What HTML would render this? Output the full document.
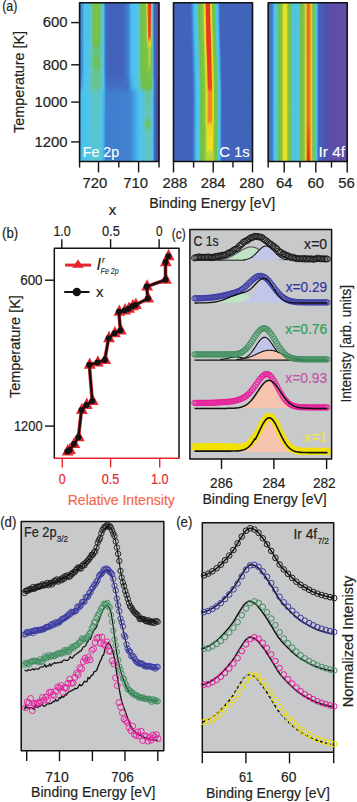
<!DOCTYPE html>
<html><head><meta charset="utf-8"><style>
html,body{margin:0;padding:0;background:#fff;width:357px;height:802px;overflow:hidden}
svg{display:block;font-family:'Liberation Sans',sans-serif}
</style></head><body>
<svg width="357" height="802" viewBox="0 0 357 802" style="font-family:'Liberation Sans',sans-serif">
<defs><linearGradient id="g1" x1="0" y1="0" x2="1" y2="0"><stop offset="0.000" stop-color="#4084d4"/><stop offset="0.013" stop-color="#3f89d7"/><stop offset="0.025" stop-color="#4092dd"/><stop offset="0.038" stop-color="#429ce1"/><stop offset="0.050" stop-color="#47b1e8"/><stop offset="0.063" stop-color="#4cc3ef"/><stop offset="0.076" stop-color="#4ec3ec"/><stop offset="0.088" stop-color="#4fc3e8"/><stop offset="0.101" stop-color="#51c4e5"/><stop offset="0.113" stop-color="#52c4e2"/><stop offset="0.126" stop-color="#56c4d9"/><stop offset="0.139" stop-color="#5cc5cc"/><stop offset="0.151" stop-color="#63c6b9"/><stop offset="0.164" stop-color="#6ac277"/><stop offset="0.176" stop-color="#77c247"/><stop offset="0.239" stop-color="#77c247"/><stop offset="0.252" stop-color="#73c147"/><stop offset="0.264" stop-color="#69c385"/><stop offset="0.277" stop-color="#61c6c2"/><stop offset="0.290" stop-color="#57c5d7"/><stop offset="0.302" stop-color="#4cc3ef"/><stop offset="0.315" stop-color="#4198df"/><stop offset="0.327" stop-color="#4172c5"/><stop offset="0.340" stop-color="#4269be"/><stop offset="0.353" stop-color="#4267bc"/><stop offset="0.365" stop-color="#4264ba"/><stop offset="0.378" stop-color="#4363b9"/><stop offset="0.390" stop-color="#4362b9"/><stop offset="0.529" stop-color="#4362b9"/><stop offset="0.542" stop-color="#4264ba"/><stop offset="0.554" stop-color="#4268bd"/><stop offset="0.567" stop-color="#416dc1"/><stop offset="0.579" stop-color="#4172c5"/><stop offset="0.592" stop-color="#4179ca"/><stop offset="0.605" stop-color="#407fcf"/><stop offset="0.617" stop-color="#4086d5"/><stop offset="0.630" stop-color="#429de1"/><stop offset="0.642" stop-color="#49b5ea"/><stop offset="0.655" stop-color="#4abded"/><stop offset="0.668" stop-color="#4bc0ee"/><stop offset="0.680" stop-color="#4cc3ef"/><stop offset="0.693" stop-color="#4dc3ec"/><stop offset="0.705" stop-color="#4fc3e9"/><stop offset="0.718" stop-color="#51c4e4"/><stop offset="0.730" stop-color="#56c4d9"/><stop offset="0.743" stop-color="#5bc5ce"/><stop offset="0.756" stop-color="#64c5ad"/><stop offset="0.768" stop-color="#6dc165"/><stop offset="0.781" stop-color="#72c148"/><stop offset="0.793" stop-color="#75c147"/><stop offset="0.806" stop-color="#78c246"/><stop offset="0.819" stop-color="#7bc346"/><stop offset="0.831" stop-color="#7ec445"/><stop offset="0.844" stop-color="#cdda2e"/><stop offset="0.856" stop-color="#f09728"/><stop offset="0.869" stop-color="#e93921"/><stop offset="0.894" stop-color="#e93921"/><stop offset="0.907" stop-color="#f0ac26"/><stop offset="0.919" stop-color="#5ec5c9"/><stop offset="0.932" stop-color="#4083d3"/><stop offset="0.945" stop-color="#4264ba"/><stop offset="0.957" stop-color="#485ab3"/><stop offset="0.970" stop-color="#5a4faa"/><stop offset="0.982" stop-color="#5b4fa9"/><stop offset="0.995" stop-color="#5c4ea9"/></linearGradient><linearGradient id="g2" x1="0" y1="0" x2="1" y2="0"><stop offset="0.000" stop-color="#4084d4"/><stop offset="0.013" stop-color="#3f89d7"/><stop offset="0.025" stop-color="#4092dd"/><stop offset="0.038" stop-color="#429ce1"/><stop offset="0.050" stop-color="#47b1e8"/><stop offset="0.063" stop-color="#4cc3ef"/><stop offset="0.076" stop-color="#4ec3ec"/><stop offset="0.088" stop-color="#4fc3e8"/><stop offset="0.101" stop-color="#51c4e5"/><stop offset="0.113" stop-color="#52c4e2"/><stop offset="0.126" stop-color="#56c4d9"/><stop offset="0.139" stop-color="#5cc5cc"/><stop offset="0.151" stop-color="#63c6b9"/><stop offset="0.164" stop-color="#6ac277"/><stop offset="0.176" stop-color="#77c247"/><stop offset="0.239" stop-color="#77c247"/><stop offset="0.252" stop-color="#73c147"/><stop offset="0.264" stop-color="#69c385"/><stop offset="0.277" stop-color="#61c6c2"/><stop offset="0.290" stop-color="#57c5d7"/><stop offset="0.302" stop-color="#4cc3ef"/><stop offset="0.315" stop-color="#4198df"/><stop offset="0.327" stop-color="#4172c5"/><stop offset="0.340" stop-color="#4269be"/><stop offset="0.353" stop-color="#4267bc"/><stop offset="0.365" stop-color="#4264ba"/><stop offset="0.378" stop-color="#4363b9"/><stop offset="0.390" stop-color="#4362b9"/><stop offset="0.529" stop-color="#4362b9"/><stop offset="0.542" stop-color="#4264ba"/><stop offset="0.554" stop-color="#4268bd"/><stop offset="0.567" stop-color="#416dc1"/><stop offset="0.579" stop-color="#4172c5"/><stop offset="0.592" stop-color="#4179ca"/><stop offset="0.605" stop-color="#407fcf"/><stop offset="0.617" stop-color="#4086d5"/><stop offset="0.630" stop-color="#429de1"/><stop offset="0.642" stop-color="#49b5ea"/><stop offset="0.655" stop-color="#4abded"/><stop offset="0.668" stop-color="#4bc0ee"/><stop offset="0.680" stop-color="#4cc3ef"/><stop offset="0.693" stop-color="#4dc3ec"/><stop offset="0.705" stop-color="#4fc3e9"/><stop offset="0.718" stop-color="#51c4e4"/><stop offset="0.730" stop-color="#56c4d9"/><stop offset="0.743" stop-color="#5bc5ce"/><stop offset="0.756" stop-color="#64c5ad"/><stop offset="0.768" stop-color="#6dc165"/><stop offset="0.781" stop-color="#72c048"/><stop offset="0.793" stop-color="#74c147"/><stop offset="0.806" stop-color="#77c247"/><stop offset="0.819" stop-color="#79c346"/><stop offset="0.831" stop-color="#7cc446"/><stop offset="0.844" stop-color="#9bcd3f"/><stop offset="0.856" stop-color="#e7e123"/><stop offset="0.869" stop-color="#ea4b23"/><stop offset="0.882" stop-color="#e93921"/><stop offset="0.894" stop-color="#ee6e27"/><stop offset="0.907" stop-color="#bcd636"/><stop offset="0.919" stop-color="#5ec5c9"/><stop offset="0.932" stop-color="#4083d3"/><stop offset="0.945" stop-color="#4264ba"/><stop offset="0.957" stop-color="#485ab3"/><stop offset="0.970" stop-color="#5a4faa"/><stop offset="0.982" stop-color="#5b4fa9"/><stop offset="0.995" stop-color="#5c4ea9"/></linearGradient><linearGradient id="g3" x1="0" y1="0" x2="1" y2="0"><stop offset="0.000" stop-color="#4084d4"/><stop offset="0.013" stop-color="#3f89d7"/><stop offset="0.025" stop-color="#4092dd"/><stop offset="0.038" stop-color="#429ce1"/><stop offset="0.050" stop-color="#47b1e8"/><stop offset="0.063" stop-color="#4cc3ef"/><stop offset="0.076" stop-color="#4ec3ec"/><stop offset="0.088" stop-color="#4fc3e8"/><stop offset="0.101" stop-color="#51c4e5"/><stop offset="0.113" stop-color="#52c4e2"/><stop offset="0.126" stop-color="#56c4d9"/><stop offset="0.139" stop-color="#5cc5cc"/><stop offset="0.151" stop-color="#63c6ba"/><stop offset="0.164" stop-color="#6ac37e"/><stop offset="0.176" stop-color="#70c048"/><stop offset="0.239" stop-color="#70c048"/><stop offset="0.252" stop-color="#6fc04e"/><stop offset="0.264" stop-color="#68c38a"/><stop offset="0.277" stop-color="#61c6c2"/><stop offset="0.290" stop-color="#57c5d7"/><stop offset="0.302" stop-color="#4cc3ef"/><stop offset="0.315" stop-color="#4198df"/><stop offset="0.327" stop-color="#4172c5"/><stop offset="0.340" stop-color="#4269be"/><stop offset="0.353" stop-color="#4267bc"/><stop offset="0.365" stop-color="#4264ba"/><stop offset="0.378" stop-color="#4363b9"/><stop offset="0.390" stop-color="#4362b9"/><stop offset="0.529" stop-color="#4362b9"/><stop offset="0.542" stop-color="#4264ba"/><stop offset="0.554" stop-color="#4268bd"/><stop offset="0.567" stop-color="#416dc1"/><stop offset="0.579" stop-color="#4172c5"/><stop offset="0.592" stop-color="#4179ca"/><stop offset="0.605" stop-color="#407fcf"/><stop offset="0.617" stop-color="#4086d5"/><stop offset="0.630" stop-color="#429de1"/><stop offset="0.642" stop-color="#49b5ea"/><stop offset="0.655" stop-color="#4abded"/><stop offset="0.668" stop-color="#4bc0ee"/><stop offset="0.680" stop-color="#4cc3ef"/><stop offset="0.693" stop-color="#4dc3ec"/><stop offset="0.705" stop-color="#4fc3e9"/><stop offset="0.718" stop-color="#51c4e4"/><stop offset="0.730" stop-color="#56c4d9"/><stop offset="0.743" stop-color="#5bc5ce"/><stop offset="0.756" stop-color="#64c5ad"/><stop offset="0.768" stop-color="#6dc165"/><stop offset="0.781" stop-color="#72c048"/><stop offset="0.793" stop-color="#74c147"/><stop offset="0.806" stop-color="#77c247"/><stop offset="0.819" stop-color="#79c346"/><stop offset="0.831" stop-color="#7cc446"/><stop offset="0.844" stop-color="#8cc842"/><stop offset="0.856" stop-color="#b0d33b"/><stop offset="0.869" stop-color="#efd121"/><stop offset="0.882" stop-color="#efd121"/><stop offset="0.894" stop-color="#ede320"/><stop offset="0.907" stop-color="#91ca41"/><stop offset="0.919" stop-color="#5ec5c9"/><stop offset="0.932" stop-color="#4083d3"/><stop offset="0.945" stop-color="#4264ba"/><stop offset="0.957" stop-color="#485ab3"/><stop offset="0.970" stop-color="#5a4faa"/><stop offset="0.982" stop-color="#5b4fa9"/><stop offset="0.995" stop-color="#5c4ea9"/></linearGradient><linearGradient id="g4" x1="0" y1="0" x2="1" y2="0"><stop offset="0.000" stop-color="#4084d4"/><stop offset="0.013" stop-color="#3f89d7"/><stop offset="0.025" stop-color="#4092dd"/><stop offset="0.038" stop-color="#429ce1"/><stop offset="0.050" stop-color="#47b1e8"/><stop offset="0.063" stop-color="#4cc3ef"/><stop offset="0.076" stop-color="#4ec3ec"/><stop offset="0.088" stop-color="#4fc3e8"/><stop offset="0.101" stop-color="#51c4e5"/><stop offset="0.113" stop-color="#52c4e2"/><stop offset="0.126" stop-color="#56c4d9"/><stop offset="0.139" stop-color="#5cc5cc"/><stop offset="0.151" stop-color="#62c6bd"/><stop offset="0.164" stop-color="#66c49f"/><stop offset="0.176" stop-color="#69c384"/><stop offset="0.239" stop-color="#69c384"/><stop offset="0.252" stop-color="#69c387"/><stop offset="0.264" stop-color="#65c5a5"/><stop offset="0.277" stop-color="#61c6c2"/><stop offset="0.290" stop-color="#57c5d7"/><stop offset="0.302" stop-color="#4cc3ef"/><stop offset="0.315" stop-color="#4198df"/><stop offset="0.327" stop-color="#4172c5"/><stop offset="0.340" stop-color="#4269be"/><stop offset="0.353" stop-color="#4267bc"/><stop offset="0.365" stop-color="#4264ba"/><stop offset="0.378" stop-color="#4363b9"/><stop offset="0.390" stop-color="#4362b9"/><stop offset="0.529" stop-color="#4362b9"/><stop offset="0.542" stop-color="#4264ba"/><stop offset="0.554" stop-color="#4268bd"/><stop offset="0.567" stop-color="#416dc1"/><stop offset="0.579" stop-color="#4172c5"/><stop offset="0.592" stop-color="#4179ca"/><stop offset="0.605" stop-color="#407fcf"/><stop offset="0.617" stop-color="#4086d5"/><stop offset="0.630" stop-color="#429de1"/><stop offset="0.642" stop-color="#49b5ea"/><stop offset="0.655" stop-color="#4abded"/><stop offset="0.668" stop-color="#4bc0ee"/><stop offset="0.680" stop-color="#4cc3ef"/><stop offset="0.693" stop-color="#4dc3ec"/><stop offset="0.705" stop-color="#4fc3e9"/><stop offset="0.718" stop-color="#51c4e4"/><stop offset="0.730" stop-color="#56c4d9"/><stop offset="0.743" stop-color="#5bc5ce"/><stop offset="0.756" stop-color="#64c5ad"/><stop offset="0.768" stop-color="#6dc165"/><stop offset="0.781" stop-color="#72c048"/><stop offset="0.793" stop-color="#74c147"/><stop offset="0.806" stop-color="#77c247"/><stop offset="0.819" stop-color="#79c346"/><stop offset="0.831" stop-color="#7cc446"/><stop offset="0.844" stop-color="#7ec445"/><stop offset="0.856" stop-color="#7ec445"/><stop offset="0.869" stop-color="#a6d03d"/><stop offset="0.882" stop-color="#b4d43a"/><stop offset="0.894" stop-color="#99cc40"/><stop offset="0.907" stop-color="#6bc26f"/><stop offset="0.919" stop-color="#5ec5c9"/><stop offset="0.932" stop-color="#4083d3"/><stop offset="0.945" stop-color="#4264ba"/><stop offset="0.957" stop-color="#485ab3"/><stop offset="0.970" stop-color="#5a4faa"/><stop offset="0.982" stop-color="#5b4fa9"/><stop offset="0.995" stop-color="#5c4ea9"/></linearGradient><linearGradient id="g5" x1="0" y1="0" x2="1" y2="0"><stop offset="0.000" stop-color="#4084d4"/><stop offset="0.013" stop-color="#3f89d7"/><stop offset="0.025" stop-color="#4092dd"/><stop offset="0.038" stop-color="#429ce1"/><stop offset="0.050" stop-color="#47b1e8"/><stop offset="0.063" stop-color="#4cc3ef"/><stop offset="0.076" stop-color="#4ec3ec"/><stop offset="0.088" stop-color="#4fc3e8"/><stop offset="0.101" stop-color="#51c4e5"/><stop offset="0.113" stop-color="#52c4e2"/><stop offset="0.126" stop-color="#56c4d9"/><stop offset="0.139" stop-color="#5cc5cc"/><stop offset="0.151" stop-color="#63c6bb"/><stop offset="0.164" stop-color="#69c385"/><stop offset="0.176" stop-color="#6fc154"/><stop offset="0.239" stop-color="#6fc154"/><stop offset="0.252" stop-color="#6ec159"/><stop offset="0.264" stop-color="#68c48f"/><stop offset="0.277" stop-color="#61c6c2"/><stop offset="0.290" stop-color="#57c5d7"/><stop offset="0.302" stop-color="#4cc3ef"/><stop offset="0.315" stop-color="#4198df"/><stop offset="0.327" stop-color="#4172c5"/><stop offset="0.340" stop-color="#4269be"/><stop offset="0.353" stop-color="#4267bc"/><stop offset="0.365" stop-color="#4264ba"/><stop offset="0.378" stop-color="#4363b9"/><stop offset="0.390" stop-color="#4362b9"/><stop offset="0.529" stop-color="#4362b9"/><stop offset="0.542" stop-color="#4264ba"/><stop offset="0.554" stop-color="#4268bd"/><stop offset="0.567" stop-color="#416dc1"/><stop offset="0.579" stop-color="#4172c5"/><stop offset="0.592" stop-color="#4179ca"/><stop offset="0.605" stop-color="#407fcf"/><stop offset="0.617" stop-color="#4086d5"/><stop offset="0.630" stop-color="#429de1"/><stop offset="0.642" stop-color="#49b5ea"/><stop offset="0.655" stop-color="#4abded"/><stop offset="0.668" stop-color="#4bc0ee"/><stop offset="0.680" stop-color="#4cc3ef"/><stop offset="0.693" stop-color="#4dc3ec"/><stop offset="0.705" stop-color="#4fc3e9"/><stop offset="0.718" stop-color="#51c4e4"/><stop offset="0.730" stop-color="#56c4d9"/><stop offset="0.743" stop-color="#5bc5ce"/><stop offset="0.756" stop-color="#64c5ad"/><stop offset="0.768" stop-color="#6dc165"/><stop offset="0.781" stop-color="#72c048"/><stop offset="0.793" stop-color="#74c147"/><stop offset="0.806" stop-color="#77c247"/><stop offset="0.819" stop-color="#79c346"/><stop offset="0.831" stop-color="#7cc446"/><stop offset="0.844" stop-color="#7ec445"/><stop offset="0.856" stop-color="#7ec445"/><stop offset="0.869" stop-color="#a6d03d"/><stop offset="0.882" stop-color="#b4d43a"/><stop offset="0.894" stop-color="#99cc40"/><stop offset="0.907" stop-color="#6bc26f"/><stop offset="0.919" stop-color="#5ec5c9"/><stop offset="0.932" stop-color="#4083d3"/><stop offset="0.945" stop-color="#4264ba"/><stop offset="0.957" stop-color="#485ab3"/><stop offset="0.970" stop-color="#5a4faa"/><stop offset="0.982" stop-color="#5b4fa9"/><stop offset="0.995" stop-color="#5c4ea9"/></linearGradient><linearGradient id="g6" x1="0" y1="0" x2="1" y2="0"><stop offset="0.000" stop-color="#4084d4"/><stop offset="0.013" stop-color="#3f89d7"/><stop offset="0.025" stop-color="#4092dd"/><stop offset="0.038" stop-color="#429ce1"/><stop offset="0.050" stop-color="#47b1e8"/><stop offset="0.063" stop-color="#4cc3ef"/><stop offset="0.076" stop-color="#4ec3ec"/><stop offset="0.088" stop-color="#4fc3e8"/><stop offset="0.101" stop-color="#51c4e5"/><stop offset="0.113" stop-color="#52c4e2"/><stop offset="0.126" stop-color="#56c4d9"/><stop offset="0.139" stop-color="#5cc5cc"/><stop offset="0.151" stop-color="#62c6be"/><stop offset="0.164" stop-color="#65c5a6"/><stop offset="0.176" stop-color="#68c490"/><stop offset="0.239" stop-color="#68c490"/><stop offset="0.252" stop-color="#67c492"/><stop offset="0.264" stop-color="#65c5aa"/><stop offset="0.277" stop-color="#61c6c2"/><stop offset="0.290" stop-color="#57c5d7"/><stop offset="0.302" stop-color="#4cc3ef"/><stop offset="0.315" stop-color="#4198df"/><stop offset="0.327" stop-color="#4172c5"/><stop offset="0.340" stop-color="#4269be"/><stop offset="0.353" stop-color="#4267bc"/><stop offset="0.365" stop-color="#4264ba"/><stop offset="0.378" stop-color="#4363b9"/><stop offset="0.390" stop-color="#4362b9"/><stop offset="0.529" stop-color="#4362b9"/><stop offset="0.542" stop-color="#4264ba"/><stop offset="0.554" stop-color="#4268bd"/><stop offset="0.567" stop-color="#416dc1"/><stop offset="0.579" stop-color="#4172c5"/><stop offset="0.592" stop-color="#4179ca"/><stop offset="0.605" stop-color="#407fcf"/><stop offset="0.617" stop-color="#4086d5"/><stop offset="0.630" stop-color="#429de1"/><stop offset="0.642" stop-color="#49b5ea"/><stop offset="0.655" stop-color="#4abded"/><stop offset="0.668" stop-color="#4bc0ee"/><stop offset="0.680" stop-color="#4cc3ef"/><stop offset="0.693" stop-color="#4dc3ec"/><stop offset="0.705" stop-color="#4fc3e9"/><stop offset="0.718" stop-color="#51c4e4"/><stop offset="0.730" stop-color="#56c4d9"/><stop offset="0.743" stop-color="#5bc5ce"/><stop offset="0.756" stop-color="#64c5ad"/><stop offset="0.768" stop-color="#6dc165"/><stop offset="0.781" stop-color="#71c048"/><stop offset="0.793" stop-color="#72c148"/><stop offset="0.806" stop-color="#73c147"/><stop offset="0.819" stop-color="#75c147"/><stop offset="0.831" stop-color="#76c247"/><stop offset="0.844" stop-color="#77c247"/><stop offset="0.856" stop-color="#77c247"/><stop offset="0.869" stop-color="#7cc346"/><stop offset="0.882" stop-color="#7ec445"/><stop offset="0.894" stop-color="#7ac346"/><stop offset="0.907" stop-color="#6bc276"/><stop offset="0.919" stop-color="#5ec5c9"/><stop offset="0.932" stop-color="#4083d3"/><stop offset="0.945" stop-color="#4264ba"/><stop offset="0.957" stop-color="#485ab3"/><stop offset="0.970" stop-color="#5a4faa"/><stop offset="0.982" stop-color="#5b4fa9"/><stop offset="0.995" stop-color="#5c4ea9"/></linearGradient><linearGradient id="g7" x1="0" y1="0" x2="1" y2="0"><stop offset="0.000" stop-color="#3f8fdc"/><stop offset="0.013" stop-color="#4197df"/><stop offset="0.025" stop-color="#44a4e4"/><stop offset="0.038" stop-color="#47b1e8"/><stop offset="0.050" stop-color="#4bbeed"/><stop offset="0.063" stop-color="#4dc3ec"/><stop offset="0.076" stop-color="#50c3e7"/><stop offset="0.088" stop-color="#52c4e3"/><stop offset="0.101" stop-color="#54c4de"/><stop offset="0.113" stop-color="#56c4d9"/><stop offset="0.126" stop-color="#5bc5cf"/><stop offset="0.139" stop-color="#62c6c1"/><stop offset="0.151" stop-color="#66c49e"/><stop offset="0.164" stop-color="#68c490"/><stop offset="0.252" stop-color="#68c490"/><stop offset="0.264" stop-color="#65c5aa"/><stop offset="0.277" stop-color="#5ec5c8"/><stop offset="0.290" stop-color="#56c4d9"/><stop offset="0.302" stop-color="#51c4e5"/><stop offset="0.315" stop-color="#46ace7"/><stop offset="0.327" stop-color="#4081d1"/><stop offset="0.340" stop-color="#4172c5"/><stop offset="0.365" stop-color="#4172c5"/><stop offset="0.378" stop-color="#4171c5"/><stop offset="0.390" stop-color="#4171c4"/><stop offset="0.416" stop-color="#4171c4"/><stop offset="0.428" stop-color="#4170c4"/><stop offset="0.441" stop-color="#4170c4"/><stop offset="0.453" stop-color="#4170c3"/><stop offset="0.466" stop-color="#4170c3"/><stop offset="0.479" stop-color="#416fc3"/><stop offset="0.529" stop-color="#416fc3"/><stop offset="0.542" stop-color="#4170c3"/><stop offset="0.554" stop-color="#4170c4"/><stop offset="0.567" stop-color="#4171c4"/><stop offset="0.579" stop-color="#4171c4"/><stop offset="0.592" stop-color="#4172c5"/><stop offset="0.605" stop-color="#4172c5"/><stop offset="0.617" stop-color="#407ccd"/><stop offset="0.630" stop-color="#3f8cd9"/><stop offset="0.642" stop-color="#439de1"/><stop offset="0.655" stop-color="#45a8e5"/><stop offset="0.668" stop-color="#48b3e9"/><stop offset="0.680" stop-color="#4bbfed"/><stop offset="0.693" stop-color="#4ec3eb"/><stop offset="0.705" stop-color="#51c4e5"/><stop offset="0.718" stop-color="#54c4df"/><stop offset="0.730" stop-color="#57c4d8"/><stop offset="0.743" stop-color="#59c5d2"/><stop offset="0.756" stop-color="#5cc5cc"/><stop offset="0.768" stop-color="#64c5ad"/><stop offset="0.781" stop-color="#6dc165"/><stop offset="0.793" stop-color="#70c048"/><stop offset="0.907" stop-color="#70c048"/><stop offset="0.919" stop-color="#62c6c1"/><stop offset="0.932" stop-color="#46a9e6"/><stop offset="0.945" stop-color="#416fc3"/><stop offset="0.957" stop-color="#485ab3"/><stop offset="0.970" stop-color="#4f4fac"/><stop offset="0.982" stop-color="#534fab"/><stop offset="0.995" stop-color="#564faa"/></linearGradient><linearGradient id="g8" x1="0" y1="0" x2="1" y2="0"><stop offset="0.000" stop-color="#4abaec"/><stop offset="0.013" stop-color="#4abcec"/><stop offset="0.025" stop-color="#4bbeed"/><stop offset="0.038" stop-color="#4bc0ee"/><stop offset="0.050" stop-color="#4cc2ef"/><stop offset="0.063" stop-color="#4cc3ee"/><stop offset="0.076" stop-color="#4dc3ec"/><stop offset="0.088" stop-color="#4ec3eb"/><stop offset="0.101" stop-color="#4fc3e9"/><stop offset="0.113" stop-color="#50c4e7"/><stop offset="0.126" stop-color="#51c4e4"/><stop offset="0.139" stop-color="#56c4d9"/><stop offset="0.151" stop-color="#5bc5ce"/><stop offset="0.164" stop-color="#5ec5c9"/><stop offset="0.252" stop-color="#5ec5c9"/><stop offset="0.264" stop-color="#5ac5d2"/><stop offset="0.277" stop-color="#53c4e0"/><stop offset="0.290" stop-color="#4cc3ef"/><stop offset="0.302" stop-color="#49b5ea"/><stop offset="0.315" stop-color="#45a6e4"/><stop offset="0.327" stop-color="#4088d6"/><stop offset="0.340" stop-color="#407dce"/><stop offset="0.353" stop-color="#407dce"/><stop offset="0.365" stop-color="#407ece"/><stop offset="0.390" stop-color="#407ece"/><stop offset="0.403" stop-color="#407ecf"/><stop offset="0.441" stop-color="#407ecf"/><stop offset="0.453" stop-color="#407fcf"/><stop offset="0.491" stop-color="#407fcf"/><stop offset="0.504" stop-color="#407fd0"/><stop offset="0.516" stop-color="#407fd0"/><stop offset="0.529" stop-color="#4080d0"/><stop offset="0.592" stop-color="#4080d0"/><stop offset="0.605" stop-color="#4081d1"/><stop offset="0.617" stop-color="#4083d2"/><stop offset="0.630" stop-color="#4086d5"/><stop offset="0.642" stop-color="#3f8ad8"/><stop offset="0.655" stop-color="#3f8edb"/><stop offset="0.668" stop-color="#4094de"/><stop offset="0.680" stop-color="#429be0"/><stop offset="0.693" stop-color="#44a3e3"/><stop offset="0.705" stop-color="#46aae6"/><stop offset="0.718" stop-color="#48b1e8"/><stop offset="0.730" stop-color="#49b7eb"/><stop offset="0.743" stop-color="#4bbded"/><stop offset="0.756" stop-color="#4cc3ee"/><stop offset="0.768" stop-color="#4fc3e9"/><stop offset="0.781" stop-color="#51c4e4"/><stop offset="0.793" stop-color="#54c4de"/><stop offset="0.806" stop-color="#59c5d4"/><stop offset="0.819" stop-color="#5fc6c6"/><stop offset="0.831" stop-color="#65c5aa"/><stop offset="0.844" stop-color="#66c49c"/><stop offset="0.882" stop-color="#66c49c"/><stop offset="0.894" stop-color="#63c5b5"/><stop offset="0.907" stop-color="#55c4dc"/><stop offset="0.919" stop-color="#4dc3ee"/><stop offset="0.932" stop-color="#439de1"/><stop offset="0.945" stop-color="#4267bc"/><stop offset="0.957" stop-color="#485ab3"/><stop offset="0.970" stop-color="#4f4fac"/><stop offset="0.982" stop-color="#534fab"/><stop offset="0.995" stop-color="#564faa"/></linearGradient><linearGradient id="g9" x1="0" y1="0" x2="1" y2="0"><stop offset="0.000" stop-color="#4abaec"/><stop offset="0.013" stop-color="#4abcec"/><stop offset="0.025" stop-color="#4bbeed"/><stop offset="0.038" stop-color="#4bc0ee"/><stop offset="0.050" stop-color="#4cc2ef"/><stop offset="0.063" stop-color="#4cc3ee"/><stop offset="0.076" stop-color="#4dc3ec"/><stop offset="0.088" stop-color="#4ec3eb"/><stop offset="0.101" stop-color="#4fc3e9"/><stop offset="0.113" stop-color="#50c4e7"/><stop offset="0.126" stop-color="#51c4e5"/><stop offset="0.139" stop-color="#55c4db"/><stop offset="0.151" stop-color="#5ac5d2"/><stop offset="0.164" stop-color="#5bc5ce"/><stop offset="0.252" stop-color="#5bc5ce"/><stop offset="0.264" stop-color="#57c5d7"/><stop offset="0.277" stop-color="#51c4e5"/><stop offset="0.290" stop-color="#4bbeed"/><stop offset="0.302" stop-color="#47aee7"/><stop offset="0.315" stop-color="#439ee1"/><stop offset="0.327" stop-color="#4086d5"/><stop offset="0.340" stop-color="#407dce"/><stop offset="0.353" stop-color="#407dce"/><stop offset="0.365" stop-color="#407ece"/><stop offset="0.390" stop-color="#407ece"/><stop offset="0.403" stop-color="#407ecf"/><stop offset="0.441" stop-color="#407ecf"/><stop offset="0.453" stop-color="#407fcf"/><stop offset="0.491" stop-color="#407fcf"/><stop offset="0.504" stop-color="#407fd0"/><stop offset="0.516" stop-color="#407fd0"/><stop offset="0.529" stop-color="#4080d0"/><stop offset="0.592" stop-color="#4080d0"/><stop offset="0.605" stop-color="#4081d1"/><stop offset="0.617" stop-color="#4083d2"/><stop offset="0.630" stop-color="#4086d5"/><stop offset="0.642" stop-color="#3f8ad8"/><stop offset="0.655" stop-color="#3f8edb"/><stop offset="0.668" stop-color="#4094de"/><stop offset="0.680" stop-color="#429be0"/><stop offset="0.693" stop-color="#44a3e3"/><stop offset="0.705" stop-color="#46aae6"/><stop offset="0.718" stop-color="#48b1e8"/><stop offset="0.730" stop-color="#49b7eb"/><stop offset="0.743" stop-color="#4bbded"/><stop offset="0.756" stop-color="#4cc3ee"/><stop offset="0.768" stop-color="#4fc3e9"/><stop offset="0.781" stop-color="#51c4e4"/><stop offset="0.793" stop-color="#54c4de"/><stop offset="0.806" stop-color="#58c5d6"/><stop offset="0.819" stop-color="#5dc5cb"/><stop offset="0.831" stop-color="#62c6bf"/><stop offset="0.844" stop-color="#63c5b4"/><stop offset="0.882" stop-color="#63c5b4"/><stop offset="0.894" stop-color="#61c6c3"/><stop offset="0.907" stop-color="#55c4dc"/><stop offset="0.919" stop-color="#4dc3ee"/><stop offset="0.932" stop-color="#439de1"/><stop offset="0.945" stop-color="#4267bc"/><stop offset="0.957" stop-color="#485ab3"/><stop offset="0.970" stop-color="#4f4fac"/><stop offset="0.982" stop-color="#534fab"/><stop offset="0.995" stop-color="#564faa"/></linearGradient><linearGradient id="g10" x1="0" y1="0" x2="1" y2="0"><stop offset="0.000" stop-color="#4abaec"/><stop offset="0.013" stop-color="#4abcec"/><stop offset="0.025" stop-color="#4bbeed"/><stop offset="0.038" stop-color="#4bc0ee"/><stop offset="0.050" stop-color="#4cc2ef"/><stop offset="0.063" stop-color="#4cc3ee"/><stop offset="0.076" stop-color="#4dc3ec"/><stop offset="0.088" stop-color="#4ec3eb"/><stop offset="0.101" stop-color="#4fc3e9"/><stop offset="0.113" stop-color="#50c4e7"/><stop offset="0.126" stop-color="#51c4e5"/><stop offset="0.139" stop-color="#55c4db"/><stop offset="0.151" stop-color="#5ac5d2"/><stop offset="0.164" stop-color="#5bc5ce"/><stop offset="0.252" stop-color="#5bc5ce"/><stop offset="0.264" stop-color="#57c5d7"/><stop offset="0.277" stop-color="#51c4e5"/><stop offset="0.290" stop-color="#4bbeed"/><stop offset="0.302" stop-color="#47aee7"/><stop offset="0.315" stop-color="#439ee1"/><stop offset="0.327" stop-color="#4086d5"/><stop offset="0.340" stop-color="#407dce"/><stop offset="0.353" stop-color="#407dce"/><stop offset="0.365" stop-color="#407ece"/><stop offset="0.390" stop-color="#407ece"/><stop offset="0.403" stop-color="#407ecf"/><stop offset="0.441" stop-color="#407ecf"/><stop offset="0.453" stop-color="#407fcf"/><stop offset="0.491" stop-color="#407fcf"/><stop offset="0.504" stop-color="#407fd0"/><stop offset="0.516" stop-color="#407fd0"/><stop offset="0.529" stop-color="#4080d0"/><stop offset="0.592" stop-color="#4080d0"/><stop offset="0.605" stop-color="#4081d1"/><stop offset="0.617" stop-color="#4083d2"/><stop offset="0.630" stop-color="#4086d5"/><stop offset="0.642" stop-color="#3f8ad8"/><stop offset="0.655" stop-color="#3f8edb"/><stop offset="0.668" stop-color="#4094de"/><stop offset="0.680" stop-color="#429be0"/><stop offset="0.693" stop-color="#44a3e3"/><stop offset="0.705" stop-color="#46aae6"/><stop offset="0.718" stop-color="#48b1e8"/><stop offset="0.730" stop-color="#49b7eb"/><stop offset="0.743" stop-color="#4bbded"/><stop offset="0.756" stop-color="#4cc3ee"/><stop offset="0.768" stop-color="#4fc3e9"/><stop offset="0.781" stop-color="#51c4e4"/><stop offset="0.793" stop-color="#54c4de"/><stop offset="0.806" stop-color="#5bc5cf"/><stop offset="0.819" stop-color="#64c5ae"/><stop offset="0.831" stop-color="#6bc276"/><stop offset="0.844" stop-color="#6dc160"/><stop offset="0.882" stop-color="#6dc160"/><stop offset="0.894" stop-color="#69c387"/><stop offset="0.907" stop-color="#55c4dc"/><stop offset="0.919" stop-color="#4dc3ee"/><stop offset="0.932" stop-color="#439de1"/><stop offset="0.945" stop-color="#4267bc"/><stop offset="0.957" stop-color="#485ab3"/><stop offset="0.970" stop-color="#4f4fac"/><stop offset="0.982" stop-color="#534fab"/><stop offset="0.995" stop-color="#564faa"/></linearGradient><linearGradient id="g11" x1="0" y1="0" x2="1" y2="0"><stop offset="0.000" stop-color="#4abaec"/><stop offset="0.013" stop-color="#4abcec"/><stop offset="0.025" stop-color="#4bbeed"/><stop offset="0.038" stop-color="#4bc0ee"/><stop offset="0.050" stop-color="#4cc2ef"/><stop offset="0.063" stop-color="#4cc3ee"/><stop offset="0.076" stop-color="#4dc3ec"/><stop offset="0.088" stop-color="#4ec3eb"/><stop offset="0.101" stop-color="#4fc3e9"/><stop offset="0.113" stop-color="#50c4e7"/><stop offset="0.126" stop-color="#51c4e5"/><stop offset="0.139" stop-color="#54c4dd"/><stop offset="0.151" stop-color="#58c5d6"/><stop offset="0.164" stop-color="#59c5d3"/><stop offset="0.252" stop-color="#59c5d3"/><stop offset="0.264" stop-color="#56c4da"/><stop offset="0.277" stop-color="#50c4e6"/><stop offset="0.290" stop-color="#4bbeed"/><stop offset="0.302" stop-color="#47aee7"/><stop offset="0.315" stop-color="#439ee1"/><stop offset="0.327" stop-color="#4086d5"/><stop offset="0.340" stop-color="#407dce"/><stop offset="0.353" stop-color="#407dce"/><stop offset="0.365" stop-color="#407ece"/><stop offset="0.390" stop-color="#407ece"/><stop offset="0.403" stop-color="#407ecf"/><stop offset="0.441" stop-color="#407ecf"/><stop offset="0.453" stop-color="#407fcf"/><stop offset="0.491" stop-color="#407fcf"/><stop offset="0.504" stop-color="#407fd0"/><stop offset="0.516" stop-color="#407fd0"/><stop offset="0.529" stop-color="#4080d0"/><stop offset="0.592" stop-color="#4080d0"/><stop offset="0.605" stop-color="#4081d1"/><stop offset="0.617" stop-color="#4083d2"/><stop offset="0.630" stop-color="#4086d5"/><stop offset="0.642" stop-color="#3f8ad8"/><stop offset="0.655" stop-color="#3f8edb"/><stop offset="0.668" stop-color="#4094de"/><stop offset="0.680" stop-color="#429be0"/><stop offset="0.693" stop-color="#44a3e3"/><stop offset="0.705" stop-color="#46aae6"/><stop offset="0.718" stop-color="#48b1e8"/><stop offset="0.730" stop-color="#49b7eb"/><stop offset="0.743" stop-color="#4bbded"/><stop offset="0.756" stop-color="#4cc3ee"/><stop offset="0.768" stop-color="#4fc3e9"/><stop offset="0.781" stop-color="#51c4e4"/><stop offset="0.793" stop-color="#54c4de"/><stop offset="0.806" stop-color="#57c5d7"/><stop offset="0.819" stop-color="#5cc5cd"/><stop offset="0.831" stop-color="#60c6c4"/><stop offset="0.844" stop-color="#62c6c0"/><stop offset="0.882" stop-color="#62c6c0"/><stop offset="0.894" stop-color="#5fc6c7"/><stop offset="0.907" stop-color="#55c4dc"/><stop offset="0.919" stop-color="#4dc3ee"/><stop offset="0.932" stop-color="#439de1"/><stop offset="0.945" stop-color="#4267bc"/><stop offset="0.957" stop-color="#485ab3"/><stop offset="0.970" stop-color="#4f4fac"/><stop offset="0.982" stop-color="#534fab"/><stop offset="0.995" stop-color="#564faa"/></linearGradient><linearGradient id="g12" x1="0" y1="0" x2="1" y2="0"><stop offset="0.000" stop-color="#4abaec"/><stop offset="0.013" stop-color="#4abcec"/><stop offset="0.025" stop-color="#4bbeed"/><stop offset="0.038" stop-color="#4bc0ee"/><stop offset="0.050" stop-color="#4cc2ef"/><stop offset="0.063" stop-color="#4cc3ee"/><stop offset="0.076" stop-color="#4dc3ec"/><stop offset="0.088" stop-color="#4ec3eb"/><stop offset="0.101" stop-color="#4fc3e9"/><stop offset="0.113" stop-color="#50c4e7"/><stop offset="0.126" stop-color="#51c4e5"/><stop offset="0.139" stop-color="#54c4dd"/><stop offset="0.151" stop-color="#58c5d6"/><stop offset="0.164" stop-color="#59c5d3"/><stop offset="0.252" stop-color="#59c5d3"/><stop offset="0.264" stop-color="#56c4da"/><stop offset="0.277" stop-color="#50c4e6"/><stop offset="0.290" stop-color="#4bbeed"/><stop offset="0.302" stop-color="#47aee7"/><stop offset="0.315" stop-color="#439ee1"/><stop offset="0.327" stop-color="#4086d5"/><stop offset="0.340" stop-color="#407dce"/><stop offset="0.353" stop-color="#407dce"/><stop offset="0.365" stop-color="#407ece"/><stop offset="0.390" stop-color="#407ece"/><stop offset="0.403" stop-color="#407ecf"/><stop offset="0.441" stop-color="#407ecf"/><stop offset="0.453" stop-color="#407fcf"/><stop offset="0.491" stop-color="#407fcf"/><stop offset="0.504" stop-color="#407fd0"/><stop offset="0.516" stop-color="#407fd0"/><stop offset="0.529" stop-color="#4080d0"/><stop offset="0.592" stop-color="#4080d0"/><stop offset="0.605" stop-color="#4081d1"/><stop offset="0.617" stop-color="#4083d2"/><stop offset="0.630" stop-color="#4086d5"/><stop offset="0.642" stop-color="#3f8ad8"/><stop offset="0.655" stop-color="#3f8edb"/><stop offset="0.668" stop-color="#4094de"/><stop offset="0.680" stop-color="#429be0"/><stop offset="0.693" stop-color="#44a3e3"/><stop offset="0.705" stop-color="#46aae6"/><stop offset="0.718" stop-color="#48b1e8"/><stop offset="0.730" stop-color="#49b7eb"/><stop offset="0.743" stop-color="#4bbded"/><stop offset="0.756" stop-color="#4cc3ee"/><stop offset="0.768" stop-color="#4fc3e9"/><stop offset="0.781" stop-color="#51c4e4"/><stop offset="0.793" stop-color="#54c4de"/><stop offset="0.806" stop-color="#57c4d8"/><stop offset="0.819" stop-color="#59c5d2"/><stop offset="0.831" stop-color="#5cc5cc"/><stop offset="0.844" stop-color="#5ec5c9"/><stop offset="0.882" stop-color="#5ec5c9"/><stop offset="0.894" stop-color="#5cc5ce"/><stop offset="0.907" stop-color="#55c4dc"/><stop offset="0.919" stop-color="#4dc3ee"/><stop offset="0.932" stop-color="#439de1"/><stop offset="0.945" stop-color="#4267bc"/><stop offset="0.957" stop-color="#485ab3"/><stop offset="0.970" stop-color="#4f4fac"/><stop offset="0.982" stop-color="#534fab"/><stop offset="0.995" stop-color="#564faa"/></linearGradient><linearGradient id="vm13" gradientUnits="userSpaceOnUse" x1="0" y1="3.00" x2="0" y2="36.00"><stop offset="0" stop-color="#fff" stop-opacity="0"/><stop offset="1" stop-color="#fff" stop-opacity="1"/></linearGradient><mask id="m13" maskUnits="userSpaceOnUse" x="79.6" y="2.0" width="79.4" height="35.0"><rect x="79.60" y="3.00" width="79.40" height="33.20" fill="url(#vm13)"/></mask><linearGradient id="vm14" gradientUnits="userSpaceOnUse" x1="0" y1="36.00" x2="0" y2="43.00"><stop offset="0" stop-color="#fff" stop-opacity="0"/><stop offset="1" stop-color="#fff" stop-opacity="1"/></linearGradient><mask id="m14" maskUnits="userSpaceOnUse" x="79.6" y="35.0" width="79.4" height="9.0"><rect x="79.60" y="36.00" width="79.40" height="7.20" fill="url(#vm14)"/></mask><linearGradient id="vm15" gradientUnits="userSpaceOnUse" x1="0" y1="43.00" x2="0" y2="50.00"><stop offset="0" stop-color="#fff" stop-opacity="0"/><stop offset="1" stop-color="#fff" stop-opacity="1"/></linearGradient><mask id="m15" maskUnits="userSpaceOnUse" x="79.6" y="42.0" width="79.4" height="9.0"><rect x="79.60" y="43.00" width="79.40" height="7.20" fill="url(#vm15)"/></mask><linearGradient id="vm16" gradientUnits="userSpaceOnUse" x1="0" y1="50.00" x2="0" y2="64.00"><stop offset="0" stop-color="#fff" stop-opacity="0"/><stop offset="1" stop-color="#fff" stop-opacity="1"/></linearGradient><mask id="m16" maskUnits="userSpaceOnUse" x="79.6" y="49.0" width="79.4" height="16.0"><rect x="79.60" y="50.00" width="79.40" height="14.20" fill="url(#vm16)"/></mask><linearGradient id="vm17" gradientUnits="userSpaceOnUse" x1="0" y1="64.00" x2="0" y2="72.00"><stop offset="0" stop-color="#fff" stop-opacity="0"/><stop offset="1" stop-color="#fff" stop-opacity="1"/></linearGradient><mask id="m17" maskUnits="userSpaceOnUse" x="79.6" y="63.0" width="79.4" height="10.0"><rect x="79.60" y="64.00" width="79.40" height="8.20" fill="url(#vm17)"/></mask><linearGradient id="vm18" gradientUnits="userSpaceOnUse" x1="0" y1="72.00" x2="0" y2="87.00"><stop offset="0" stop-color="#fff" stop-opacity="0"/><stop offset="1" stop-color="#fff" stop-opacity="1"/></linearGradient><mask id="m18" maskUnits="userSpaceOnUse" x="79.6" y="71.0" width="79.4" height="17.0"><rect x="79.60" y="72.00" width="79.40" height="15.20" fill="url(#vm18)"/></mask><linearGradient id="vm19" gradientUnits="userSpaceOnUse" x1="0" y1="87.00" x2="0" y2="93.00"><stop offset="0" stop-color="#fff" stop-opacity="0"/><stop offset="1" stop-color="#fff" stop-opacity="1"/></linearGradient><mask id="m19" maskUnits="userSpaceOnUse" x="79.6" y="86.0" width="79.4" height="8.0"><rect x="79.60" y="87.00" width="79.40" height="6.20" fill="url(#vm19)"/></mask><linearGradient id="vm20" gradientUnits="userSpaceOnUse" x1="0" y1="93.00" x2="0" y2="116.00"><stop offset="0" stop-color="#fff" stop-opacity="0"/><stop offset="1" stop-color="#fff" stop-opacity="1"/></linearGradient><mask id="m20" maskUnits="userSpaceOnUse" x="79.6" y="92.0" width="79.4" height="25.0"><rect x="79.60" y="93.00" width="79.40" height="23.20" fill="url(#vm20)"/></mask><linearGradient id="vm21" gradientUnits="userSpaceOnUse" x1="0" y1="116.00" x2="0" y2="124.00"><stop offset="0" stop-color="#fff" stop-opacity="0"/><stop offset="1" stop-color="#fff" stop-opacity="1"/></linearGradient><mask id="m21" maskUnits="userSpaceOnUse" x="79.6" y="115.0" width="79.4" height="10.0"><rect x="79.60" y="116.00" width="79.40" height="8.20" fill="url(#vm21)"/></mask><linearGradient id="vm22" gradientUnits="userSpaceOnUse" x1="0" y1="124.00" x2="0" y2="134.00"><stop offset="0" stop-color="#fff" stop-opacity="0"/><stop offset="1" stop-color="#fff" stop-opacity="1"/></linearGradient><mask id="m22" maskUnits="userSpaceOnUse" x="79.6" y="123.0" width="79.4" height="12.0"><rect x="79.60" y="124.00" width="79.40" height="10.20" fill="url(#vm22)"/></mask><linearGradient id="vm23" gradientUnits="userSpaceOnUse" x1="0" y1="134.00" x2="0" y2="161.00"><stop offset="0" stop-color="#fff" stop-opacity="0"/><stop offset="1" stop-color="#fff" stop-opacity="1"/></linearGradient><mask id="m23" maskUnits="userSpaceOnUse" x="79.6" y="133.0" width="79.4" height="29.0"><rect x="79.60" y="134.00" width="79.40" height="27.20" fill="url(#vm23)"/></mask><linearGradient id="g24" x1="0" y1="0" x2="1" y2="0"><stop offset="0.000" stop-color="#4264ba"/><stop offset="0.203" stop-color="#4264ba"/><stop offset="0.215" stop-color="#4268bd"/><stop offset="0.228" stop-color="#407ece"/><stop offset="0.241" stop-color="#4094de"/><stop offset="0.253" stop-color="#47aee7"/><stop offset="0.266" stop-color="#4dc3ee"/><stop offset="0.278" stop-color="#4fc3e8"/><stop offset="0.291" stop-color="#52c4e3"/><stop offset="0.304" stop-color="#62c6c0"/><stop offset="0.316" stop-color="#6fc153"/><stop offset="0.329" stop-color="#74c147"/><stop offset="0.342" stop-color="#79c346"/><stop offset="0.354" stop-color="#7ec445"/><stop offset="0.367" stop-color="#83c644"/><stop offset="0.380" stop-color="#b9d538"/><stop offset="0.392" stop-color="#e8e122"/><stop offset="0.405" stop-color="#f0882a"/><stop offset="0.418" stop-color="#e93921"/><stop offset="0.456" stop-color="#e93921"/><stop offset="0.468" stop-color="#efd521"/><stop offset="0.481" stop-color="#d5dc2b"/><stop offset="0.494" stop-color="#7cc446"/><stop offset="0.506" stop-color="#77c247"/><stop offset="0.519" stop-color="#72c048"/><stop offset="0.532" stop-color="#61c6c2"/><stop offset="0.544" stop-color="#4ec3eb"/><stop offset="0.557" stop-color="#4cc3ef"/><stop offset="0.570" stop-color="#429ce1"/><stop offset="0.582" stop-color="#4171c4"/><stop offset="0.595" stop-color="#4264ba"/><stop offset="1.000" stop-color="#4264ba"/></linearGradient><linearGradient id="g25" x1="0" y1="0" x2="1" y2="0"><stop offset="0.000" stop-color="#4264ba"/><stop offset="0.215" stop-color="#4264ba"/><stop offset="0.228" stop-color="#4177c9"/><stop offset="0.241" stop-color="#3f8dda"/><stop offset="0.253" stop-color="#45a6e5"/><stop offset="0.266" stop-color="#4bc0ee"/><stop offset="0.278" stop-color="#4ec3ea"/><stop offset="0.291" stop-color="#51c4e4"/><stop offset="0.304" stop-color="#5bc5ce"/><stop offset="0.316" stop-color="#6bc272"/><stop offset="0.329" stop-color="#73c147"/><stop offset="0.342" stop-color="#78c246"/><stop offset="0.354" stop-color="#7dc445"/><stop offset="0.367" stop-color="#81c544"/><stop offset="0.380" stop-color="#a2cf3e"/><stop offset="0.392" stop-color="#dedf27"/><stop offset="0.405" stop-color="#efd121"/><stop offset="0.418" stop-color="#e93921"/><stop offset="0.456" stop-color="#e93921"/><stop offset="0.468" stop-color="#f0a027"/><stop offset="0.481" stop-color="#e0df26"/><stop offset="0.494" stop-color="#7ec445"/><stop offset="0.506" stop-color="#78c246"/><stop offset="0.519" stop-color="#73c147"/><stop offset="0.532" stop-color="#68c490"/><stop offset="0.544" stop-color="#4ec3ea"/><stop offset="0.557" stop-color="#4dc3ee"/><stop offset="0.570" stop-color="#46a9e6"/><stop offset="0.582" stop-color="#407ece"/><stop offset="0.595" stop-color="#4264ba"/><stop offset="1.000" stop-color="#4264ba"/></linearGradient><linearGradient id="g26" x1="0" y1="0" x2="1" y2="0"><stop offset="0.000" stop-color="#4264ba"/><stop offset="0.215" stop-color="#4264ba"/><stop offset="0.228" stop-color="#416dc1"/><stop offset="0.241" stop-color="#4082d2"/><stop offset="0.253" stop-color="#4299e0"/><stop offset="0.266" stop-color="#48b3e9"/><stop offset="0.278" stop-color="#4dc3ed"/><stop offset="0.291" stop-color="#50c4e7"/><stop offset="0.304" stop-color="#52c4e1"/><stop offset="0.316" stop-color="#65c5a8"/><stop offset="0.329" stop-color="#70c048"/><stop offset="0.342" stop-color="#75c247"/><stop offset="0.354" stop-color="#7ac346"/><stop offset="0.367" stop-color="#7fc445"/><stop offset="0.380" stop-color="#84c644"/><stop offset="0.392" stop-color="#c9d930"/><stop offset="0.405" stop-color="#eee31f"/><stop offset="0.418" stop-color="#eb5324"/><stop offset="0.430" stop-color="#e93921"/><stop offset="0.468" stop-color="#e93921"/><stop offset="0.481" stop-color="#efde20"/><stop offset="0.494" stop-color="#c3d833"/><stop offset="0.506" stop-color="#7bc346"/><stop offset="0.519" stop-color="#76c247"/><stop offset="0.532" stop-color="#71c048"/><stop offset="0.544" stop-color="#5bc5cf"/><stop offset="0.557" stop-color="#4dc3ec"/><stop offset="0.570" stop-color="#4bbfed"/><stop offset="0.582" stop-color="#4093de"/><stop offset="0.595" stop-color="#4268bd"/><stop offset="0.608" stop-color="#4264ba"/><stop offset="1.000" stop-color="#4264ba"/></linearGradient><linearGradient id="g27" x1="0" y1="0" x2="1" y2="0"><stop offset="0.000" stop-color="#4264ba"/><stop offset="0.228" stop-color="#4264ba"/><stop offset="0.241" stop-color="#4175c8"/><stop offset="0.253" stop-color="#3f8bd9"/><stop offset="0.266" stop-color="#44a4e4"/><stop offset="0.278" stop-color="#4bbeed"/><stop offset="0.291" stop-color="#4ec3ea"/><stop offset="0.304" stop-color="#51c4e5"/><stop offset="0.316" stop-color="#59c5d3"/><stop offset="0.329" stop-color="#6ac37c"/><stop offset="0.342" stop-color="#72c148"/><stop offset="0.354" stop-color="#77c246"/><stop offset="0.367" stop-color="#7cc446"/><stop offset="0.380" stop-color="#81c544"/><stop offset="0.392" stop-color="#9bcd3f"/><stop offset="0.405" stop-color="#dbde28"/><stop offset="0.418" stop-color="#efd521"/><stop offset="0.430" stop-color="#e93921"/><stop offset="0.468" stop-color="#e93921"/><stop offset="0.481" stop-color="#f0882a"/><stop offset="0.494" stop-color="#e4e024"/><stop offset="0.506" stop-color="#8bc842"/><stop offset="0.519" stop-color="#79c346"/><stop offset="0.532" stop-color="#74c147"/><stop offset="0.544" stop-color="#6ac37e"/><stop offset="0.557" stop-color="#51c4e5"/><stop offset="0.570" stop-color="#4dc3ed"/><stop offset="0.582" stop-color="#47ade7"/><stop offset="0.595" stop-color="#4082d2"/><stop offset="0.608" stop-color="#4264ba"/><stop offset="1.000" stop-color="#4264ba"/></linearGradient><linearGradient id="g28" x1="0" y1="0" x2="1" y2="0"><stop offset="0.000" stop-color="#4264ba"/><stop offset="0.228" stop-color="#4264ba"/><stop offset="0.241" stop-color="#4266bc"/><stop offset="0.253" stop-color="#407ccd"/><stop offset="0.266" stop-color="#4092dd"/><stop offset="0.278" stop-color="#46ace6"/><stop offset="0.291" stop-color="#4cc3ee"/><stop offset="0.304" stop-color="#4fc3e9"/><stop offset="0.316" stop-color="#52c4e3"/><stop offset="0.329" stop-color="#60c6c5"/><stop offset="0.342" stop-color="#6ec15d"/><stop offset="0.354" stop-color="#74c147"/><stop offset="0.367" stop-color="#79c346"/><stop offset="0.380" stop-color="#7ec445"/><stop offset="0.392" stop-color="#82c544"/><stop offset="0.405" stop-color="#b1d33b"/><stop offset="0.418" stop-color="#e4e024"/><stop offset="0.430" stop-color="#f0a327"/><stop offset="0.443" stop-color="#ea4322"/><stop offset="0.481" stop-color="#ea4322"/><stop offset="0.494" stop-color="#efd121"/><stop offset="0.506" stop-color="#d9dd29"/><stop offset="0.519" stop-color="#7dc445"/><stop offset="0.532" stop-color="#77c246"/><stop offset="0.544" stop-color="#72c148"/><stop offset="0.557" stop-color="#63c5b4"/><stop offset="0.570" stop-color="#4ec3eb"/><stop offset="0.582" stop-color="#4cc3ee"/><stop offset="0.595" stop-color="#43a0e2"/><stop offset="0.608" stop-color="#4175c8"/><stop offset="0.620" stop-color="#4264ba"/><stop offset="1.000" stop-color="#4264ba"/></linearGradient><linearGradient id="g29" x1="0" y1="0" x2="1" y2="0"><stop offset="0.000" stop-color="#4264ba"/><stop offset="0.241" stop-color="#4264ba"/><stop offset="0.253" stop-color="#407acb"/><stop offset="0.266" stop-color="#3f8fdc"/><stop offset="0.278" stop-color="#46a9e6"/><stop offset="0.291" stop-color="#4cc3ef"/><stop offset="0.304" stop-color="#4fc3e9"/><stop offset="0.316" stop-color="#51c4e4"/><stop offset="0.329" stop-color="#5ec5c9"/><stop offset="0.342" stop-color="#6cc268"/><stop offset="0.354" stop-color="#73c147"/><stop offset="0.367" stop-color="#78c246"/><stop offset="0.380" stop-color="#7dc445"/><stop offset="0.392" stop-color="#82c544"/><stop offset="0.405" stop-color="#aad13c"/><stop offset="0.418" stop-color="#e1e025"/><stop offset="0.430" stop-color="#efc523"/><stop offset="0.443" stop-color="#f0882a"/><stop offset="0.481" stop-color="#f0882a"/><stop offset="0.494" stop-color="#efc523"/><stop offset="0.506" stop-color="#ddde27"/><stop offset="0.519" stop-color="#7dc445"/><stop offset="0.532" stop-color="#78c246"/><stop offset="0.544" stop-color="#73c147"/><stop offset="0.557" stop-color="#66c4a2"/><stop offset="0.570" stop-color="#4ec3eb"/><stop offset="0.582" stop-color="#4cc3ee"/><stop offset="0.595" stop-color="#44a5e4"/><stop offset="0.608" stop-color="#407acb"/><stop offset="0.620" stop-color="#4264ba"/><stop offset="1.000" stop-color="#4264ba"/></linearGradient><linearGradient id="g30" x1="0" y1="0" x2="1" y2="0"><stop offset="0.000" stop-color="#4264ba"/><stop offset="0.228" stop-color="#4264ba"/><stop offset="0.241" stop-color="#4266bc"/><stop offset="0.253" stop-color="#407ccd"/><stop offset="0.266" stop-color="#4092dd"/><stop offset="0.278" stop-color="#46ace6"/><stop offset="0.291" stop-color="#4cc3ee"/><stop offset="0.304" stop-color="#4fc3e9"/><stop offset="0.316" stop-color="#52c4e3"/><stop offset="0.329" stop-color="#60c6c5"/><stop offset="0.342" stop-color="#6ec15d"/><stop offset="0.354" stop-color="#74c147"/><stop offset="0.367" stop-color="#79c346"/><stop offset="0.380" stop-color="#7ec445"/><stop offset="0.392" stop-color="#82c544"/><stop offset="0.405" stop-color="#b1d33b"/><stop offset="0.418" stop-color="#e4e024"/><stop offset="0.430" stop-color="#efb924"/><stop offset="0.443" stop-color="#f0882a"/><stop offset="0.481" stop-color="#f0882a"/><stop offset="0.494" stop-color="#efd121"/><stop offset="0.506" stop-color="#d9dd29"/><stop offset="0.519" stop-color="#7dc445"/><stop offset="0.532" stop-color="#77c246"/><stop offset="0.544" stop-color="#72c148"/><stop offset="0.557" stop-color="#63c5b4"/><stop offset="0.570" stop-color="#4ec3eb"/><stop offset="0.582" stop-color="#4cc3ee"/><stop offset="0.595" stop-color="#43a0e2"/><stop offset="0.608" stop-color="#4175c8"/><stop offset="0.620" stop-color="#4264ba"/><stop offset="1.000" stop-color="#4264ba"/></linearGradient><linearGradient id="g31" x1="0" y1="0" x2="1" y2="0"><stop offset="0.000" stop-color="#4264ba"/><stop offset="0.228" stop-color="#4264ba"/><stop offset="0.241" stop-color="#4268bd"/><stop offset="0.253" stop-color="#407ece"/><stop offset="0.266" stop-color="#4094de"/><stop offset="0.278" stop-color="#47aee7"/><stop offset="0.291" stop-color="#4dc3ee"/><stop offset="0.304" stop-color="#4fc3e8"/><stop offset="0.316" stop-color="#52c4e3"/><stop offset="0.329" stop-color="#62c6c0"/><stop offset="0.342" stop-color="#6fc153"/><stop offset="0.354" stop-color="#73c147"/><stop offset="0.367" stop-color="#76c247"/><stop offset="0.380" stop-color="#79c346"/><stop offset="0.392" stop-color="#7dc445"/><stop offset="0.405" stop-color="#99cc40"/><stop offset="0.418" stop-color="#d0db2d"/><stop offset="0.430" stop-color="#efd121"/><stop offset="0.481" stop-color="#efd121"/><stop offset="0.494" stop-color="#efdc20"/><stop offset="0.506" stop-color="#a6d03d"/><stop offset="0.519" stop-color="#7dc445"/><stop offset="0.532" stop-color="#77c246"/><stop offset="0.544" stop-color="#72c048"/><stop offset="0.557" stop-color="#61c6c2"/><stop offset="0.570" stop-color="#4ec3eb"/><stop offset="0.582" stop-color="#4cc3ef"/><stop offset="0.595" stop-color="#429ce1"/><stop offset="0.608" stop-color="#4171c4"/><stop offset="0.620" stop-color="#4264ba"/><stop offset="1.000" stop-color="#4264ba"/></linearGradient><linearGradient id="g32" x1="0" y1="0" x2="1" y2="0"><stop offset="0.000" stop-color="#4264ba"/><stop offset="0.228" stop-color="#4264ba"/><stop offset="0.241" stop-color="#4268bd"/><stop offset="0.253" stop-color="#407ece"/><stop offset="0.266" stop-color="#4094de"/><stop offset="0.278" stop-color="#47aee7"/><stop offset="0.291" stop-color="#4dc3ee"/><stop offset="0.304" stop-color="#4fc3e8"/><stop offset="0.316" stop-color="#52c4e3"/><stop offset="0.329" stop-color="#62c6c0"/><stop offset="0.342" stop-color="#6fc153"/><stop offset="0.354" stop-color="#73c147"/><stop offset="0.367" stop-color="#76c247"/><stop offset="0.380" stop-color="#79c346"/><stop offset="0.392" stop-color="#7dc445"/><stop offset="0.405" stop-color="#99cc40"/><stop offset="0.418" stop-color="#cada30"/><stop offset="0.430" stop-color="#efe31f"/><stop offset="0.481" stop-color="#efe31f"/><stop offset="0.494" stop-color="#e8e122"/><stop offset="0.506" stop-color="#a6d03d"/><stop offset="0.519" stop-color="#7dc445"/><stop offset="0.532" stop-color="#77c246"/><stop offset="0.544" stop-color="#72c048"/><stop offset="0.557" stop-color="#61c6c2"/><stop offset="0.570" stop-color="#4ec3eb"/><stop offset="0.582" stop-color="#4cc3ef"/><stop offset="0.595" stop-color="#429ce1"/><stop offset="0.608" stop-color="#4171c4"/><stop offset="0.620" stop-color="#4264ba"/><stop offset="1.000" stop-color="#4264ba"/></linearGradient><linearGradient id="g33" x1="0" y1="0" x2="1" y2="0"><stop offset="0.000" stop-color="#4264ba"/><stop offset="0.228" stop-color="#4264ba"/><stop offset="0.241" stop-color="#4268bd"/><stop offset="0.253" stop-color="#407ece"/><stop offset="0.266" stop-color="#4094de"/><stop offset="0.278" stop-color="#47aee7"/><stop offset="0.291" stop-color="#4dc3ee"/><stop offset="0.304" stop-color="#4fc3e8"/><stop offset="0.316" stop-color="#52c4e3"/><stop offset="0.329" stop-color="#62c6c0"/><stop offset="0.342" stop-color="#6fc153"/><stop offset="0.354" stop-color="#73c147"/><stop offset="0.367" stop-color="#76c247"/><stop offset="0.380" stop-color="#79c346"/><stop offset="0.392" stop-color="#7dc445"/><stop offset="0.405" stop-color="#99cc40"/><stop offset="0.418" stop-color="#b4d43a"/><stop offset="0.494" stop-color="#b4d43a"/><stop offset="0.506" stop-color="#a6d03d"/><stop offset="0.519" stop-color="#7dc445"/><stop offset="0.532" stop-color="#77c246"/><stop offset="0.544" stop-color="#72c048"/><stop offset="0.557" stop-color="#61c6c2"/><stop offset="0.570" stop-color="#4ec3eb"/><stop offset="0.582" stop-color="#4cc3ef"/><stop offset="0.595" stop-color="#429ce1"/><stop offset="0.608" stop-color="#4171c4"/><stop offset="0.620" stop-color="#4264ba"/><stop offset="1.000" stop-color="#4264ba"/></linearGradient><linearGradient id="vm34" gradientUnits="userSpaceOnUse" x1="0" y1="3.00" x2="0" y2="20.00"><stop offset="0" stop-color="#fff" stop-opacity="0"/><stop offset="1" stop-color="#fff" stop-opacity="1"/></linearGradient><mask id="m34" maskUnits="userSpaceOnUse" x="173.5" y="2.0" width="79.0" height="19.0"><rect x="173.50" y="3.00" width="79.00" height="17.20" fill="url(#vm34)"/></mask><linearGradient id="vm35" gradientUnits="userSpaceOnUse" x1="0" y1="20.00" x2="0" y2="40.00"><stop offset="0" stop-color="#fff" stop-opacity="0"/><stop offset="1" stop-color="#fff" stop-opacity="1"/></linearGradient><mask id="m35" maskUnits="userSpaceOnUse" x="173.5" y="19.0" width="79.0" height="22.0"><rect x="173.50" y="20.00" width="79.00" height="20.20" fill="url(#vm35)"/></mask><linearGradient id="vm36" gradientUnits="userSpaceOnUse" x1="0" y1="40.00" x2="0" y2="60.00"><stop offset="0" stop-color="#fff" stop-opacity="0"/><stop offset="1" stop-color="#fff" stop-opacity="1"/></linearGradient><mask id="m36" maskUnits="userSpaceOnUse" x="173.5" y="39.0" width="79.0" height="22.0"><rect x="173.50" y="40.00" width="79.00" height="20.20" fill="url(#vm36)"/></mask><linearGradient id="vm37" gradientUnits="userSpaceOnUse" x1="0" y1="60.00" x2="0" y2="88.00"><stop offset="0" stop-color="#fff" stop-opacity="0"/><stop offset="1" stop-color="#fff" stop-opacity="1"/></linearGradient><mask id="m37" maskUnits="userSpaceOnUse" x="173.5" y="59.0" width="79.0" height="30.0"><rect x="173.50" y="60.00" width="79.00" height="28.20" fill="url(#vm37)"/></mask><linearGradient id="vm38" gradientUnits="userSpaceOnUse" x1="0" y1="88.00" x2="0" y2="92.00"><stop offset="0" stop-color="#fff" stop-opacity="0"/><stop offset="1" stop-color="#fff" stop-opacity="1"/></linearGradient><mask id="m38" maskUnits="userSpaceOnUse" x="173.5" y="87.0" width="79.0" height="6.0"><rect x="173.50" y="88.00" width="79.00" height="4.20" fill="url(#vm38)"/></mask><linearGradient id="vm39" gradientUnits="userSpaceOnUse" x1="0" y1="92.00" x2="0" y2="121.00"><stop offset="0" stop-color="#fff" stop-opacity="0"/><stop offset="1" stop-color="#fff" stop-opacity="1"/></linearGradient><mask id="m39" maskUnits="userSpaceOnUse" x="173.5" y="91.0" width="79.0" height="31.0"><rect x="173.50" y="92.00" width="79.00" height="29.20" fill="url(#vm39)"/></mask><linearGradient id="vm40" gradientUnits="userSpaceOnUse" x1="0" y1="121.00" x2="0" y2="125.00"><stop offset="0" stop-color="#fff" stop-opacity="0"/><stop offset="1" stop-color="#fff" stop-opacity="1"/></linearGradient><mask id="m40" maskUnits="userSpaceOnUse" x="173.5" y="120.0" width="79.0" height="6.0"><rect x="173.50" y="121.00" width="79.00" height="4.20" fill="url(#vm40)"/></mask><linearGradient id="vm41" gradientUnits="userSpaceOnUse" x1="0" y1="125.00" x2="0" y2="148.00"><stop offset="0" stop-color="#fff" stop-opacity="0"/><stop offset="1" stop-color="#fff" stop-opacity="1"/></linearGradient><mask id="m41" maskUnits="userSpaceOnUse" x="173.5" y="124.0" width="79.0" height="25.0"><rect x="173.50" y="125.00" width="79.00" height="23.20" fill="url(#vm41)"/></mask><linearGradient id="vm42" gradientUnits="userSpaceOnUse" x1="0" y1="148.00" x2="0" y2="155.00"><stop offset="0" stop-color="#fff" stop-opacity="0"/><stop offset="1" stop-color="#fff" stop-opacity="1"/></linearGradient><mask id="m42" maskUnits="userSpaceOnUse" x="173.5" y="147.0" width="79.0" height="9.0"><rect x="173.50" y="148.00" width="79.00" height="7.20" fill="url(#vm42)"/></mask><linearGradient id="g43" x1="0" y1="0" x2="1" y2="0"><stop offset="0.000" stop-color="#426bc0"/><stop offset="0.013" stop-color="#4170c3"/><stop offset="0.025" stop-color="#4175c7"/><stop offset="0.038" stop-color="#407acb"/><stop offset="0.051" stop-color="#407fcf"/><stop offset="0.063" stop-color="#429ae0"/><stop offset="0.076" stop-color="#4cc3ef"/><stop offset="0.089" stop-color="#4fc3ea"/><stop offset="0.101" stop-color="#51c4e4"/><stop offset="0.114" stop-color="#5dc5ca"/><stop offset="0.127" stop-color="#70c048"/><stop offset="0.139" stop-color="#74c147"/><stop offset="0.152" stop-color="#77c247"/><stop offset="0.165" stop-color="#7bc346"/><stop offset="0.177" stop-color="#8dc942"/><stop offset="0.190" stop-color="#e0df26"/><stop offset="0.203" stop-color="#e5e024"/><stop offset="0.215" stop-color="#e9e222"/><stop offset="0.228" stop-color="#eee320"/><stop offset="0.241" stop-color="#aed23b"/><stop offset="0.253" stop-color="#86c743"/><stop offset="0.266" stop-color="#7ec445"/><stop offset="0.278" stop-color="#76c247"/><stop offset="0.291" stop-color="#6cc26a"/><stop offset="0.304" stop-color="#53c4e1"/><stop offset="0.316" stop-color="#52c4e2"/><stop offset="0.329" stop-color="#52c4e3"/><stop offset="0.342" stop-color="#51c4e4"/><stop offset="0.354" stop-color="#51c4e5"/><stop offset="0.367" stop-color="#52c4e3"/><stop offset="0.380" stop-color="#58c5d5"/><stop offset="0.392" stop-color="#61c6c2"/><stop offset="0.405" stop-color="#6dc165"/><stop offset="0.418" stop-color="#75c147"/><stop offset="0.430" stop-color="#7bc346"/><stop offset="0.443" stop-color="#82c544"/><stop offset="0.456" stop-color="#89c743"/><stop offset="0.468" stop-color="#cada30"/><stop offset="0.481" stop-color="#efd121"/><stop offset="0.494" stop-color="#ed6a27"/><stop offset="0.519" stop-color="#ed6a27"/><stop offset="0.532" stop-color="#f09628"/><stop offset="0.544" stop-color="#e8e122"/><stop offset="0.557" stop-color="#94cb41"/><stop offset="0.570" stop-color="#79c346"/><stop offset="0.582" stop-color="#72c147"/><stop offset="0.595" stop-color="#5cc5cd"/><stop offset="0.608" stop-color="#4fc3e8"/><stop offset="0.620" stop-color="#48b2e9"/><stop offset="0.633" stop-color="#4170c3"/><stop offset="0.646" stop-color="#4263ba"/><stop offset="0.658" stop-color="#4460b8"/><stop offset="0.671" stop-color="#455fb6"/><stop offset="0.684" stop-color="#465db5"/><stop offset="0.696" stop-color="#485bb4"/><stop offset="0.709" stop-color="#4958b2"/><stop offset="0.722" stop-color="#4b55b0"/><stop offset="0.734" stop-color="#4d52ae"/><stop offset="0.747" stop-color="#4f4fac"/><stop offset="0.759" stop-color="#544fab"/><stop offset="0.772" stop-color="#594faa"/><stop offset="0.785" stop-color="#5d4ea9"/><stop offset="0.810" stop-color="#5d4ea9"/><stop offset="0.823" stop-color="#5e4ea9"/><stop offset="0.835" stop-color="#5e4ea9"/><stop offset="0.848" stop-color="#5f4ea9"/><stop offset="0.861" stop-color="#5f4ea8"/><stop offset="0.873" stop-color="#5f4ea8"/><stop offset="0.886" stop-color="#604ea8"/><stop offset="0.899" stop-color="#604ea8"/><stop offset="0.911" stop-color="#614ea8"/><stop offset="0.937" stop-color="#614ea8"/><stop offset="0.949" stop-color="#624ea8"/><stop offset="0.962" stop-color="#624ea8"/><stop offset="0.975" stop-color="#634ea8"/><stop offset="1.000" stop-color="#634ea8"/></linearGradient><linearGradient id="g44" x1="0" y1="0" x2="1" y2="0"><stop offset="0.000" stop-color="#426bc0"/><stop offset="0.013" stop-color="#4170c3"/><stop offset="0.025" stop-color="#4175c7"/><stop offset="0.038" stop-color="#407acb"/><stop offset="0.051" stop-color="#407fcf"/><stop offset="0.063" stop-color="#429ae0"/><stop offset="0.076" stop-color="#4cc3ef"/><stop offset="0.089" stop-color="#4fc3ea"/><stop offset="0.101" stop-color="#51c4e4"/><stop offset="0.114" stop-color="#5dc5ca"/><stop offset="0.127" stop-color="#70c048"/><stop offset="0.139" stop-color="#74c147"/><stop offset="0.152" stop-color="#77c247"/><stop offset="0.165" stop-color="#7bc346"/><stop offset="0.177" stop-color="#8dc942"/><stop offset="0.190" stop-color="#e0df26"/><stop offset="0.203" stop-color="#e5e024"/><stop offset="0.215" stop-color="#e9e222"/><stop offset="0.228" stop-color="#eee320"/><stop offset="0.241" stop-color="#aed23b"/><stop offset="0.253" stop-color="#86c743"/><stop offset="0.266" stop-color="#7ec445"/><stop offset="0.278" stop-color="#76c247"/><stop offset="0.291" stop-color="#6cc26a"/><stop offset="0.304" stop-color="#53c4e1"/><stop offset="0.316" stop-color="#52c4e2"/><stop offset="0.329" stop-color="#52c4e3"/><stop offset="0.342" stop-color="#51c4e4"/><stop offset="0.354" stop-color="#51c4e5"/><stop offset="0.367" stop-color="#52c4e3"/><stop offset="0.380" stop-color="#58c5d5"/><stop offset="0.392" stop-color="#61c6c2"/><stop offset="0.405" stop-color="#6dc165"/><stop offset="0.418" stop-color="#75c147"/><stop offset="0.430" stop-color="#7bc346"/><stop offset="0.443" stop-color="#82c544"/><stop offset="0.456" stop-color="#89c743"/><stop offset="0.468" stop-color="#cada30"/><stop offset="0.481" stop-color="#efd121"/><stop offset="0.494" stop-color="#ed6a27"/><stop offset="0.519" stop-color="#ed6a27"/><stop offset="0.532" stop-color="#f09628"/><stop offset="0.544" stop-color="#e8e122"/><stop offset="0.557" stop-color="#94cb41"/><stop offset="0.570" stop-color="#79c346"/><stop offset="0.582" stop-color="#72c147"/><stop offset="0.595" stop-color="#5cc5cd"/><stop offset="0.608" stop-color="#4fc3e8"/><stop offset="0.620" stop-color="#48b2e9"/><stop offset="0.633" stop-color="#4170c3"/><stop offset="0.646" stop-color="#4263ba"/><stop offset="0.658" stop-color="#4460b8"/><stop offset="0.671" stop-color="#455fb6"/><stop offset="0.684" stop-color="#465db5"/><stop offset="0.696" stop-color="#485bb4"/><stop offset="0.709" stop-color="#4958b2"/><stop offset="0.722" stop-color="#4b55b0"/><stop offset="0.734" stop-color="#4d52ae"/><stop offset="0.747" stop-color="#4f4fac"/><stop offset="0.759" stop-color="#544fab"/><stop offset="0.772" stop-color="#594faa"/><stop offset="0.785" stop-color="#5d4ea9"/><stop offset="0.810" stop-color="#5d4ea9"/><stop offset="0.823" stop-color="#5e4ea9"/><stop offset="0.835" stop-color="#5e4ea9"/><stop offset="0.848" stop-color="#5f4ea9"/><stop offset="0.861" stop-color="#5f4ea8"/><stop offset="0.873" stop-color="#5f4ea8"/><stop offset="0.886" stop-color="#604ea8"/><stop offset="0.899" stop-color="#604ea8"/><stop offset="0.911" stop-color="#614ea8"/><stop offset="0.937" stop-color="#614ea8"/><stop offset="0.949" stop-color="#624ea8"/><stop offset="0.962" stop-color="#624ea8"/><stop offset="0.975" stop-color="#634ea8"/><stop offset="1.000" stop-color="#634ea8"/></linearGradient><linearGradient id="g45" x1="0" y1="0" x2="1" y2="0"><stop offset="0.000" stop-color="#426bc0"/><stop offset="0.013" stop-color="#4170c3"/><stop offset="0.025" stop-color="#4175c7"/><stop offset="0.038" stop-color="#407acb"/><stop offset="0.051" stop-color="#407fcf"/><stop offset="0.063" stop-color="#429ae0"/><stop offset="0.076" stop-color="#4cc3ef"/><stop offset="0.089" stop-color="#4fc3ea"/><stop offset="0.101" stop-color="#51c4e4"/><stop offset="0.114" stop-color="#5dc5ca"/><stop offset="0.127" stop-color="#70c048"/><stop offset="0.139" stop-color="#74c147"/><stop offset="0.152" stop-color="#77c247"/><stop offset="0.165" stop-color="#7bc346"/><stop offset="0.177" stop-color="#8dc942"/><stop offset="0.190" stop-color="#e0df26"/><stop offset="0.203" stop-color="#e5e024"/><stop offset="0.215" stop-color="#e9e222"/><stop offset="0.228" stop-color="#eee320"/><stop offset="0.241" stop-color="#aed23b"/><stop offset="0.253" stop-color="#86c743"/><stop offset="0.266" stop-color="#7ec445"/><stop offset="0.278" stop-color="#76c247"/><stop offset="0.291" stop-color="#6cc26a"/><stop offset="0.304" stop-color="#53c4e1"/><stop offset="0.316" stop-color="#52c4e2"/><stop offset="0.329" stop-color="#52c4e3"/><stop offset="0.342" stop-color="#51c4e4"/><stop offset="0.354" stop-color="#51c4e5"/><stop offset="0.367" stop-color="#52c4e3"/><stop offset="0.380" stop-color="#58c5d5"/><stop offset="0.392" stop-color="#61c6c2"/><stop offset="0.405" stop-color="#6dc165"/><stop offset="0.418" stop-color="#75c147"/><stop offset="0.430" stop-color="#7bc346"/><stop offset="0.443" stop-color="#82c544"/><stop offset="0.456" stop-color="#89c743"/><stop offset="0.468" stop-color="#cada30"/><stop offset="0.481" stop-color="#efd121"/><stop offset="0.494" stop-color="#e82f20"/><stop offset="0.519" stop-color="#e82f20"/><stop offset="0.532" stop-color="#ef7928"/><stop offset="0.544" stop-color="#e8e122"/><stop offset="0.557" stop-color="#94cb41"/><stop offset="0.570" stop-color="#79c346"/><stop offset="0.582" stop-color="#72c147"/><stop offset="0.595" stop-color="#5cc5cd"/><stop offset="0.608" stop-color="#4fc3e8"/><stop offset="0.620" stop-color="#48b2e9"/><stop offset="0.633" stop-color="#4170c3"/><stop offset="0.646" stop-color="#4263ba"/><stop offset="0.658" stop-color="#4460b8"/><stop offset="0.671" stop-color="#455fb6"/><stop offset="0.684" stop-color="#465db5"/><stop offset="0.696" stop-color="#485bb4"/><stop offset="0.709" stop-color="#4958b2"/><stop offset="0.722" stop-color="#4b55b0"/><stop offset="0.734" stop-color="#4d52ae"/><stop offset="0.747" stop-color="#4f4fac"/><stop offset="0.759" stop-color="#544fab"/><stop offset="0.772" stop-color="#594faa"/><stop offset="0.785" stop-color="#5d4ea9"/><stop offset="0.810" stop-color="#5d4ea9"/><stop offset="0.823" stop-color="#5e4ea9"/><stop offset="0.835" stop-color="#5e4ea9"/><stop offset="0.848" stop-color="#5f4ea9"/><stop offset="0.861" stop-color="#5f4ea8"/><stop offset="0.873" stop-color="#5f4ea8"/><stop offset="0.886" stop-color="#604ea8"/><stop offset="0.899" stop-color="#604ea8"/><stop offset="0.911" stop-color="#614ea8"/><stop offset="0.937" stop-color="#614ea8"/><stop offset="0.949" stop-color="#624ea8"/><stop offset="0.962" stop-color="#624ea8"/><stop offset="0.975" stop-color="#634ea8"/><stop offset="1.000" stop-color="#634ea8"/></linearGradient><linearGradient id="vm46" gradientUnits="userSpaceOnUse" x1="0" y1="3.00" x2="0" y2="120.00"><stop offset="0" stop-color="#fff" stop-opacity="0"/><stop offset="1" stop-color="#fff" stop-opacity="1"/></linearGradient><mask id="m46" maskUnits="userSpaceOnUse" x="268.2" y="2.0" width="79.0" height="119.0"><rect x="268.20" y="3.00" width="79.00" height="117.20" fill="url(#vm46)"/></mask><linearGradient id="vm47" gradientUnits="userSpaceOnUse" x1="0" y1="120.00" x2="0" y2="161.00"><stop offset="0" stop-color="#fff" stop-opacity="0"/><stop offset="1" stop-color="#fff" stop-opacity="1"/></linearGradient><mask id="m47" maskUnits="userSpaceOnUse" x="268.2" y="119.0" width="79.0" height="43.0"><rect x="268.20" y="120.00" width="79.00" height="41.20" fill="url(#vm47)"/></mask></defs>
<text x="2.2" y="11.2" font-size="14.85" fill="#231f20" text-anchor="start" textLength="15.2" lengthAdjust="spacingAndGlyphs" stroke="#231f20" stroke-width="0.2">(a)</text>
<rect x="79.60" y="2.80" width="79.40" height="0.40" fill="url(#g1)"/>
<rect x="79.60" y="3.00" width="79.40" height="33.20" fill="url(#g1)"/>
<rect x="79.60" y="3.00" width="79.40" height="33.20" fill="url(#g2)" mask="url(#m13)"/>
<rect x="79.60" y="36.00" width="79.40" height="7.20" fill="url(#g2)"/>
<rect x="79.60" y="36.00" width="79.40" height="7.20" fill="url(#g3)" mask="url(#m14)"/>
<rect x="79.60" y="43.00" width="79.40" height="7.20" fill="url(#g3)"/>
<rect x="79.60" y="43.00" width="79.40" height="7.20" fill="url(#g4)" mask="url(#m15)"/>
<rect x="79.60" y="50.00" width="79.40" height="14.20" fill="url(#g4)"/>
<rect x="79.60" y="50.00" width="79.40" height="14.20" fill="url(#g5)" mask="url(#m16)"/>
<rect x="79.60" y="64.00" width="79.40" height="8.20" fill="url(#g5)"/>
<rect x="79.60" y="64.00" width="79.40" height="8.20" fill="url(#g6)" mask="url(#m17)"/>
<rect x="79.60" y="72.00" width="79.40" height="15.20" fill="url(#g6)"/>
<rect x="79.60" y="72.00" width="79.40" height="15.20" fill="url(#g7)" mask="url(#m18)"/>
<rect x="79.60" y="87.00" width="79.40" height="6.20" fill="url(#g7)"/>
<rect x="79.60" y="87.00" width="79.40" height="6.20" fill="url(#g8)" mask="url(#m19)"/>
<rect x="79.60" y="93.00" width="79.40" height="23.20" fill="url(#g8)"/>
<rect x="79.60" y="93.00" width="79.40" height="23.20" fill="url(#g9)" mask="url(#m20)"/>
<rect x="79.60" y="116.00" width="79.40" height="8.20" fill="url(#g9)"/>
<rect x="79.60" y="116.00" width="79.40" height="8.20" fill="url(#g10)" mask="url(#m21)"/>
<rect x="79.60" y="124.00" width="79.40" height="10.20" fill="url(#g10)"/>
<rect x="79.60" y="124.00" width="79.40" height="10.20" fill="url(#g11)" mask="url(#m22)"/>
<rect x="79.60" y="134.00" width="79.40" height="27.20" fill="url(#g11)"/>
<rect x="79.60" y="134.00" width="79.40" height="27.20" fill="url(#g12)" mask="url(#m23)"/>
<rect x="79.60" y="161.00" width="79.40" height="0.50" fill="url(#g12)"/>
<rect x="173.50" y="2.80" width="79.00" height="0.40" fill="url(#g24)"/>
<rect x="173.50" y="3.00" width="79.00" height="17.20" fill="url(#g24)"/>
<rect x="173.50" y="3.00" width="79.00" height="17.20" fill="url(#g25)" mask="url(#m34)"/>
<rect x="173.50" y="20.00" width="79.00" height="20.20" fill="url(#g25)"/>
<rect x="173.50" y="20.00" width="79.00" height="20.20" fill="url(#g26)" mask="url(#m35)"/>
<rect x="173.50" y="40.00" width="79.00" height="20.20" fill="url(#g26)"/>
<rect x="173.50" y="40.00" width="79.00" height="20.20" fill="url(#g27)" mask="url(#m36)"/>
<rect x="173.50" y="60.00" width="79.00" height="28.20" fill="url(#g27)"/>
<rect x="173.50" y="60.00" width="79.00" height="28.20" fill="url(#g28)" mask="url(#m37)"/>
<rect x="173.50" y="88.00" width="79.00" height="4.20" fill="url(#g28)"/>
<rect x="173.50" y="88.00" width="79.00" height="4.20" fill="url(#g29)" mask="url(#m38)"/>
<rect x="173.50" y="92.00" width="79.00" height="29.20" fill="url(#g29)"/>
<rect x="173.50" y="92.00" width="79.00" height="29.20" fill="url(#g30)" mask="url(#m39)"/>
<rect x="173.50" y="121.00" width="79.00" height="4.20" fill="url(#g30)"/>
<rect x="173.50" y="121.00" width="79.00" height="4.20" fill="url(#g31)" mask="url(#m40)"/>
<rect x="173.50" y="125.00" width="79.00" height="23.20" fill="url(#g31)"/>
<rect x="173.50" y="125.00" width="79.00" height="23.20" fill="url(#g32)" mask="url(#m41)"/>
<rect x="173.50" y="148.00" width="79.00" height="7.20" fill="url(#g32)"/>
<rect x="173.50" y="148.00" width="79.00" height="7.20" fill="url(#g33)" mask="url(#m42)"/>
<rect x="173.50" y="155.00" width="79.00" height="6.50" fill="url(#g33)"/>
<rect x="268.20" y="2.80" width="79.00" height="0.40" fill="url(#g43)"/>
<rect x="268.20" y="3.00" width="79.00" height="117.20" fill="url(#g43)"/>
<rect x="268.20" y="3.00" width="79.00" height="117.20" fill="url(#g44)" mask="url(#m46)"/>
<rect x="268.20" y="120.00" width="79.00" height="41.20" fill="url(#g44)"/>
<rect x="268.20" y="120.00" width="79.00" height="41.20" fill="url(#g45)" mask="url(#m47)"/>
<rect x="268.20" y="161.00" width="79.00" height="0.50" fill="url(#g45)"/>
<rect x="79.60" y="2.80" width="79.40" height="158.70" fill="none" stroke="#111" stroke-width="1.6" stroke-linejoin="round"/>
<rect x="173.50" y="2.80" width="79.00" height="158.70" fill="none" stroke="#111" stroke-width="1.6" stroke-linejoin="round"/>
<rect x="268.20" y="2.80" width="79.00" height="158.70" fill="none" stroke="#111" stroke-width="1.6" stroke-linejoin="round"/>
<line x1="71.20" y1="22.60" x2="79.60" y2="22.60" stroke="#111" stroke-width="1.4"/>
<text x="67.6" y="27.4" font-size="14.85" fill="#231f20" text-anchor="end" stroke="#231f20" stroke-width="0.2">600</text>
<line x1="71.20" y1="64.80" x2="79.60" y2="64.80" stroke="#111" stroke-width="1.4"/>
<text x="67.6" y="69.6" font-size="14.85" fill="#231f20" text-anchor="end" stroke="#231f20" stroke-width="0.2">800</text>
<line x1="71.20" y1="102.10" x2="79.60" y2="102.10" stroke="#111" stroke-width="1.4"/>
<text x="67.6" y="106.9" font-size="14.85" fill="#231f20" text-anchor="end" stroke="#231f20" stroke-width="0.2">1000</text>
<line x1="71.20" y1="141.90" x2="79.60" y2="141.90" stroke="#111" stroke-width="1.4"/>
<text x="67.6" y="146.7" font-size="14.85" fill="#231f20" text-anchor="end" stroke="#231f20" stroke-width="0.2">1200</text>
<text x="24.2" y="81.9" font-size="14.85" fill="#231f20" text-anchor="middle" textLength="102.0" lengthAdjust="spacingAndGlyphs" transform="rotate(-90 24.2 81.9)" stroke="#231f20" stroke-width="0.2">Temperature [K]</text>
<line x1="98.50" y1="161.50" x2="98.50" y2="172.40" stroke="#111" stroke-width="1.4"/>
<line x1="138.60" y1="161.50" x2="138.60" y2="172.40" stroke="#111" stroke-width="1.4"/>
<line x1="79.60" y1="161.50" x2="79.60" y2="167.60" stroke="#111" stroke-width="1.4"/>
<line x1="118.80" y1="161.50" x2="118.80" y2="167.60" stroke="#111" stroke-width="1.4"/>
<line x1="159.00" y1="161.50" x2="159.00" y2="167.60" stroke="#111" stroke-width="1.4"/>
<text x="94.9" y="188.0" font-size="14.85" fill="#231f20" text-anchor="middle" stroke="#231f20" stroke-width="0.2">720</text>
<text x="135.6" y="188.0" font-size="14.85" fill="#231f20" text-anchor="middle" stroke="#231f20" stroke-width="0.2">710</text>
<line x1="173.50" y1="161.50" x2="173.50" y2="172.40" stroke="#111" stroke-width="1.4"/>
<line x1="213.20" y1="161.50" x2="213.20" y2="172.40" stroke="#111" stroke-width="1.4"/>
<line x1="252.50" y1="161.50" x2="252.50" y2="172.40" stroke="#111" stroke-width="1.4"/>
<line x1="193.60" y1="161.50" x2="193.60" y2="167.60" stroke="#111" stroke-width="1.4"/>
<line x1="233.00" y1="161.50" x2="233.00" y2="167.60" stroke="#111" stroke-width="1.4"/>
<text x="175.0" y="188.0" font-size="14.85" fill="#231f20" text-anchor="middle" stroke="#231f20" stroke-width="0.2">288</text>
<text x="213.2" y="188.0" font-size="14.85" fill="#231f20" text-anchor="middle" stroke="#231f20" stroke-width="0.2">284</text>
<text x="251.6" y="188.0" font-size="14.85" fill="#231f20" text-anchor="middle" stroke="#231f20" stroke-width="0.2">280</text>
<line x1="284.20" y1="161.50" x2="284.20" y2="172.40" stroke="#111" stroke-width="1.4"/>
<line x1="315.80" y1="161.50" x2="315.80" y2="172.40" stroke="#111" stroke-width="1.4"/>
<line x1="347.20" y1="161.50" x2="347.20" y2="172.40" stroke="#111" stroke-width="1.4"/>
<line x1="268.20" y1="161.50" x2="268.20" y2="167.60" stroke="#111" stroke-width="1.4"/>
<line x1="300.00" y1="161.50" x2="300.00" y2="167.60" stroke="#111" stroke-width="1.4"/>
<line x1="331.50" y1="161.50" x2="331.50" y2="167.60" stroke="#111" stroke-width="1.4"/>
<text x="284.2" y="188.0" font-size="14.85" fill="#231f20" text-anchor="middle" stroke="#231f20" stroke-width="0.2">64</text>
<text x="315.8" y="188.0" font-size="14.85" fill="#231f20" text-anchor="middle" stroke="#231f20" stroke-width="0.2">60</text>
<text x="346.5" y="188.0" font-size="14.85" fill="#231f20" text-anchor="middle" stroke="#231f20" stroke-width="0.2">56</text>
<text x="212.2" y="208.2" font-size="14.85" fill="#231f20" text-anchor="middle" textLength="126.0" lengthAdjust="spacingAndGlyphs" stroke="#231f20" stroke-width="0.2">Binding Energy [eV]</text>
<text x="82.7" y="157.2" font-size="14.85" fill="#ffffff" text-anchor="start" textLength="36.5" lengthAdjust="spacingAndGlyphs" stroke="#ffffff" stroke-width="0.15">Fe 2p</text>
<text x="249.8" y="157.2" font-size="14.85" fill="#ffffff" text-anchor="end" textLength="30.6" lengthAdjust="spacingAndGlyphs" stroke="#ffffff" stroke-width="0.15">C 1s</text>
<text x="345.0" y="156.5" font-size="14.85" fill="#ffffff" text-anchor="end" textLength="26.4" lengthAdjust="spacingAndGlyphs" stroke="#ffffff" stroke-width="0.15">Ir 4f</text>
<text x="2.0" y="237.8" font-size="14.85" fill="#231f20" text-anchor="start" textLength="16.2" lengthAdjust="spacingAndGlyphs" stroke="#231f20" stroke-width="0.2">(b)</text>
<rect x="54.3" y="248.3" width="124.7" height="210.0" fill="#fff"/>
<path d="M54.3,458.3 L54.3,248.3 L179.0,248.3 L179.0,458.3" fill="none" stroke="#111" stroke-width="1.5" stroke-linejoin="round"/>
<line x1="53.60" y1="458.30" x2="179.70" y2="458.30" stroke="#e5262e" stroke-width="1.6"/>
<line x1="61.80" y1="239.20" x2="61.80" y2="248.30" stroke="#111" stroke-width="1.4"/>
<text x="62.1" y="235.6" font-size="14.85" fill="#231f20" text-anchor="middle" textLength="17.3" lengthAdjust="spacingAndGlyphs" stroke="#231f20" stroke-width="0.2">1.0</text>
<line x1="110.60" y1="239.20" x2="110.60" y2="248.30" stroke="#111" stroke-width="1.4"/>
<text x="110.9" y="235.6" font-size="14.85" fill="#231f20" text-anchor="middle" textLength="17.9" lengthAdjust="spacingAndGlyphs" stroke="#231f20" stroke-width="0.2">0.5</text>
<line x1="159.10" y1="239.20" x2="159.10" y2="248.30" stroke="#111" stroke-width="1.4"/>
<text x="159.4" y="235.6" font-size="14.85" fill="#231f20" text-anchor="middle" textLength="6.6" lengthAdjust="spacingAndGlyphs" stroke="#231f20" stroke-width="0.2">0</text>
<text x="112.4" y="214.5" font-size="14.85" fill="#231f20" text-anchor="middle" stroke="#231f20" stroke-width="0.2">x</text>
<line x1="62.30" y1="458.30" x2="62.30" y2="467.40" stroke="#e5262e" stroke-width="1.4"/>
<text x="62.3" y="484.0" font-size="14.85" fill="#e5262e" text-anchor="middle" textLength="6.9" lengthAdjust="spacingAndGlyphs" stroke="#e5262e" stroke-width="0.2">0</text>
<line x1="110.60" y1="458.30" x2="110.60" y2="467.40" stroke="#e5262e" stroke-width="1.4"/>
<text x="110.6" y="484.0" font-size="14.85" fill="#e5262e" text-anchor="middle" textLength="17.7" lengthAdjust="spacingAndGlyphs" stroke="#e5262e" stroke-width="0.2">0.5</text>
<line x1="159.70" y1="458.30" x2="159.70" y2="467.40" stroke="#e5262e" stroke-width="1.4"/>
<text x="159.7" y="484.0" font-size="14.85" fill="#e5262e" text-anchor="middle" textLength="17.6" lengthAdjust="spacingAndGlyphs" stroke="#e5262e" stroke-width="0.2">1.0</text>
<text x="121.3" y="505.2" font-size="14.85" fill="#f26a4f" text-anchor="middle" textLength="107.2" lengthAdjust="spacingAndGlyphs" stroke="#f26a4f" stroke-width="0.2">Relative Intensity</text>
<line x1="45.00" y1="280.20" x2="54.30" y2="280.20" stroke="#111" stroke-width="1.4"/>
<text x="42.6" y="285.0" font-size="14.85" fill="#231f20" text-anchor="end" textLength="22.4" lengthAdjust="spacingAndGlyphs" stroke="#231f20" stroke-width="0.2">600</text>
<line x1="45.00" y1="426.10" x2="54.30" y2="426.10" stroke="#111" stroke-width="1.4"/>
<text x="42.6" y="430.9" font-size="14.85" fill="#231f20" text-anchor="end" textLength="28.7" lengthAdjust="spacingAndGlyphs" stroke="#231f20" stroke-width="0.2">1200</text>
<text x="20.0" y="346.6" font-size="14.85" fill="#231f20" text-anchor="middle" textLength="103.0" lengthAdjust="spacingAndGlyphs" transform="rotate(-90 20.0 346.6)" stroke="#231f20" stroke-width="0.2">Temperature [K]</text>
<g fill="#e5262e"><path d="M168.6,248.8 L174.5,260.2 L162.7,260.2 Z"/><path d="M165.9,254.9 L171.8,266.3 L160.0,266.3 Z"/><path d="M165.9,272.4 L171.8,283.8 L160.0,283.8 Z"/><path d="M147.1,279.2 L153.0,290.6 L141.2,290.6 Z"/><path d="M148.2,291.2 L154.1,302.6 L142.3,302.6 Z"/><path d="M135.9,297.5 L141.8,308.9 L130.0,308.9 Z"/><path d="M132.9,298.8 L138.8,310.2 L127.0,310.2 Z"/><path d="M129.0,301.4 L134.9,312.8 L123.1,312.8 Z"/><path d="M125.1,303.0 L131.0,314.4 L119.2,314.4 Z"/><path d="M119.3,304.4 L125.2,315.8 L113.4,315.8 Z"/><path d="M120.8,323.0 L126.7,334.4 L114.9,334.4 Z"/><path d="M114.9,325.9 L120.8,337.3 L109.0,337.3 Z"/><path d="M109.0,330.8 L114.9,342.2 L103.1,342.2 Z"/><path d="M105.2,352.5 L111.1,363.9 L99.3,363.9 Z"/><path d="M97.9,355.2 L103.8,366.6 L92.0,366.6 Z"/><path d="M89.7,357.4 L95.6,368.8 L83.8,368.8 Z"/><path d="M92.7,393.7 L98.6,405.1 L86.8,405.1 Z"/><path d="M86.8,397.6 L92.7,409.0 L80.9,409.0 Z"/><path d="M81.9,402.7 L87.8,414.1 L76.0,414.1 Z"/><path d="M78.8,429.9 L84.7,441.3 L72.9,441.3 Z"/><path d="M74.3,436.7 L80.2,448.1 L68.4,448.1 Z"/><path d="M70.0,442.6 L75.9,454.0 L64.1,454.0 Z"/><path d="M67.7,444.0 L73.6,455.4 L61.8,455.4 Z"/></g>
<path d="M168.20,256.20 L165.50,262.30 L165.50,279.80 L146.70,286.60 L147.80,298.60 L135.50,304.90 L132.50,306.20 L128.60,308.80 L124.70,310.40 L118.90,311.80 L120.40,330.40 L114.50,333.30 L108.60,338.20 L104.80,359.90 L97.50,362.60 L89.30,364.80 L92.30,401.10 L86.40,405.00 L81.50,410.10 L78.40,437.30 L73.90,444.10 L69.60,450.00 L67.30,451.40" fill="none" stroke="#e5262e" stroke-width="3.6" stroke-linejoin="round"/>
<path d="M168.20,256.20 L165.50,262.30 L165.50,279.80 L146.70,286.60 L147.80,298.60 L135.50,304.90 L132.50,306.20 L128.60,308.80 L124.70,310.40 L118.90,311.80 L120.40,330.40 L114.50,333.30 L108.60,338.20 L104.80,359.90 L97.50,362.60 L89.30,364.80 L92.30,401.10 L86.40,405.00 L81.50,410.10 L78.40,437.30 L73.90,444.10 L69.60,450.00 L67.30,451.40" fill="none" stroke="#111" stroke-width="2.3" stroke-linejoin="round"/>
<g fill="#111"><circle cx="168.2" cy="256.2" r="3.0"/><circle cx="165.5" cy="262.3" r="3.0"/><circle cx="165.5" cy="279.8" r="3.0"/><circle cx="146.7" cy="286.6" r="3.0"/><circle cx="147.8" cy="298.6" r="3.0"/><circle cx="135.5" cy="304.9" r="3.0"/><circle cx="132.5" cy="306.2" r="3.0"/><circle cx="128.6" cy="308.8" r="3.0"/><circle cx="124.7" cy="310.4" r="3.0"/><circle cx="118.9" cy="311.8" r="3.0"/><circle cx="120.4" cy="330.4" r="3.0"/><circle cx="114.5" cy="333.3" r="3.0"/><circle cx="108.6" cy="338.2" r="3.0"/><circle cx="104.8" cy="359.9" r="3.0"/><circle cx="97.5" cy="362.6" r="3.0"/><circle cx="89.3" cy="364.8" r="3.0"/><circle cx="92.3" cy="401.1" r="3.0"/><circle cx="86.4" cy="405.0" r="3.0"/><circle cx="81.5" cy="410.1" r="3.0"/><circle cx="78.4" cy="437.3" r="3.0"/><circle cx="73.9" cy="444.1" r="3.0"/><circle cx="69.6" cy="450.0" r="3.0"/><circle cx="67.3" cy="451.4" r="3.0"/></g>
<line x1="65.10" y1="265.10" x2="91.10" y2="265.10" stroke="#e5262e" stroke-width="3"/>
<path d="M78,259.6 L83.8,267.8 L72.2,267.8 Z" fill="#e5262e"/>
<text x="96.6" y="269.8" font-size="16.5" fill="#231f20" text-anchor="start" font-style="italic" stroke="#231f20" stroke-width="0.1">I</text>
<text x="102.0" y="262.6" font-size="8.5" fill="#231f20" text-anchor="start" font-style="italic" stroke="#231f20" stroke-width="0.1">r</text>
<text x="100.6" y="274.4" font-size="9.5" fill="#231f20" text-anchor="start" textLength="18.0" lengthAdjust="spacingAndGlyphs" font-style="italic" stroke="#231f20" stroke-width="0.1">Fe 2p</text>
<line x1="64.20" y1="292.00" x2="89.50" y2="292.00" stroke="#111" stroke-width="2.0"/>
<circle cx="76.8" cy="292.0" r="4.2" fill="#111"/>
<text x="96.0" y="296.6" font-size="14.85" fill="#231f20" text-anchor="start" stroke="#231f20" stroke-width="0.15">x</text>
<text x="171.8" y="238.6" font-size="14.85" fill="#231f20" text-anchor="start" textLength="13.9" lengthAdjust="spacingAndGlyphs" stroke="#231f20" stroke-width="0.2">(c)</text>
<rect x="189.9" y="229.4" width="141.7" height="229.5" fill="#c8c9cb"/>
<path d="M216.90,259.88 L217.60,259.83 L218.30,259.77 L219.00,259.70 L219.70,259.63 L220.40,259.54 L221.10,259.44 L221.80,259.34 L222.50,259.22 L223.20,259.09 L223.90,258.94 L224.60,258.78 L225.30,258.61 L226.00,258.41 L226.70,258.20 L227.40,257.98 L228.10,257.74 L228.80,257.47 L229.50,257.19 L230.20,256.89 L230.90,256.58 L231.60,256.24 L232.30,255.89 L233.00,255.52 L233.70,255.13 L234.40,254.73 L235.10,254.32 L235.80,253.90 L236.50,253.46 L237.20,253.02 L237.90,252.58 L238.60,252.13 L239.30,251.68 L240.00,251.24 L240.70,250.80 L241.40,250.37 L242.10,249.96 L242.80,249.56 L243.50,249.17 L244.20,248.82 L244.90,248.48 L245.60,248.18 L246.30,247.90 L247.00,247.66 L247.70,247.45 L248.40,247.28 L249.10,247.15 L249.80,247.06 L250.50,247.01 L251.20,247.00 L251.90,247.03 L252.60,247.11 L253.30,247.22 L254.00,247.37 L254.70,247.57 L255.40,247.79 L256.10,248.05 L256.80,248.35 L257.50,248.67 L258.20,249.02 L258.90,249.39 L259.60,249.78 L260.30,250.19 L261.00,250.61 L261.70,251.05 L262.40,251.49 L263.10,251.94 L263.80,252.39 L264.50,252.83 L265.20,253.28 L265.90,253.71 L266.60,254.14 L267.30,254.56 L268.00,254.96 L268.70,255.36 L269.40,255.73 L270.10,256.09 L270.80,256.44 L271.50,256.76 L272.20,257.07 L272.90,257.36 L273.60,257.63 L274.30,257.88 L275.00,258.11 L275.70,258.33 L276.40,258.53 L277.10,258.71 L277.80,258.87 L278.50,259.03 L279.20,259.16 L279.90,259.29 L280.60,259.40 L281.30,259.50 L282.00,259.59 L282.70,259.67 L283.40,259.74 L284.10,259.80 L284.80,259.86 Z" fill="#bfe3c4"/>
<path d="M216.90,259.88 L217.60,259.83 L218.30,259.77 L219.00,259.70 L219.70,259.63 L220.40,259.54 L221.10,259.44 L221.80,259.34 L222.50,259.22 L223.20,259.09 L223.90,258.94 L224.60,258.78 L225.30,258.61 L226.00,258.41 L226.70,258.20 L227.40,257.98 L228.10,257.74 L228.80,257.47 L229.50,257.19 L230.20,256.89 L230.90,256.58 L231.60,256.24 L232.30,255.89 L233.00,255.52 L233.70,255.13 L234.40,254.73 L235.10,254.32 L235.80,253.90 L236.50,253.46 L237.20,253.02 L237.90,252.58 L238.60,252.13 L239.30,251.68 L240.00,251.24 L240.70,250.80 L241.40,250.37 L242.10,249.96 L242.80,249.56 L243.50,249.17 L244.20,248.82 L244.90,248.48 L245.60,248.18 L246.30,247.90 L247.00,247.66 L247.70,247.45 L248.40,247.28 L249.10,247.15 L249.80,247.06 L250.50,247.01 L251.20,247.00 L251.90,247.03 L252.60,247.11 L253.30,247.22 L254.00,247.37 L254.70,247.57 L255.40,247.79 L256.10,248.05 L256.80,248.35 L257.50,248.67 L258.20,249.02 L258.90,249.39 L259.60,249.78 L260.30,250.19 L261.00,250.61 L261.70,251.05 L262.40,251.49 L263.10,251.94 L263.80,252.39 L264.50,252.83 L265.20,253.28 L265.90,253.71 L266.60,254.14 L267.30,254.56 L268.00,254.96 L268.70,255.36 L269.40,255.73 L270.10,256.09 L270.80,256.44 L271.50,256.76 L272.20,257.07 L272.90,257.36 L273.60,257.63 L274.30,257.88 L275.00,258.11 L275.70,258.33 L276.40,258.53 L277.10,258.71 L277.80,258.87 L278.50,259.03 L279.20,259.16 L279.90,259.29 L280.60,259.40 L281.30,259.50 L282.00,259.59 L282.70,259.67 L283.40,259.74 L284.10,259.80 L284.80,259.86" fill="none" stroke="#555" stroke-width="1.1"/>
<path d="M243.50,259.87 L244.20,259.79 L244.90,259.68 L245.60,259.56 L246.30,259.41 L247.00,259.23 L247.70,259.02 L248.40,258.78 L249.10,258.50 L249.80,258.18 L250.50,257.82 L251.20,257.41 L251.90,256.96 L252.60,256.46 L253.30,255.92 L254.00,255.33 L254.70,254.71 L255.40,254.04 L256.10,253.35 L256.80,252.63 L257.50,251.90 L258.20,251.17 L258.90,250.44 L259.60,249.73 L260.30,249.05 L261.00,248.41 L261.70,247.82 L262.40,247.30 L263.10,246.86 L263.80,246.50 L264.50,246.24 L265.20,246.07 L265.90,246.00 L266.60,246.04 L267.30,246.18 L268.00,246.42 L268.70,246.75 L269.40,247.17 L270.10,247.67 L270.80,248.24 L271.50,248.86 L272.20,249.53 L272.90,250.23 L273.60,250.96 L274.30,251.69 L275.00,252.42 L275.70,253.15 L276.40,253.85 L277.10,254.52 L277.80,255.16 L278.50,255.76 L279.20,256.31 L279.90,256.82 L280.60,257.29 L281.30,257.71 L282.00,258.08 L282.70,258.42 L283.40,258.71 L284.10,258.96 L284.80,259.17 L285.50,259.36 L286.20,259.52 L286.90,259.65 L287.60,259.76 L288.30,259.85 Z" fill="#c3c6e8"/>
<path d="M243.50,259.87 L244.20,259.79 L244.90,259.68 L245.60,259.56 L246.30,259.41 L247.00,259.23 L247.70,259.02 L248.40,258.78 L249.10,258.50 L249.80,258.18 L250.50,257.82 L251.20,257.41 L251.90,256.96 L252.60,256.46 L253.30,255.92 L254.00,255.33 L254.70,254.71 L255.40,254.04 L256.10,253.35 L256.80,252.63 L257.50,251.90 L258.20,251.17 L258.90,250.44 L259.60,249.73 L260.30,249.05 L261.00,248.41 L261.70,247.82 L262.40,247.30 L263.10,246.86 L263.80,246.50 L264.50,246.24 L265.20,246.07 L265.90,246.00 L266.60,246.04 L267.30,246.18 L268.00,246.42 L268.70,246.75 L269.40,247.17 L270.10,247.67 L270.80,248.24 L271.50,248.86 L272.20,249.53 L272.90,250.23 L273.60,250.96 L274.30,251.69 L275.00,252.42 L275.70,253.15 L276.40,253.85 L277.10,254.52 L277.80,255.16 L278.50,255.76 L279.20,256.31 L279.90,256.82 L280.60,257.29 L281.30,257.71 L282.00,258.08 L282.70,258.42 L283.40,258.71 L284.10,258.96 L284.80,259.17 L285.50,259.36 L286.20,259.52 L286.90,259.65 L287.60,259.76 L288.30,259.85" fill="none" stroke="#111" stroke-width="1.1"/>
<line x1="194.50" y1="260.20" x2="245.00" y2="260.20" stroke="#222" stroke-width="1.0"/>
<g fill="none" stroke="#111" stroke-width="0.8"><circle cx="194.5" cy="258.0" r="3.0"/><circle cx="195.9" cy="257.5" r="3.0"/><circle cx="197.3" cy="257.4" r="3.0"/><circle cx="198.7" cy="256.7" r="3.0"/><circle cx="200.1" cy="257.3" r="3.0"/><circle cx="201.5" cy="257.2" r="3.0"/><circle cx="202.9" cy="257.3" r="3.0"/><circle cx="204.3" cy="257.1" r="3.0"/><circle cx="205.7" cy="257.3" r="3.0"/><circle cx="207.1" cy="257.1" r="3.0"/><circle cx="208.5" cy="256.8" r="3.0"/><circle cx="209.9" cy="257.5" r="3.0"/><circle cx="211.3" cy="257.4" r="3.0"/><circle cx="212.7" cy="257.6" r="3.0"/><circle cx="214.1" cy="256.9" r="3.0"/><circle cx="215.5" cy="256.6" r="3.0"/><circle cx="216.9" cy="256.4" r="3.0"/><circle cx="218.3" cy="255.9" r="3.0"/><circle cx="219.7" cy="256.5" r="3.0"/><circle cx="221.1" cy="255.5" r="3.0"/><circle cx="222.5" cy="255.1" r="3.0"/><circle cx="223.9" cy="255.1" r="3.0"/><circle cx="225.3" cy="255.2" r="3.0"/><circle cx="226.7" cy="254.2" r="3.0"/><circle cx="228.1" cy="253.2" r="3.0"/><circle cx="229.5" cy="252.6" r="3.0"/><circle cx="230.9" cy="252.3" r="3.0"/><circle cx="232.3" cy="251.2" r="3.0"/><circle cx="233.7" cy="250.1" r="3.0"/><circle cx="235.1" cy="249.4" r="3.0"/><circle cx="236.5" cy="248.7" r="3.0"/><circle cx="237.9" cy="248.1" r="3.0"/><circle cx="239.3" cy="245.9" r="3.0"/><circle cx="240.7" cy="245.0" r="3.0"/><circle cx="242.1" cy="243.8" r="3.0"/><circle cx="243.5" cy="242.1" r="3.0"/><circle cx="244.9" cy="241.5" r="3.0"/><circle cx="246.3" cy="240.5" r="3.0"/><circle cx="247.7" cy="240.3" r="3.0"/><circle cx="249.1" cy="238.9" r="3.0"/><circle cx="250.5" cy="237.7" r="3.0"/><circle cx="251.9" cy="237.8" r="3.0"/><circle cx="253.3" cy="237.0" r="3.0"/><circle cx="254.7" cy="236.2" r="3.0"/><circle cx="256.1" cy="236.5" r="3.0"/><circle cx="257.5" cy="236.6" r="3.0"/><circle cx="258.9" cy="236.7" r="3.0"/><circle cx="260.3" cy="237.4" r="3.0"/><circle cx="261.7" cy="237.2" r="3.0"/><circle cx="263.1" cy="238.5" r="3.0"/><circle cx="264.5" cy="239.8" r="3.0"/><circle cx="265.9" cy="240.6" r="3.0"/><circle cx="267.3" cy="241.7" r="3.0"/><circle cx="268.7" cy="242.8" r="3.0"/><circle cx="270.1" cy="244.1" r="3.0"/><circle cx="271.5" cy="244.4" r="3.0"/><circle cx="272.9" cy="246.3" r="3.0"/><circle cx="274.3" cy="246.5" r="3.0"/><circle cx="275.7" cy="248.2" r="3.0"/><circle cx="277.1" cy="248.8" r="3.0"/><circle cx="278.5" cy="251.0" r="3.0"/><circle cx="279.9" cy="252.1" r="3.0"/><circle cx="281.3" cy="252.5" r="3.0"/><circle cx="282.7" cy="254.1" r="3.0"/><circle cx="284.1" cy="254.0" r="3.0"/><circle cx="285.5" cy="255.0" r="3.0"/><circle cx="286.9" cy="255.6" r="3.0"/><circle cx="288.3" cy="255.8" r="3.0"/><circle cx="289.7" cy="256.8" r="3.0"/><circle cx="291.1" cy="257.7" r="3.0"/><circle cx="292.5" cy="257.0" r="3.0"/><circle cx="293.9" cy="258.0" r="3.0"/><circle cx="295.3" cy="257.9" r="3.0"/><circle cx="296.7" cy="258.8" r="3.0"/><circle cx="298.1" cy="258.5" r="3.0"/><circle cx="299.5" cy="258.7" r="3.0"/><circle cx="300.9" cy="258.8" r="3.0"/><circle cx="302.3" cy="258.8" r="3.0"/><circle cx="303.7" cy="258.3" r="3.0"/><circle cx="305.1" cy="259.3" r="3.0"/><circle cx="306.5" cy="258.4" r="3.0"/><circle cx="307.9" cy="259.0" r="3.0"/><circle cx="309.3" cy="259.1" r="3.0"/><circle cx="310.7" cy="258.7" r="3.0"/><circle cx="312.1" cy="259.0" r="3.0"/><circle cx="313.5" cy="259.4" r="3.0"/><circle cx="314.9" cy="259.0" r="3.0"/><circle cx="316.3" cy="258.7" r="3.0"/><circle cx="317.7" cy="258.0" r="3.0"/><circle cx="319.1" cy="258.7" r="3.0"/><circle cx="320.5" cy="258.8" r="3.0"/><circle cx="321.9" cy="258.8" r="3.0"/><circle cx="323.3" cy="258.7" r="3.0"/><circle cx="324.7" cy="259.1" r="3.0"/><circle cx="326.1" cy="258.8" r="3.0"/><circle cx="327.5" cy="259.0" r="3.0"/></g>
<path d="M208.50,302.67 L209.20,302.63 L209.90,302.57 L210.60,302.51 L211.30,302.45 L212.00,302.37 L212.70,302.29 L213.40,302.20 L214.10,302.10 L214.80,301.99 L215.50,301.87 L216.20,301.74 L216.90,301.60 L217.60,301.45 L218.30,301.29 L219.00,301.12 L219.70,300.93 L220.40,300.74 L221.10,300.53 L221.80,300.31 L222.50,300.08 L223.20,299.84 L223.90,299.59 L224.60,299.33 L225.30,299.06 L226.00,298.78 L226.70,298.50 L227.40,298.21 L228.10,297.92 L228.80,297.63 L229.50,297.33 L230.20,297.04 L230.90,296.75 L231.60,296.46 L232.30,296.19 L233.00,295.92 L233.70,295.66 L234.40,295.41 L235.10,295.18 L235.80,294.97 L236.50,294.77 L237.20,294.59 L237.90,294.44 L238.60,294.30 L239.30,294.19 L240.00,294.11 L240.70,294.04 L241.40,294.01 L242.10,294.00 L242.80,294.02 L243.50,294.06 L244.20,294.13 L244.90,294.22 L245.60,294.34 L246.30,294.48 L247.00,294.64 L247.70,294.82 L248.40,295.03 L249.10,295.25 L249.80,295.48 L250.50,295.73 L251.20,295.99 L251.90,296.27 L252.60,296.55 L253.30,296.83 L254.00,297.12 L254.70,297.42 L255.40,297.71 L256.10,298.00 L256.80,298.29 L257.50,298.58 L258.20,298.86 L258.90,299.13 L259.60,299.40 L260.30,299.66 L261.00,299.91 L261.70,300.15 L262.40,300.37 L263.10,300.59 L263.80,300.79 L264.50,300.99 L265.20,301.17 L265.90,301.34 L266.60,301.50 L267.30,301.65 L268.00,301.78 L268.70,301.91 L269.40,302.02 L270.10,302.13 L270.80,302.23 L271.50,302.31 L272.20,302.39 L272.90,302.47 L273.60,302.53 L274.30,302.59 L275.00,302.64 L275.70,302.69 Z" fill="#bfe3c4"/>
<path d="M237.90,302.69 L238.60,302.61 L239.30,302.51 L240.00,302.40 L240.70,302.27 L241.40,302.11 L242.10,301.92 L242.80,301.70 L243.50,301.45 L244.20,301.16 L244.90,300.82 L245.60,300.44 L246.30,300.01 L247.00,299.52 L247.70,298.98 L248.40,298.39 L249.10,297.73 L249.80,297.02 L250.50,296.25 L251.20,295.42 L251.90,294.54 L252.60,293.62 L253.30,292.65 L254.00,291.65 L254.70,290.63 L255.40,289.59 L256.10,288.55 L256.80,287.51 L257.50,286.50 L258.20,285.53 L258.90,284.60 L259.60,283.74 L260.30,282.95 L261.00,282.25 L261.70,281.65 L262.40,281.16 L263.10,280.78 L263.80,280.53 L264.50,280.41 L265.20,280.42 L265.90,280.56 L266.60,280.83 L267.30,281.22 L268.00,281.73 L268.70,282.34 L269.40,283.06 L270.10,283.86 L270.80,284.73 L271.50,285.66 L272.20,286.65 L272.90,287.66 L273.60,288.70 L274.30,289.74 L275.00,290.78 L275.70,291.80 L276.40,292.79 L277.10,293.75 L277.80,294.67 L278.50,295.54 L279.20,296.36 L279.90,297.12 L280.60,297.83 L281.30,298.47 L282.00,299.06 L282.70,299.60 L283.40,300.07 L284.10,300.50 L284.80,300.87 L285.50,301.20 L286.20,301.49 L286.90,301.74 L287.60,301.95 L288.30,302.13 L289.00,302.29 L289.70,302.42 L290.40,302.53 L291.10,302.62 L291.80,302.70 Z" fill="#c3c6e8"/>
<path d="M194.50,298.35 L195.20,298.34 L195.90,298.33 L196.60,298.32 L197.30,298.31 L198.00,298.30 L198.70,298.28 L199.40,298.27 L200.10,298.25 L200.80,298.23 L201.50,298.21 L202.20,298.18 L202.90,298.16 L203.60,298.12 L204.30,298.09 L205.00,298.05 L205.70,298.01 L206.40,297.97 L207.10,297.92 L207.80,297.87 L208.50,297.82 L209.20,297.76 L209.90,297.69 L210.60,297.63 L211.30,297.55 L212.00,297.47 L212.70,297.39 L213.40,297.30 L214.10,297.21 L214.80,297.12 L215.50,297.01 L216.20,296.91 L216.90,296.80 L217.60,296.68 L218.30,296.56 L219.00,296.44 L219.70,296.31 L220.40,296.18 L221.10,296.04 L221.80,295.90 L222.50,295.76 L223.20,295.61 L223.90,295.46 L224.60,295.30 L225.30,295.14 L226.00,294.98 L226.70,294.81 L227.40,294.64 L228.10,294.46 L228.80,294.27 L229.50,294.08 L230.20,293.88 L230.90,293.67 L231.60,293.45 L232.30,293.26 L233.00,293.10 L233.70,292.94 L234.40,292.76 L235.10,292.55 L235.80,292.33 L236.50,292.09 L237.20,291.83 L237.90,291.54 L238.60,291.22 L239.30,290.88 L240.00,290.50 L240.70,290.10 L241.40,289.67 L242.10,289.21 L242.80,288.71 L243.50,288.19 L244.20,287.64 L244.90,287.06 L245.60,286.45 L246.30,285.82 L247.00,285.17 L247.70,284.51 L248.40,283.83 L249.10,283.15 L249.80,282.46 L250.50,281.77 L251.20,281.10 L251.90,280.44 L252.60,279.80 L253.30,279.19 L254.00,278.61 L254.70,278.07 L255.40,277.58 L256.10,277.14 L256.80,276.76 L257.50,276.45 L258.20,276.20 L258.90,276.03 L259.60,275.93 L260.30,275.91 L261.00,275.98 L261.70,276.12 L262.40,276.30 L263.10,276.51 L263.80,276.81 L264.50,277.18 L265.20,277.63 L265.90,278.15 L266.60,278.74 L267.30,279.38 L268.00,280.09 L268.70,280.84 L269.40,281.64 L270.10,282.47 L270.80,283.33 L271.50,284.22 L272.20,285.12 L272.90,286.04 L273.60,286.95 L274.30,287.87 L275.00,288.77 L275.70,289.67 L276.40,290.54 L277.10,291.39 L277.80,292.22 L278.50,293.01 L279.20,293.77 L279.90,294.50 L280.60,295.19 L281.30,295.84 L282.00,296.46 L282.70,297.03 L283.40,297.56 L284.10,298.06 L284.80,298.52 L285.50,298.94 L286.20,299.33 L286.90,299.68 L287.60,300.00 L288.30,300.29 L289.00,300.55 L289.70,300.79 L290.40,300.99 L291.10,301.18 L291.80,301.35 L292.50,301.49 L293.20,301.62 L293.90,301.73 L294.60,301.83 L295.30,301.92 L296.00,301.99 L296.70,302.05 L297.40,302.11 L298.10,302.16 L298.80,302.20 L299.50,302.23 L300.20,302.26 L300.90,302.28 L301.60,302.30 L302.30,302.32 L303.00,302.34 L303.70,302.35 L304.40,302.36 L305.10,302.37 L305.80,302.37 L306.50,302.38 L307.20,302.38 L307.90,302.39 L308.60,302.39 L309.30,302.39 L310.00,302.39 L310.70,302.39 L311.40,302.40 L312.10,302.40 L312.80,302.40 L313.50,302.40 L314.20,302.40 L314.90,302.40 L315.60,302.40 L316.30,302.40 L317.00,302.40 L317.70,302.40 L318.40,302.40 L319.10,302.40 L319.80,302.40 L320.50,302.40 L321.20,302.40 L321.90,302.40 L322.60,302.40 L323.30,302.40 L324.00,302.40 L324.70,302.40 L325.40,302.40 L326.10,302.40 L326.80,302.40 L327.50,302.40" fill="none" stroke="#3a3aa6" stroke-width="0.8" stroke-linejoin="round" opacity="0.6"/>
<g fill="none" stroke="#3a3aa6" stroke-width="0.9"><circle cx="194.5" cy="298.4" r="2.7"/><circle cx="195.9" cy="298.3" r="2.7"/><circle cx="197.3" cy="298.3" r="2.7"/><circle cx="198.7" cy="298.3" r="2.7"/><circle cx="200.1" cy="298.3" r="2.7"/><circle cx="201.5" cy="298.2" r="2.7"/><circle cx="202.9" cy="298.2" r="2.7"/><circle cx="204.3" cy="298.1" r="2.7"/><circle cx="205.7" cy="298.0" r="2.7"/><circle cx="207.1" cy="297.9" r="2.7"/><circle cx="208.5" cy="297.8" r="2.7"/><circle cx="209.9" cy="297.7" r="2.7"/><circle cx="211.3" cy="297.6" r="2.7"/><circle cx="212.7" cy="297.4" r="2.7"/><circle cx="214.1" cy="297.2" r="2.7"/><circle cx="215.5" cy="297.0" r="2.7"/><circle cx="216.9" cy="296.8" r="2.7"/><circle cx="218.3" cy="296.6" r="2.7"/><circle cx="219.7" cy="296.3" r="2.7"/><circle cx="221.1" cy="296.0" r="2.7"/><circle cx="222.5" cy="295.8" r="2.7"/><circle cx="223.9" cy="295.5" r="2.7"/><circle cx="225.3" cy="295.1" r="2.7"/><circle cx="226.7" cy="294.8" r="2.7"/><circle cx="228.1" cy="294.5" r="2.7"/><circle cx="229.5" cy="294.1" r="2.7"/><circle cx="230.9" cy="293.7" r="2.7"/><circle cx="232.3" cy="293.3" r="2.7"/><circle cx="233.7" cy="292.9" r="2.7"/><circle cx="235.1" cy="292.6" r="2.7"/><circle cx="236.5" cy="292.1" r="2.7"/><circle cx="237.9" cy="291.5" r="2.7"/><circle cx="239.3" cy="290.9" r="2.7"/><circle cx="240.7" cy="290.1" r="2.7"/><circle cx="242.1" cy="289.2" r="2.7"/><circle cx="243.5" cy="288.2" r="2.7"/><circle cx="244.9" cy="287.1" r="2.7"/><circle cx="246.3" cy="285.8" r="2.7"/><circle cx="247.7" cy="284.5" r="2.7"/><circle cx="249.1" cy="283.1" r="2.7"/><circle cx="250.5" cy="281.8" r="2.7"/><circle cx="251.9" cy="280.4" r="2.7"/><circle cx="253.3" cy="279.2" r="2.7"/><circle cx="254.7" cy="278.1" r="2.7"/><circle cx="256.1" cy="277.1" r="2.7"/><circle cx="257.5" cy="276.4" r="2.7"/><circle cx="258.9" cy="276.0" r="2.7"/><circle cx="260.3" cy="275.9" r="2.7"/><circle cx="261.7" cy="276.1" r="2.7"/><circle cx="263.1" cy="276.5" r="2.7"/><circle cx="264.5" cy="277.2" r="2.7"/><circle cx="265.9" cy="278.1" r="2.7"/><circle cx="267.3" cy="279.4" r="2.7"/><circle cx="268.7" cy="280.8" r="2.7"/><circle cx="270.1" cy="282.5" r="2.7"/><circle cx="271.5" cy="284.2" r="2.7"/><circle cx="272.9" cy="286.0" r="2.7"/><circle cx="274.3" cy="287.9" r="2.7"/><circle cx="275.7" cy="289.7" r="2.7"/><circle cx="277.1" cy="291.4" r="2.7"/><circle cx="278.5" cy="293.0" r="2.7"/><circle cx="279.9" cy="294.5" r="2.7"/><circle cx="281.3" cy="295.8" r="2.7"/><circle cx="282.7" cy="297.0" r="2.7"/><circle cx="284.1" cy="298.1" r="2.7"/><circle cx="285.5" cy="298.9" r="2.7"/><circle cx="286.9" cy="299.7" r="2.7"/><circle cx="288.3" cy="300.3" r="2.7"/><circle cx="289.7" cy="300.8" r="2.7"/><circle cx="291.1" cy="301.2" r="2.7"/><circle cx="292.5" cy="301.5" r="2.7"/><circle cx="293.9" cy="301.7" r="2.7"/><circle cx="295.3" cy="301.9" r="2.7"/><circle cx="296.7" cy="302.1" r="2.7"/><circle cx="298.1" cy="302.2" r="2.7"/><circle cx="299.5" cy="302.2" r="2.7"/><circle cx="300.9" cy="302.3" r="2.7"/><circle cx="302.3" cy="302.3" r="2.7"/><circle cx="303.7" cy="302.3" r="2.7"/><circle cx="305.1" cy="302.4" r="2.7"/><circle cx="306.5" cy="302.4" r="2.7"/><circle cx="307.9" cy="302.4" r="2.7"/><circle cx="309.3" cy="302.4" r="2.7"/><circle cx="310.7" cy="302.4" r="2.7"/><circle cx="312.1" cy="302.4" r="2.7"/><circle cx="313.5" cy="302.4" r="2.7"/><circle cx="314.9" cy="302.4" r="2.7"/><circle cx="316.3" cy="302.4" r="2.7"/><circle cx="317.7" cy="302.4" r="2.7"/><circle cx="319.1" cy="302.4" r="2.7"/><circle cx="320.5" cy="302.4" r="2.7"/><circle cx="321.9" cy="302.4" r="2.7"/><circle cx="323.3" cy="302.4" r="2.7"/><circle cx="324.7" cy="302.4" r="2.7"/><circle cx="326.1" cy="302.4" r="2.7"/><circle cx="327.5" cy="302.4" r="2.7"/></g>
<path d="M194.50,302.99 L195.20,302.99 L195.90,302.98 L196.60,302.98 L197.30,302.98 L198.00,302.97 L198.70,302.96 L199.40,302.96 L200.10,302.95 L200.80,302.94 L201.50,302.93 L202.20,302.92 L202.90,302.90 L203.60,302.89 L204.30,302.87 L205.00,302.84 L205.70,302.82 L206.40,302.79 L207.10,302.75 L207.80,302.72 L208.50,302.67 L209.20,302.63 L209.90,302.57 L210.60,302.51 L211.30,302.45 L212.00,302.37 L212.70,302.29 L213.40,302.20 L214.10,302.10 L214.80,301.99 L215.50,301.87 L216.20,301.74 L216.90,301.60 L217.60,301.45 L218.30,301.29 L219.00,301.12 L219.70,300.93 L220.40,300.74 L221.10,300.53 L221.80,300.31 L222.50,300.08 L223.20,299.84 L223.90,299.58 L224.60,299.32 L225.30,299.05 L226.00,298.78 L226.70,298.49 L227.40,298.20 L228.10,297.91 L228.80,297.61 L229.50,297.32 L230.20,297.02 L230.90,296.72 L231.60,296.43 L232.30,296.14 L233.00,295.86 L233.70,295.58 L234.40,295.32 L235.10,295.06 L235.80,294.81 L236.50,294.57 L237.20,294.34 L237.90,294.12 L238.60,293.91 L239.30,293.71 L240.00,293.51 L240.70,293.31 L241.40,293.12 L242.10,292.92 L242.80,292.72 L243.50,292.51 L244.20,292.29 L244.90,292.04 L245.60,291.78 L246.30,291.49 L247.00,291.16 L247.70,290.81 L248.40,290.41 L249.10,289.98 L249.80,289.50 L250.50,288.98 L251.20,288.42 L251.90,287.81 L252.60,287.16 L253.30,286.48 L254.00,285.78 L254.70,285.04 L255.40,284.30 L256.10,283.55 L256.80,282.81 L257.50,282.08 L258.20,281.39 L258.90,280.73 L259.60,280.14 L260.30,279.61 L261.00,279.15 L261.70,278.79 L262.40,278.53 L263.10,278.37 L263.80,278.33 L264.50,278.40 L265.20,278.59 L265.90,278.90 L266.60,279.33 L267.30,279.86 L268.00,280.51 L268.70,281.25 L269.40,282.08 L270.10,282.99 L270.80,283.96 L271.50,284.98 L272.20,286.04 L272.90,287.13 L273.60,288.23 L274.30,289.33 L275.00,290.42 L275.70,291.49 L276.40,292.52 L277.10,293.52 L277.80,294.47 L278.50,295.37 L279.20,296.21 L279.90,296.99 L280.60,297.72 L281.30,298.38 L282.00,298.98 L282.70,299.53 L283.40,300.02 L284.10,300.45 L284.80,300.83 L285.50,301.17 L286.20,301.46 L286.90,301.71 L287.60,301.93 L288.30,302.12 L289.00,302.28 L289.70,302.41 L290.40,302.52 L291.10,302.61 L291.80,302.69 L292.50,302.75 L293.20,302.80 L293.90,302.84 L294.60,302.88 L295.30,302.91 L296.00,302.93 L296.70,302.94 L297.40,302.96 L298.10,302.97 L298.80,302.97 L299.50,302.98 L300.20,302.99 L300.90,302.99 L301.60,302.99 L302.30,302.99 L303.00,303.00 L303.70,303.00 L304.40,303.00 L305.10,303.00 L305.80,303.00 L306.50,303.00 L307.20,303.00 L307.90,303.00 L308.60,303.00 L309.30,303.00 L310.00,303.00 L310.70,303.00 L311.40,303.00 L312.10,303.00 L312.80,303.00 L313.50,303.00 L314.20,303.00 L314.90,303.00 L315.60,303.00 L316.30,303.00 L317.00,303.00 L317.70,303.00 L318.40,303.00 L319.10,303.00 L319.80,303.00 L320.50,303.00 L321.20,303.00 L321.90,303.00 L322.60,303.00 L323.30,303.00 L324.00,303.00 L324.70,303.00 L325.40,303.00 L326.10,303.00 L326.80,303.00 L327.50,303.00" fill="none" stroke="#111" stroke-width="1.3"/>
<path d="M220.40,359.48 L221.10,359.41 L221.80,359.33 L222.50,359.25 L223.20,359.15 L223.90,359.04 L224.60,358.92 L225.30,358.79 L226.00,358.65 L226.70,358.50 L227.40,358.35 L228.10,358.19 L228.80,358.03 L229.50,357.88 L230.20,357.72 L230.90,357.58 L231.60,357.44 L232.30,357.32 L233.00,357.22 L233.70,357.13 L234.40,357.06 L235.10,357.02 L235.80,357.00 L236.50,357.01 L237.20,357.04 L237.90,357.09 L238.60,357.16 L239.30,357.26 L240.00,357.37 L240.70,357.50 L241.40,357.64 L242.10,357.79 L242.80,357.94 L243.50,358.10 L244.20,358.26 L244.90,358.42 L245.60,358.57 L246.30,358.71 L247.00,358.84 L247.70,358.97 L248.40,359.09 L249.10,359.19 L249.80,359.28 L250.50,359.37 L251.20,359.44 Z" fill="#bfe3c4"/>
<path d="M220.40,359.48 L221.10,359.41 L221.80,359.33 L222.50,359.25 L223.20,359.15 L223.90,359.04 L224.60,358.92 L225.30,358.79 L226.00,358.65 L226.70,358.50 L227.40,358.35 L228.10,358.19 L228.80,358.03 L229.50,357.88 L230.20,357.72 L230.90,357.58 L231.60,357.44 L232.30,357.32 L233.00,357.22 L233.70,357.13 L234.40,357.06 L235.10,357.02 L235.80,357.00 L236.50,357.01 L237.20,357.04 L237.90,357.09 L238.60,357.16 L239.30,357.26 L240.00,357.37 L240.70,357.50 L241.40,357.64 L242.10,357.79 L242.80,357.94 L243.50,358.10 L244.20,358.26 L244.90,358.42 L245.60,358.57 L246.30,358.71 L247.00,358.84 L247.70,358.97 L248.40,359.09 L249.10,359.19 L249.80,359.28 L250.50,359.37 L251.20,359.44" fill="none" stroke="#111" stroke-width="1.1"/>
<path d="M239.30,359.44 L240.00,359.35 L240.70,359.24 L241.40,359.10 L242.10,358.94 L242.80,358.75 L243.50,358.53 L244.20,358.27 L244.90,357.96 L245.60,357.61 L246.30,357.21 L247.00,356.75 L247.70,356.24 L248.40,355.67 L249.10,355.03 L249.80,354.33 L250.50,353.57 L251.20,352.74 L251.90,351.86 L252.60,350.92 L253.30,349.93 L254.00,348.91 L254.70,347.85 L255.40,346.77 L256.10,345.69 L256.80,344.61 L257.50,343.55 L258.20,342.53 L258.90,341.56 L259.60,340.65 L260.30,339.83 L261.00,339.11 L261.70,338.49 L262.40,337.99 L263.10,337.62 L263.80,337.39 L264.50,337.30 L265.20,337.35 L265.90,337.54 L266.60,337.87 L267.30,338.33 L268.00,338.92 L268.70,339.61 L269.40,340.41 L270.10,341.29 L270.80,342.25 L271.50,343.25 L272.20,344.30 L272.90,345.38 L273.60,346.46 L274.30,347.54 L275.00,348.61 L275.70,349.64 L276.40,350.64 L277.10,351.60 L277.80,352.50 L278.50,353.34 L279.20,354.12 L279.90,354.84 L280.60,355.49 L281.30,356.08 L282.00,356.61 L282.70,357.09 L283.40,357.50 L284.10,357.87 L284.80,358.19 L285.50,358.46 L286.20,358.69 L286.90,358.89 L287.60,359.06 L288.30,359.20 L289.00,359.32 L289.70,359.41 L290.40,359.49 Z" fill="#c3c6e8"/>
<path d="M239.30,359.44 L240.00,359.35 L240.70,359.24 L241.40,359.10 L242.10,358.94 L242.80,358.75 L243.50,358.53 L244.20,358.27 L244.90,357.96 L245.60,357.61 L246.30,357.21 L247.00,356.75 L247.70,356.24 L248.40,355.67 L249.10,355.03 L249.80,354.33 L250.50,353.57 L251.20,352.74 L251.90,351.86 L252.60,350.92 L253.30,349.93 L254.00,348.91 L254.70,347.85 L255.40,346.77 L256.10,345.69 L256.80,344.61 L257.50,343.55 L258.20,342.53 L258.90,341.56 L259.60,340.65 L260.30,339.83 L261.00,339.11 L261.70,338.49 L262.40,337.99 L263.10,337.62 L263.80,337.39 L264.50,337.30 L265.20,337.35 L265.90,337.54 L266.60,337.87 L267.30,338.33 L268.00,338.92 L268.70,339.61 L269.40,340.41 L270.10,341.29 L270.80,342.25 L271.50,343.25 L272.20,344.30 L272.90,345.38 L273.60,346.46 L274.30,347.54 L275.00,348.61 L275.70,349.64 L276.40,350.64 L277.10,351.60 L277.80,352.50 L278.50,353.34 L279.20,354.12 L279.90,354.84 L280.60,355.49 L281.30,356.08 L282.00,356.61 L282.70,357.09 L283.40,357.50 L284.10,357.87 L284.80,358.19 L285.50,358.46 L286.20,358.69 L286.90,358.89 L287.60,359.06 L288.30,359.20 L289.00,359.32 L289.70,359.41 L290.40,359.49" fill="none" stroke="#111" stroke-width="1.1"/>
<path d="M236.50,359.50 L237.20,359.45 L237.90,359.40 L238.60,359.34 L239.30,359.27 L240.00,359.20 L240.70,359.11 L241.40,359.02 L242.10,358.92 L242.80,358.80 L243.50,358.68 L244.20,358.54 L244.90,358.39 L245.60,358.23 L246.30,358.06 L247.00,357.87 L247.70,357.67 L248.40,357.46 L249.10,357.23 L249.80,356.99 L250.50,356.74 L251.20,356.47 L251.90,356.20 L252.60,355.91 L253.30,355.61 L254.00,355.31 L254.70,354.99 L255.40,354.67 L256.10,354.35 L256.80,354.02 L257.50,353.70 L258.20,353.37 L258.90,353.05 L259.60,352.74 L260.30,352.43 L261.00,352.14 L261.70,351.86 L262.40,351.59 L263.10,351.35 L263.80,351.12 L264.50,350.91 L265.20,350.73 L265.90,350.57 L266.60,350.44 L267.30,350.33 L268.00,350.26 L268.70,350.22 L269.40,350.20 L270.10,350.22 L270.80,350.26 L271.50,350.33 L272.20,350.44 L272.90,350.57 L273.60,350.73 L274.30,350.91 L275.00,351.12 L275.70,351.35 L276.40,351.59 L277.10,351.86 L277.80,352.14 L278.50,352.43 L279.20,352.74 L279.90,353.05 L280.60,353.37 L281.30,353.70 L282.00,354.02 L282.70,354.35 L283.40,354.67 L284.10,354.99 L284.80,355.31 L285.50,355.61 L286.20,355.91 L286.90,356.20 L287.60,356.47 L288.30,356.74 L289.00,356.99 L289.70,357.23 L290.40,357.46 L291.10,357.67 L291.80,357.87 L292.50,358.06 L293.20,358.23 L293.90,358.39 L294.60,358.54 L295.30,358.68 L296.00,358.80 L296.70,358.92 L297.40,359.02 L298.10,359.11 L298.80,359.20 L299.50,359.27 L300.20,359.34 L300.90,359.40 L301.60,359.45 L302.30,359.50 Z" fill="#f7c5af"/>
<path d="M236.50,359.50 L237.20,359.45 L237.90,359.40 L238.60,359.34 L239.30,359.27 L240.00,359.20 L240.70,359.11 L241.40,359.02 L242.10,358.92 L242.80,358.80 L243.50,358.68 L244.20,358.54 L244.90,358.39 L245.60,358.23 L246.30,358.06 L247.00,357.87 L247.70,357.67 L248.40,357.46 L249.10,357.23 L249.80,356.99 L250.50,356.74 L251.20,356.47 L251.90,356.20 L252.60,355.91 L253.30,355.61 L254.00,355.31 L254.70,354.99 L255.40,354.67 L256.10,354.35 L256.80,354.02 L257.50,353.70 L258.20,353.37 L258.90,353.05 L259.60,352.74 L260.30,352.43 L261.00,352.14 L261.70,351.86 L262.40,351.59 L263.10,351.35 L263.80,351.12 L264.50,350.91 L265.20,350.73 L265.90,350.57 L266.60,350.44 L267.30,350.33 L268.00,350.26 L268.70,350.22 L269.40,350.20 L270.10,350.22 L270.80,350.26 L271.50,350.33 L272.20,350.44 L272.90,350.57 L273.60,350.73 L274.30,350.91 L275.00,351.12 L275.70,351.35 L276.40,351.59 L277.10,351.86 L277.80,352.14 L278.50,352.43 L279.20,352.74 L279.90,353.05 L280.60,353.37 L281.30,353.70 L282.00,354.02 L282.70,354.35 L283.40,354.67 L284.10,354.99 L284.80,355.31 L285.50,355.61 L286.20,355.91 L286.90,356.20 L287.60,356.47 L288.30,356.74 L289.00,356.99 L289.70,357.23 L290.40,357.46 L291.10,357.67 L291.80,357.87 L292.50,358.06 L293.20,358.23 L293.90,358.39 L294.60,358.54 L295.30,358.68 L296.00,358.80 L296.70,358.92 L297.40,359.02 L298.10,359.11 L298.80,359.20 L299.50,359.27 L300.20,359.34 L300.90,359.40 L301.60,359.45 L302.30,359.50" fill="none" stroke="#111" stroke-width="1.1"/>
<line x1="194.50" y1="360.10" x2="327.50" y2="360.10" stroke="#111" stroke-width="1.2"/>
<path d="M194.50,354.40 L195.20,354.40 L195.90,354.40 L196.60,354.40 L197.30,354.40 L198.00,354.40 L198.70,354.40 L199.40,354.40 L200.10,354.40 L200.80,354.40 L201.50,354.40 L202.20,354.40 L202.90,354.40 L203.60,354.40 L204.30,354.40 L205.00,354.40 L205.70,354.40 L206.40,354.40 L207.10,354.40 L207.80,354.40 L208.50,354.40 L209.20,354.40 L209.90,354.40 L210.60,354.40 L211.30,354.40 L212.00,354.40 L212.70,354.40 L213.40,354.40 L214.10,354.40 L214.80,354.40 L215.50,354.40 L216.20,354.40 L216.90,354.40 L217.60,354.40 L218.30,354.40 L219.00,354.39 L219.70,354.39 L220.40,354.39 L221.10,354.39 L221.80,354.38 L222.50,354.38 L223.20,354.37 L223.90,354.37 L224.60,354.36 L225.30,354.35 L226.00,354.33 L226.70,354.32 L227.40,354.30 L228.10,354.27 L228.80,354.24 L229.50,354.21 L230.20,354.19 L230.90,354.23 L231.60,354.25 L232.30,354.27 L233.00,354.27 L233.70,354.26 L234.40,354.23 L235.10,354.18 L235.80,354.11 L236.50,354.02 L237.20,353.90 L237.90,353.75 L238.60,353.57 L239.30,353.35 L240.00,353.10 L240.70,352.80 L241.40,352.46 L242.10,352.08 L242.80,351.64 L243.50,351.16 L244.20,350.62 L244.90,350.03 L245.60,349.38 L246.30,348.68 L247.00,347.92 L247.70,347.11 L248.40,346.25 L249.10,345.34 L249.80,344.39 L250.50,343.39 L251.20,342.37 L251.90,341.31 L252.60,340.24 L253.30,339.15 L254.00,338.06 L254.70,336.98 L255.40,335.91 L256.10,334.88 L256.80,333.88 L257.50,332.93 L258.20,332.04 L258.90,331.22 L259.60,330.48 L260.30,329.83 L261.00,329.28 L261.70,328.83 L262.40,328.50 L263.10,328.28 L263.80,328.19 L264.50,328.21 L265.20,328.36 L265.90,328.63 L266.60,329.03 L267.30,329.53 L268.00,330.16 L268.70,330.88 L269.40,331.71 L270.10,332.61 L270.80,333.51 L271.50,334.49 L272.20,335.53 L272.90,336.61 L273.60,337.74 L274.30,338.89 L275.00,340.06 L275.70,341.24 L276.40,342.41 L277.10,343.57 L277.80,344.72 L278.50,345.83 L279.20,346.91 L279.90,347.95 L280.60,348.95 L281.30,349.90 L282.00,350.80 L282.70,351.64 L283.40,352.43 L284.10,353.16 L284.80,353.84 L285.50,354.47 L286.20,355.04 L286.90,355.56 L287.60,356.04 L288.30,356.46 L289.00,356.85 L289.70,357.19 L290.40,357.49 L291.10,357.76 L291.80,358.00 L292.50,358.21 L293.20,358.39 L293.90,358.54 L294.60,358.68 L295.30,358.79 L296.00,358.89 L296.70,358.98 L297.40,359.05 L298.10,359.11 L298.80,359.16 L299.50,359.21 L300.20,359.24 L300.90,359.27 L301.60,359.30 L302.30,359.32 L303.00,359.33 L303.70,359.35 L304.40,359.36 L305.10,359.37 L305.80,359.37 L306.50,359.38 L307.20,359.38 L307.90,359.39 L308.60,359.39 L309.30,359.39 L310.00,359.39 L310.70,359.40 L311.40,359.40 L312.10,359.40 L312.80,359.40 L313.50,359.40 L314.20,359.40 L314.90,359.40 L315.60,359.40 L316.30,359.40 L317.00,359.40 L317.70,359.40 L318.40,359.40 L319.10,359.40 L319.80,359.40 L320.50,359.40 L321.20,359.40 L321.90,359.40 L322.60,359.40 L323.30,359.40 L324.00,359.40 L324.70,359.40 L325.40,359.40 L326.10,359.40 L326.80,359.40 L327.50,359.40" fill="none" stroke="#3f8f5f" stroke-width="0.8" stroke-linejoin="round" opacity="0.6"/>
<g fill="none" stroke="#3f8f5f" stroke-width="0.9"><circle cx="194.5" cy="354.4" r="2.7"/><circle cx="195.9" cy="354.4" r="2.7"/><circle cx="197.3" cy="354.4" r="2.7"/><circle cx="198.7" cy="354.4" r="2.7"/><circle cx="200.1" cy="354.4" r="2.7"/><circle cx="201.5" cy="354.4" r="2.7"/><circle cx="202.9" cy="354.4" r="2.7"/><circle cx="204.3" cy="354.4" r="2.7"/><circle cx="205.7" cy="354.4" r="2.7"/><circle cx="207.1" cy="354.4" r="2.7"/><circle cx="208.5" cy="354.4" r="2.7"/><circle cx="209.9" cy="354.4" r="2.7"/><circle cx="211.3" cy="354.4" r="2.7"/><circle cx="212.7" cy="354.4" r="2.7"/><circle cx="214.1" cy="354.4" r="2.7"/><circle cx="215.5" cy="354.4" r="2.7"/><circle cx="216.9" cy="354.4" r="2.7"/><circle cx="218.3" cy="354.4" r="2.7"/><circle cx="219.7" cy="354.4" r="2.7"/><circle cx="221.1" cy="354.4" r="2.7"/><circle cx="222.5" cy="354.4" r="2.7"/><circle cx="223.9" cy="354.4" r="2.7"/><circle cx="225.3" cy="354.3" r="2.7"/><circle cx="226.7" cy="354.3" r="2.7"/><circle cx="228.1" cy="354.3" r="2.7"/><circle cx="229.5" cy="354.2" r="2.7"/><circle cx="230.9" cy="354.2" r="2.7"/><circle cx="232.3" cy="354.3" r="2.7"/><circle cx="233.7" cy="354.3" r="2.7"/><circle cx="235.1" cy="354.2" r="2.7"/><circle cx="236.5" cy="354.0" r="2.7"/><circle cx="237.9" cy="353.7" r="2.7"/><circle cx="239.3" cy="353.4" r="2.7"/><circle cx="240.7" cy="352.8" r="2.7"/><circle cx="242.1" cy="352.1" r="2.7"/><circle cx="243.5" cy="351.2" r="2.7"/><circle cx="244.9" cy="350.0" r="2.7"/><circle cx="246.3" cy="348.7" r="2.7"/><circle cx="247.7" cy="347.1" r="2.7"/><circle cx="249.1" cy="345.3" r="2.7"/><circle cx="250.5" cy="343.4" r="2.7"/><circle cx="251.9" cy="341.3" r="2.7"/><circle cx="253.3" cy="339.1" r="2.7"/><circle cx="254.7" cy="337.0" r="2.7"/><circle cx="256.1" cy="334.9" r="2.7"/><circle cx="257.5" cy="332.9" r="2.7"/><circle cx="258.9" cy="331.2" r="2.7"/><circle cx="260.3" cy="329.8" r="2.7"/><circle cx="261.7" cy="328.8" r="2.7"/><circle cx="263.1" cy="328.3" r="2.7"/><circle cx="264.5" cy="328.2" r="2.7"/><circle cx="265.9" cy="328.6" r="2.7"/><circle cx="267.3" cy="329.5" r="2.7"/><circle cx="268.7" cy="330.9" r="2.7"/><circle cx="270.1" cy="332.6" r="2.7"/><circle cx="271.5" cy="334.5" r="2.7"/><circle cx="272.9" cy="336.6" r="2.7"/><circle cx="274.3" cy="338.9" r="2.7"/><circle cx="275.7" cy="341.2" r="2.7"/><circle cx="277.1" cy="343.6" r="2.7"/><circle cx="278.5" cy="345.8" r="2.7"/><circle cx="279.9" cy="348.0" r="2.7"/><circle cx="281.3" cy="349.9" r="2.7"/><circle cx="282.7" cy="351.6" r="2.7"/><circle cx="284.1" cy="353.2" r="2.7"/><circle cx="285.5" cy="354.5" r="2.7"/><circle cx="286.9" cy="355.6" r="2.7"/><circle cx="288.3" cy="356.5" r="2.7"/><circle cx="289.7" cy="357.2" r="2.7"/><circle cx="291.1" cy="357.8" r="2.7"/><circle cx="292.5" cy="358.2" r="2.7"/><circle cx="293.9" cy="358.5" r="2.7"/><circle cx="295.3" cy="358.8" r="2.7"/><circle cx="296.7" cy="359.0" r="2.7"/><circle cx="298.1" cy="359.1" r="2.7"/><circle cx="299.5" cy="359.2" r="2.7"/><circle cx="300.9" cy="359.3" r="2.7"/><circle cx="302.3" cy="359.3" r="2.7"/><circle cx="303.7" cy="359.3" r="2.7"/><circle cx="305.1" cy="359.4" r="2.7"/><circle cx="306.5" cy="359.4" r="2.7"/><circle cx="307.9" cy="359.4" r="2.7"/><circle cx="309.3" cy="359.4" r="2.7"/><circle cx="310.7" cy="359.4" r="2.7"/><circle cx="312.1" cy="359.4" r="2.7"/><circle cx="313.5" cy="359.4" r="2.7"/><circle cx="314.9" cy="359.4" r="2.7"/><circle cx="316.3" cy="359.4" r="2.7"/><circle cx="317.7" cy="359.4" r="2.7"/><circle cx="319.1" cy="359.4" r="2.7"/><circle cx="320.5" cy="359.4" r="2.7"/><circle cx="321.9" cy="359.4" r="2.7"/><circle cx="323.3" cy="359.4" r="2.7"/><circle cx="324.7" cy="359.4" r="2.7"/><circle cx="326.1" cy="359.4" r="2.7"/><circle cx="327.5" cy="359.4" r="2.7"/></g>
<path d="M235.80,408.05 L236.50,407.98 L237.20,407.90 L237.90,407.81 L238.60,407.70 L239.30,407.57 L240.00,407.42 L240.70,407.25 L241.40,407.06 L242.10,406.83 L242.80,406.59 L243.50,406.30 L244.20,405.99 L244.90,405.63 L245.60,405.24 L246.30,404.81 L247.00,404.33 L247.70,403.81 L248.40,403.24 L249.10,402.62 L249.80,401.96 L250.50,401.24 L251.20,400.48 L251.90,399.67 L252.60,398.82 L253.30,397.92 L254.00,396.98 L254.70,396.01 L255.40,395.00 L256.10,393.98 L256.80,392.93 L257.50,391.87 L258.20,390.81 L258.90,389.75 L259.60,388.71 L260.30,387.69 L261.00,386.70 L261.70,385.76 L262.40,384.86 L263.10,384.03 L263.80,383.26 L264.50,382.57 L265.20,381.97 L265.90,381.45 L266.60,381.04 L267.30,380.72 L268.00,380.51 L268.70,380.41 L269.40,380.42 L270.10,380.53 L270.80,380.76 L271.50,381.09 L272.20,381.52 L272.90,382.05 L273.60,382.66 L274.30,383.37 L275.00,384.14 L275.70,384.99 L276.40,385.89 L277.10,386.84 L277.80,387.84 L278.50,388.86 L279.20,389.90 L279.90,390.96 L280.60,392.02 L281.30,393.08 L282.00,394.12 L282.70,395.15 L283.40,396.15 L284.10,397.12 L284.80,398.05 L285.50,398.94 L286.20,399.79 L286.90,400.59 L287.60,401.35 L288.30,402.06 L289.00,402.72 L289.70,403.33 L290.40,403.89 L291.10,404.40 L291.80,404.87 L292.50,405.30 L293.20,405.69 L293.90,406.03 L294.60,406.35 L295.30,406.62 L296.00,406.87 L296.70,407.09 L297.40,407.28 L298.10,407.44 L298.80,407.59 L299.50,407.71 L300.20,407.82 L300.90,407.92 L301.60,408.00 L302.30,408.06 Z" fill="#f7c5af"/>
<path d="M194.50,402.90 L195.20,402.90 L195.90,402.90 L196.60,402.90 L197.30,402.89 L198.00,402.89 L198.70,402.89 L199.40,402.89 L200.10,402.89 L200.80,402.89 L201.50,402.89 L202.20,402.88 L202.90,402.88 L203.60,402.88 L204.30,402.87 L205.00,402.87 L205.70,402.86 L206.40,402.85 L207.10,402.85 L207.80,402.84 L208.50,402.83 L209.20,402.81 L209.90,402.80 L210.60,402.79 L211.30,402.77 L212.00,402.75 L212.70,402.73 L213.40,402.70 L214.10,402.68 L214.80,402.65 L215.50,402.61 L216.20,402.57 L216.90,402.53 L217.60,402.49 L218.30,402.44 L219.00,402.38 L219.70,402.32 L220.40,402.26 L221.10,402.19 L221.80,402.11 L222.50,402.08 L223.20,402.07 L223.90,402.05 L224.60,402.03 L225.30,402.00 L226.00,401.96 L226.70,401.91 L227.40,401.86 L228.10,401.79 L228.80,401.72 L229.50,401.65 L230.20,401.56 L230.90,401.47 L231.60,401.36 L232.30,401.25 L233.00,401.13 L233.70,401.00 L234.40,400.86 L235.10,400.71 L235.80,400.55 L236.50,400.37 L237.20,400.19 L237.90,399.99 L238.60,399.77 L239.30,399.54 L240.00,399.29 L240.70,399.02 L241.40,398.73 L242.10,398.41 L242.80,398.07 L243.50,397.69 L244.20,397.29 L244.90,396.85 L245.60,396.38 L246.30,395.87 L247.00,395.31 L247.70,394.72 L248.40,394.08 L249.10,393.39 L249.80,392.66 L250.50,391.89 L251.20,391.07 L251.90,390.20 L252.60,389.30 L253.30,388.36 L254.00,387.39 L254.70,386.40 L255.40,385.39 L256.10,384.36 L256.80,383.34 L257.50,382.32 L258.20,381.31 L258.90,380.34 L259.60,379.41 L260.30,378.52 L261.00,377.70 L261.70,376.95 L262.40,376.24 L263.10,375.59 L263.80,375.04 L264.50,374.61 L265.20,374.30 L265.90,374.10 L266.60,374.04 L267.30,374.11 L268.00,374.31 L268.70,374.64 L269.40,375.10 L270.10,375.68 L270.80,376.38 L271.50,377.19 L272.20,378.10 L272.90,379.10 L273.60,380.19 L274.30,381.34 L275.00,382.55 L275.70,383.80 L276.40,385.09 L277.10,386.40 L277.80,387.71 L278.50,389.03 L279.20,390.32 L279.90,391.60 L280.60,392.84 L281.30,394.05 L282.00,395.21 L282.70,396.31 L283.40,397.36 L284.10,398.35 L284.80,399.28 L285.50,400.14 L286.20,400.94 L286.90,401.68 L287.60,402.36 L288.30,402.97 L289.00,403.53 L289.70,404.03 L290.40,404.48 L291.10,404.88 L291.80,405.23 L292.50,405.55 L293.20,405.82 L293.90,406.06 L294.60,406.27 L295.30,406.45 L296.00,406.61 L296.70,406.74 L297.40,406.85 L298.10,406.95 L298.80,407.03 L299.50,407.10 L300.20,407.15 L300.90,407.20 L301.60,407.24 L302.30,407.27 L303.00,407.29 L303.70,407.32 L304.40,407.33 L305.10,407.35 L305.80,407.36 L306.50,407.37 L307.20,407.37 L307.90,407.38 L308.60,407.38 L309.30,407.39 L310.00,407.39 L310.70,407.39 L311.40,407.39 L312.10,407.40 L312.80,407.40 L313.50,407.40 L314.20,407.40 L314.90,407.40 L315.60,407.40 L316.30,407.40 L317.00,407.40 L317.70,407.40 L318.40,407.40 L319.10,407.40 L319.80,407.40 L320.50,407.40 L321.20,407.40 L321.90,407.40 L322.60,407.40 L323.30,407.40 L324.00,407.40 L324.70,407.40 L325.40,407.40 L326.10,407.40 L326.80,407.40 L327.50,407.40" fill="none" stroke="#e0108a" stroke-width="0.8" stroke-linejoin="round" opacity="0.6"/>
<g fill="none" stroke="#e8189a" stroke-width="0.9"><circle cx="194.5" cy="402.9" r="2.7"/><circle cx="195.9" cy="402.9" r="2.7"/><circle cx="197.3" cy="402.9" r="2.7"/><circle cx="198.7" cy="402.9" r="2.7"/><circle cx="200.1" cy="402.9" r="2.7"/><circle cx="201.5" cy="402.9" r="2.7"/><circle cx="202.9" cy="402.9" r="2.7"/><circle cx="204.3" cy="402.9" r="2.7"/><circle cx="205.7" cy="402.9" r="2.7"/><circle cx="207.1" cy="402.8" r="2.7"/><circle cx="208.5" cy="402.8" r="2.7"/><circle cx="209.9" cy="402.8" r="2.7"/><circle cx="211.3" cy="402.8" r="2.7"/><circle cx="212.7" cy="402.7" r="2.7"/><circle cx="214.1" cy="402.7" r="2.7"/><circle cx="215.5" cy="402.6" r="2.7"/><circle cx="216.9" cy="402.5" r="2.7"/><circle cx="218.3" cy="402.4" r="2.7"/><circle cx="219.7" cy="402.3" r="2.7"/><circle cx="221.1" cy="402.2" r="2.7"/><circle cx="222.5" cy="402.1" r="2.7"/><circle cx="223.9" cy="402.1" r="2.7"/><circle cx="225.3" cy="402.0" r="2.7"/><circle cx="226.7" cy="401.9" r="2.7"/><circle cx="228.1" cy="401.8" r="2.7"/><circle cx="229.5" cy="401.6" r="2.7"/><circle cx="230.9" cy="401.5" r="2.7"/><circle cx="232.3" cy="401.3" r="2.7"/><circle cx="233.7" cy="401.0" r="2.7"/><circle cx="235.1" cy="400.7" r="2.7"/><circle cx="236.5" cy="400.4" r="2.7"/><circle cx="237.9" cy="400.0" r="2.7"/><circle cx="239.3" cy="399.5" r="2.7"/><circle cx="240.7" cy="399.0" r="2.7"/><circle cx="242.1" cy="398.4" r="2.7"/><circle cx="243.5" cy="397.7" r="2.7"/><circle cx="244.9" cy="396.9" r="2.7"/><circle cx="246.3" cy="395.9" r="2.7"/><circle cx="247.7" cy="394.7" r="2.7"/><circle cx="249.1" cy="393.4" r="2.7"/><circle cx="250.5" cy="391.9" r="2.7"/><circle cx="251.9" cy="390.2" r="2.7"/><circle cx="253.3" cy="388.4" r="2.7"/><circle cx="254.7" cy="386.4" r="2.7"/><circle cx="256.1" cy="384.4" r="2.7"/><circle cx="257.5" cy="382.3" r="2.7"/><circle cx="258.9" cy="380.3" r="2.7"/><circle cx="260.3" cy="378.5" r="2.7"/><circle cx="261.7" cy="377.0" r="2.7"/><circle cx="263.1" cy="375.6" r="2.7"/><circle cx="264.5" cy="374.6" r="2.7"/><circle cx="265.9" cy="374.1" r="2.7"/><circle cx="267.3" cy="374.1" r="2.7"/><circle cx="268.7" cy="374.6" r="2.7"/><circle cx="270.1" cy="375.7" r="2.7"/><circle cx="271.5" cy="377.2" r="2.7"/><circle cx="272.9" cy="379.1" r="2.7"/><circle cx="274.3" cy="381.3" r="2.7"/><circle cx="275.7" cy="383.8" r="2.7"/><circle cx="277.1" cy="386.4" r="2.7"/><circle cx="278.5" cy="389.0" r="2.7"/><circle cx="279.9" cy="391.6" r="2.7"/><circle cx="281.3" cy="394.0" r="2.7"/><circle cx="282.7" cy="396.3" r="2.7"/><circle cx="284.1" cy="398.4" r="2.7"/><circle cx="285.5" cy="400.1" r="2.7"/><circle cx="286.9" cy="401.7" r="2.7"/><circle cx="288.3" cy="403.0" r="2.7"/><circle cx="289.7" cy="404.0" r="2.7"/><circle cx="291.1" cy="404.9" r="2.7"/><circle cx="292.5" cy="405.5" r="2.7"/><circle cx="293.9" cy="406.1" r="2.7"/><circle cx="295.3" cy="406.5" r="2.7"/><circle cx="296.7" cy="406.7" r="2.7"/><circle cx="298.1" cy="406.9" r="2.7"/><circle cx="299.5" cy="407.1" r="2.7"/><circle cx="300.9" cy="407.2" r="2.7"/><circle cx="302.3" cy="407.3" r="2.7"/><circle cx="303.7" cy="407.3" r="2.7"/><circle cx="305.1" cy="407.3" r="2.7"/><circle cx="306.5" cy="407.4" r="2.7"/><circle cx="307.9" cy="407.4" r="2.7"/><circle cx="309.3" cy="407.4" r="2.7"/><circle cx="310.7" cy="407.4" r="2.7"/><circle cx="312.1" cy="407.4" r="2.7"/><circle cx="313.5" cy="407.4" r="2.7"/><circle cx="314.9" cy="407.4" r="2.7"/><circle cx="316.3" cy="407.4" r="2.7"/><circle cx="317.7" cy="407.4" r="2.7"/><circle cx="319.1" cy="407.4" r="2.7"/><circle cx="320.5" cy="407.4" r="2.7"/><circle cx="321.9" cy="407.4" r="2.7"/><circle cx="323.3" cy="407.4" r="2.7"/><circle cx="324.7" cy="407.4" r="2.7"/><circle cx="326.1" cy="407.4" r="2.7"/><circle cx="327.5" cy="407.4" r="2.7"/></g>
<path d="M194.50,408.40 L195.20,408.40 L195.90,408.40 L196.60,408.40 L197.30,408.40 L198.00,408.40 L198.70,408.40 L199.40,408.40 L200.10,408.40 L200.80,408.40 L201.50,408.40 L202.20,408.40 L202.90,408.40 L203.60,408.40 L204.30,408.40 L205.00,408.40 L205.70,408.40 L206.40,408.40 L207.10,408.40 L207.80,408.40 L208.50,408.40 L209.20,408.40 L209.90,408.40 L210.60,408.40 L211.30,408.40 L212.00,408.40 L212.70,408.40 L213.40,408.40 L214.10,408.40 L214.80,408.40 L215.50,408.40 L216.20,408.40 L216.90,408.40 L217.60,408.40 L218.30,408.40 L219.00,408.40 L219.70,408.40 L220.40,408.40 L221.10,408.40 L221.80,408.40 L222.50,408.39 L223.20,408.39 L223.90,408.39 L224.60,408.39 L225.30,408.39 L226.00,408.38 L226.70,408.38 L227.40,408.37 L228.10,408.36 L228.80,408.36 L229.50,408.34 L230.20,408.33 L230.90,408.31 L231.60,408.29 L232.30,408.27 L233.00,408.24 L233.70,408.20 L234.40,408.16 L235.10,408.11 L235.80,408.05 L236.50,407.98 L237.20,407.90 L237.90,407.81 L238.60,407.70 L239.30,407.57 L240.00,407.42 L240.70,407.25 L241.40,407.06 L242.10,406.83 L242.80,406.59 L243.50,406.30 L244.20,405.99 L244.90,405.63 L245.60,405.24 L246.30,404.81 L247.00,404.33 L247.70,403.81 L248.40,403.24 L249.10,402.62 L249.80,401.96 L250.50,401.24 L251.20,400.48 L251.90,399.67 L252.60,398.82 L253.30,397.92 L254.00,396.98 L254.70,396.01 L255.40,395.00 L256.10,393.98 L256.80,392.93 L257.50,391.87 L258.20,390.81 L258.90,389.75 L259.60,388.71 L260.30,387.69 L261.00,386.70 L261.70,385.76 L262.40,384.86 L263.10,384.03 L263.80,383.26 L264.50,382.57 L265.20,381.97 L265.90,381.45 L266.60,381.04 L267.30,380.72 L268.00,380.51 L268.70,380.41 L269.40,380.42 L270.10,380.53 L270.80,380.76 L271.50,381.09 L272.20,381.52 L272.90,382.05 L273.60,382.66 L274.30,383.37 L275.00,384.14 L275.70,384.99 L276.40,385.89 L277.10,386.84 L277.80,387.84 L278.50,388.86 L279.20,389.90 L279.90,390.96 L280.60,392.02 L281.30,393.08 L282.00,394.12 L282.70,395.15 L283.40,396.15 L284.10,397.12 L284.80,398.05 L285.50,398.94 L286.20,399.79 L286.90,400.59 L287.60,401.35 L288.30,402.06 L289.00,402.72 L289.70,403.33 L290.40,403.89 L291.10,404.40 L291.80,404.87 L292.50,405.30 L293.20,405.69 L293.90,406.03 L294.60,406.35 L295.30,406.62 L296.00,406.87 L296.70,407.09 L297.40,407.28 L298.10,407.44 L298.80,407.59 L299.50,407.71 L300.20,407.82 L300.90,407.92 L301.60,408.00 L302.30,408.06 L303.00,408.12 L303.70,408.17 L304.40,408.21 L305.10,408.24 L305.80,408.27 L306.50,408.30 L307.20,408.32 L307.90,408.33 L308.60,408.35 L309.30,408.36 L310.00,408.37 L310.70,408.37 L311.40,408.38 L312.10,408.38 L312.80,408.39 L313.50,408.39 L314.20,408.39 L314.90,408.39 L315.60,408.40 L316.30,408.40 L317.00,408.40 L317.70,408.40 L318.40,408.40 L319.10,408.40 L319.80,408.40 L320.50,408.40 L321.20,408.40 L321.90,408.40 L322.60,408.40 L323.30,408.40 L324.00,408.40 L324.70,408.40 L325.40,408.40 L326.10,408.40 L326.80,408.40 L327.50,408.40" fill="none" stroke="#111" stroke-width="1.5"/>
<path d="M238.60,452.28 L239.30,452.20 L240.00,452.11 L240.70,452.00 L241.40,451.87 L242.10,451.72 L242.80,451.53 L243.50,451.32 L244.20,451.07 L244.90,450.78 L245.60,450.45 L246.30,450.07 L247.00,449.64 L247.70,449.15 L248.40,448.60 L249.10,447.98 L249.80,447.30 L250.50,446.54 L251.20,445.71 L251.90,444.81 L252.60,443.83 L253.30,442.77 L254.00,441.64 L254.70,440.44 L255.40,439.17 L256.10,437.85 L256.80,436.47 L257.50,435.05 L258.20,433.60 L258.90,432.13 L259.60,430.65 L260.30,429.18 L261.00,427.74 L261.70,426.33 L262.40,424.98 L263.10,423.71 L263.80,422.52 L264.50,421.44 L265.20,420.48 L265.90,419.64 L266.60,418.96 L267.30,418.42 L268.00,418.05 L268.70,417.84 L269.40,417.81 L270.10,417.94 L270.80,418.24 L271.50,418.71 L272.20,419.33 L272.90,420.10 L273.60,421.01 L274.30,422.04 L275.00,423.19 L275.70,424.43 L276.40,425.75 L277.10,427.13 L277.80,428.56 L278.50,430.02 L279.20,431.49 L279.90,432.97 L280.60,434.43 L281.30,435.86 L282.00,437.26 L282.70,438.61 L283.40,439.90 L284.10,441.13 L284.80,442.29 L285.50,443.38 L286.20,444.40 L286.90,445.33 L287.60,446.20 L288.30,446.98 L289.00,447.70 L289.70,448.34 L290.40,448.92 L291.10,449.44 L291.80,449.89 L292.50,450.29 L293.20,450.65 L293.90,450.95 L294.60,451.22 L295.30,451.45 L296.00,451.64 L296.70,451.81 L297.40,451.95 L298.10,452.07 L298.80,452.16 L299.50,452.25 Z" fill="#f7c5af"/>
<path d="M194.50,446.90 L195.20,446.90 L195.90,446.90 L196.60,446.90 L197.30,446.90 L198.00,446.90 L198.70,446.90 L199.40,446.90 L200.10,446.90 L200.80,446.90 L201.50,446.90 L202.20,446.90 L202.90,446.90 L203.60,446.90 L204.30,446.90 L205.00,446.90 L205.70,446.90 L206.40,446.90 L207.10,446.90 L207.80,446.90 L208.50,446.90 L209.20,446.90 L209.90,446.90 L210.60,446.90 L211.30,446.90 L212.00,446.90 L212.70,446.90 L213.40,446.90 L214.10,446.90 L214.80,446.90 L215.50,446.90 L216.20,446.90 L216.90,446.90 L217.60,446.90 L218.30,446.90 L219.00,446.90 L219.70,446.90 L220.40,446.90 L221.10,446.90 L221.80,446.90 L222.50,446.90 L223.20,446.90 L223.90,446.90 L224.60,446.90 L225.30,446.90 L226.00,446.90 L226.70,446.90 L227.40,446.89 L228.10,446.89 L228.80,446.89 L229.50,446.89 L230.20,446.88 L230.90,446.88 L231.60,446.87 L232.30,446.89 L233.00,446.95 L233.70,447.01 L234.40,447.06 L235.10,447.11 L235.80,447.15 L236.50,447.18 L237.20,447.21 L237.90,447.23 L238.60,447.24 L239.30,447.23 L240.00,447.21 L240.70,447.17 L241.40,447.11 L242.10,447.03 L242.80,446.91 L243.50,446.77 L244.20,446.59 L244.90,446.37 L245.60,446.11 L246.30,445.80 L247.00,445.44 L247.70,445.02 L248.40,444.54 L249.10,443.99 L249.80,443.38 L250.50,442.69 L251.20,441.93 L251.90,441.10 L252.60,440.19 L253.30,439.20 L254.00,438.14 L254.70,437.01 L255.40,437.31 L256.10,436.06 L256.80,434.75 L257.50,433.40 L258.20,432.02 L258.90,430.62 L259.60,429.21 L260.30,427.81 L261.00,426.44 L261.70,425.10 L262.40,423.78 L263.10,422.51 L263.80,421.32 L264.50,420.24 L265.20,419.28 L265.90,418.44 L266.60,417.76 L267.30,417.22 L268.00,416.85 L268.70,416.64 L269.40,416.61 L270.10,416.74 L270.80,417.04 L271.50,417.51 L272.20,418.13 L272.90,418.90 L273.60,419.81 L274.30,420.84 L275.00,421.99 L275.70,423.23 L276.40,424.55 L277.10,425.93 L277.80,427.36 L278.50,428.82 L279.20,430.29 L279.90,431.77 L280.60,433.23 L281.30,434.66 L282.00,436.06 L282.70,437.41 L283.40,438.70 L284.10,439.93 L284.80,441.09 L285.50,442.18 L286.20,443.20 L286.90,444.13 L287.60,445.00 L288.30,445.78 L289.00,446.50 L289.70,447.14 L290.40,447.72 L291.10,448.24 L291.80,448.69 L292.50,449.09 L293.20,449.45 L293.90,449.75 L294.60,450.02 L295.30,450.25 L296.00,450.44 L296.70,450.61 L297.40,450.75 L298.10,450.87 L298.80,450.96 L299.50,451.05 L300.20,451.12 L300.90,451.17 L301.60,451.22 L302.30,451.25 L303.00,451.28 L303.70,451.31 L304.40,451.33 L305.10,451.34 L305.80,451.36 L306.50,451.37 L307.20,451.37 L307.90,451.38 L308.60,451.39 L309.30,451.39 L310.00,451.39 L310.70,451.39 L311.40,451.40 L312.10,451.40 L312.80,451.40 L313.50,451.40 L314.20,451.40 L314.90,451.40 L315.60,451.40 L316.30,451.40 L317.00,451.40 L317.70,451.40 L318.40,451.40 L319.10,451.40 L319.80,451.40 L320.50,451.40 L321.20,451.40 L321.90,451.40 L322.60,451.40 L323.30,451.40 L324.00,451.40 L324.70,451.40 L325.40,451.40 L326.10,451.40 L326.80,451.40 L327.50,451.40" fill="none" stroke="#f2e60a" stroke-width="3.0" stroke-linejoin="round" opacity="0.6"/>
<g fill="none" stroke="#f2e200" stroke-width="1.1"><circle cx="194.5" cy="446.9" r="3.0"/><circle cx="195.9" cy="446.9" r="3.0"/><circle cx="197.3" cy="446.9" r="3.0"/><circle cx="198.7" cy="446.9" r="3.0"/><circle cx="200.1" cy="446.9" r="3.0"/><circle cx="201.5" cy="446.9" r="3.0"/><circle cx="202.9" cy="446.9" r="3.0"/><circle cx="204.3" cy="446.9" r="3.0"/><circle cx="205.7" cy="446.9" r="3.0"/><circle cx="207.1" cy="446.9" r="3.0"/><circle cx="208.5" cy="446.9" r="3.0"/><circle cx="209.9" cy="446.9" r="3.0"/><circle cx="211.3" cy="446.9" r="3.0"/><circle cx="212.7" cy="446.9" r="3.0"/><circle cx="214.1" cy="446.9" r="3.0"/><circle cx="215.5" cy="446.9" r="3.0"/><circle cx="216.9" cy="446.9" r="3.0"/><circle cx="218.3" cy="446.9" r="3.0"/><circle cx="219.7" cy="446.9" r="3.0"/><circle cx="221.1" cy="446.9" r="3.0"/><circle cx="222.5" cy="446.9" r="3.0"/><circle cx="223.9" cy="446.9" r="3.0"/><circle cx="225.3" cy="446.9" r="3.0"/><circle cx="226.7" cy="446.9" r="3.0"/><circle cx="228.1" cy="446.9" r="3.0"/><circle cx="229.5" cy="446.9" r="3.0"/><circle cx="230.9" cy="446.9" r="3.0"/><circle cx="232.3" cy="446.9" r="3.0"/><circle cx="233.7" cy="447.0" r="3.0"/><circle cx="235.1" cy="447.1" r="3.0"/><circle cx="236.5" cy="447.2" r="3.0"/><circle cx="237.9" cy="447.2" r="3.0"/><circle cx="239.3" cy="447.2" r="3.0"/><circle cx="240.7" cy="447.2" r="3.0"/><circle cx="242.1" cy="447.0" r="3.0"/><circle cx="243.5" cy="446.8" r="3.0"/><circle cx="244.9" cy="446.4" r="3.0"/><circle cx="246.3" cy="445.8" r="3.0"/><circle cx="247.7" cy="445.0" r="3.0"/><circle cx="249.1" cy="444.0" r="3.0"/><circle cx="250.5" cy="442.7" r="3.0"/><circle cx="251.9" cy="441.1" r="3.0"/><circle cx="253.3" cy="439.2" r="3.0"/><circle cx="254.7" cy="437.0" r="3.0"/><circle cx="256.1" cy="436.1" r="3.0"/><circle cx="257.5" cy="433.4" r="3.0"/><circle cx="258.9" cy="430.6" r="3.0"/><circle cx="260.3" cy="427.8" r="3.0"/><circle cx="261.7" cy="425.1" r="3.0"/><circle cx="263.1" cy="422.5" r="3.0"/><circle cx="264.5" cy="420.2" r="3.0"/><circle cx="265.9" cy="418.4" r="3.0"/><circle cx="267.3" cy="417.2" r="3.0"/><circle cx="268.7" cy="416.6" r="3.0"/><circle cx="270.1" cy="416.7" r="3.0"/><circle cx="271.5" cy="417.5" r="3.0"/><circle cx="272.9" cy="418.9" r="3.0"/><circle cx="274.3" cy="420.8" r="3.0"/><circle cx="275.7" cy="423.2" r="3.0"/><circle cx="277.1" cy="425.9" r="3.0"/><circle cx="278.5" cy="428.8" r="3.0"/><circle cx="279.9" cy="431.8" r="3.0"/><circle cx="281.3" cy="434.7" r="3.0"/><circle cx="282.7" cy="437.4" r="3.0"/><circle cx="284.1" cy="439.9" r="3.0"/><circle cx="285.5" cy="442.2" r="3.0"/><circle cx="286.9" cy="444.1" r="3.0"/><circle cx="288.3" cy="445.8" r="3.0"/><circle cx="289.7" cy="447.1" r="3.0"/><circle cx="291.1" cy="448.2" r="3.0"/><circle cx="292.5" cy="449.1" r="3.0"/><circle cx="293.9" cy="449.8" r="3.0"/><circle cx="295.3" cy="450.2" r="3.0"/><circle cx="296.7" cy="450.6" r="3.0"/><circle cx="298.1" cy="450.9" r="3.0"/><circle cx="299.5" cy="451.0" r="3.0"/><circle cx="300.9" cy="451.2" r="3.0"/><circle cx="302.3" cy="451.3" r="3.0"/><circle cx="303.7" cy="451.3" r="3.0"/><circle cx="305.1" cy="451.3" r="3.0"/><circle cx="306.5" cy="451.4" r="3.0"/><circle cx="307.9" cy="451.4" r="3.0"/><circle cx="309.3" cy="451.4" r="3.0"/><circle cx="310.7" cy="451.4" r="3.0"/><circle cx="312.1" cy="451.4" r="3.0"/><circle cx="313.5" cy="451.4" r="3.0"/><circle cx="314.9" cy="451.4" r="3.0"/><circle cx="316.3" cy="451.4" r="3.0"/><circle cx="317.7" cy="451.4" r="3.0"/><circle cx="319.1" cy="451.4" r="3.0"/><circle cx="320.5" cy="451.4" r="3.0"/><circle cx="321.9" cy="451.4" r="3.0"/><circle cx="323.3" cy="451.4" r="3.0"/><circle cx="324.7" cy="451.4" r="3.0"/><circle cx="326.1" cy="451.4" r="3.0"/><circle cx="327.5" cy="451.4" r="3.0"/></g>
<path d="M194.50,451.10 L195.20,451.10 L195.90,451.10 L196.60,451.10 L197.30,451.10 L198.00,451.10 L198.70,451.10 L199.40,451.10 L200.10,451.10 L200.80,451.10 L201.50,451.10 L202.20,451.10 L202.90,451.10 L203.60,451.10 L204.30,451.10 L205.00,451.10 L205.70,451.10 L206.40,451.10 L207.10,451.10 L207.80,451.10 L208.50,451.10 L209.20,451.10 L209.90,451.10 L210.60,451.10 L211.30,451.10 L212.00,451.10 L212.70,451.10 L213.40,451.10 L214.10,451.10 L214.80,451.10 L215.50,451.10 L216.20,451.10 L216.90,451.10 L217.60,451.10 L218.30,451.10 L219.00,451.10 L219.70,451.10 L220.40,451.10 L221.10,451.10 L221.80,451.10 L222.50,451.10 L223.20,451.10 L223.90,451.10 L224.60,451.10 L225.30,451.10 L226.00,451.10 L226.70,451.10 L227.40,451.09 L228.10,451.09 L228.80,451.09 L229.50,451.09 L230.20,451.08 L230.90,451.08 L231.60,451.07 L232.30,451.06 L233.00,451.05 L233.70,451.04 L234.40,451.02 L235.10,451.00 L235.80,450.97 L236.50,450.93 L237.20,450.89 L237.90,450.84 L238.60,450.78 L239.30,450.70 L240.00,450.61 L240.70,450.50 L241.40,450.37 L242.10,450.22 L242.80,450.03 L243.50,449.82 L244.20,449.57 L244.90,449.28 L245.60,448.95 L246.30,448.57 L247.00,448.14 L247.70,447.65 L248.40,447.10 L249.10,446.48 L249.80,445.80 L250.50,445.04 L251.20,444.21 L251.90,443.31 L252.60,442.33 L253.30,441.27 L254.00,440.14 L254.70,438.94 L255.40,439.17 L256.10,437.85 L256.80,436.47 L257.50,435.05 L258.20,433.60 L258.90,432.13 L259.60,430.65 L260.30,429.18 L261.00,427.74 L261.70,426.33 L262.40,424.98 L263.10,423.71 L263.80,422.52 L264.50,421.44 L265.20,420.48 L265.90,419.64 L266.60,418.96 L267.30,418.42 L268.00,418.05 L268.70,417.84 L269.40,417.81 L270.10,417.94 L270.80,418.24 L271.50,418.71 L272.20,419.33 L272.90,420.10 L273.60,421.01 L274.30,422.04 L275.00,423.19 L275.70,424.43 L276.40,425.75 L277.10,427.13 L277.80,428.56 L278.50,430.02 L279.20,431.49 L279.90,432.97 L280.60,434.43 L281.30,435.86 L282.00,437.26 L282.70,438.61 L283.40,439.90 L284.10,441.13 L284.80,442.29 L285.50,443.38 L286.20,444.40 L286.90,445.33 L287.60,446.20 L288.30,446.98 L289.00,447.70 L289.70,448.34 L290.40,448.92 L291.10,449.44 L291.80,449.89 L292.50,450.29 L293.20,450.65 L293.90,450.95 L294.60,451.22 L295.30,451.45 L296.00,451.64 L296.70,451.81 L297.40,451.95 L298.10,452.07 L298.80,452.16 L299.50,452.25 L300.20,452.32 L300.90,452.37 L301.60,452.42 L302.30,452.45 L303.00,452.48 L303.70,452.51 L304.40,452.53 L305.10,452.54 L305.80,452.56 L306.50,452.57 L307.20,452.57 L307.90,452.58 L308.60,452.59 L309.30,452.59 L310.00,452.59 L310.70,452.59 L311.40,452.60 L312.10,452.60 L312.80,452.60 L313.50,452.60 L314.20,452.60 L314.90,452.60 L315.60,452.60 L316.30,452.60 L317.00,452.60 L317.70,452.60 L318.40,452.60 L319.10,452.60 L319.80,452.60 L320.50,452.60 L321.20,452.60 L321.90,452.60 L322.60,452.60 L323.30,452.60 L324.00,452.60 L324.70,452.60 L325.40,452.60 L326.10,452.60 L326.80,452.60 L327.50,452.60" fill="none" stroke="#111" stroke-width="1.6"/>
<rect x="189.90" y="229.40" width="141.70" height="229.50" fill="none" stroke="#111" stroke-width="1.5" stroke-linejoin="round"/>
<text x="193.4" y="245.7" font-size="15.4" fill="#231f20" text-anchor="start" textLength="25.2" lengthAdjust="spacingAndGlyphs" stroke="#231f20" stroke-width="0.2">C 1s</text>
<text x="327.2" y="248.9" font-size="14.85" fill="#231f20" text-anchor="end" textLength="23.1" lengthAdjust="spacingAndGlyphs" stroke="#231f20" stroke-width="0.2">x=0</text>
<text x="327.2" y="292.3" font-size="14.85" fill="#3535a0" text-anchor="end" textLength="41.5" lengthAdjust="spacingAndGlyphs" stroke="#3535a0" stroke-width="0.2">x=0.29</text>
<text x="327.2" y="334.2" font-size="14.85" fill="#2aa05a" text-anchor="end" textLength="41.9" lengthAdjust="spacingAndGlyphs" stroke="#2aa05a" stroke-width="0.2">x=0.76</text>
<text x="327.2" y="383.1" font-size="14.85" fill="#c455a6" text-anchor="end" textLength="41.9" lengthAdjust="spacingAndGlyphs" stroke="#c455a6" stroke-width="0.2">x=0.93</text>
<text x="327.2" y="442.0" font-size="14.85" fill="#f0e448" text-anchor="end" textLength="23.2" lengthAdjust="spacingAndGlyphs" stroke="#f0e448" stroke-width="0.2">x=1</text>
<line x1="221.50" y1="458.90" x2="221.50" y2="469.00" stroke="#111" stroke-width="1.4"/>
<text x="221.5" y="487.7" font-size="14.85" fill="#231f20" text-anchor="middle" textLength="22.8" lengthAdjust="spacingAndGlyphs" stroke="#231f20" stroke-width="0.2">286</text>
<line x1="273.90" y1="458.90" x2="273.90" y2="469.00" stroke="#111" stroke-width="1.4"/>
<text x="273.9" y="487.7" font-size="14.85" fill="#231f20" text-anchor="middle" textLength="22.8" lengthAdjust="spacingAndGlyphs" stroke="#231f20" stroke-width="0.2">284</text>
<line x1="326.60" y1="458.90" x2="326.60" y2="469.00" stroke="#111" stroke-width="1.4"/>
<text x="324.3" y="487.7" font-size="14.85" fill="#231f20" text-anchor="middle" textLength="22.8" lengthAdjust="spacingAndGlyphs" stroke="#231f20" stroke-width="0.2">282</text>
<text x="264.6" y="504.3" font-size="14.85" fill="#231f20" text-anchor="middle" textLength="124.3" lengthAdjust="spacingAndGlyphs" stroke="#231f20" stroke-width="0.2">Binding Energy [eV]</text>
<text x="350.6" y="343.7" font-size="14.85" fill="#231f20" text-anchor="middle" textLength="117.7" lengthAdjust="spacingAndGlyphs" transform="rotate(-90 350.6 343.7)" stroke="#231f20" stroke-width="0.2">Intenisty [arb. units]</text>
<text x="0.2" y="527.4" font-size="14.85" fill="#231f20" text-anchor="start" textLength="16.2" lengthAdjust="spacingAndGlyphs" stroke="#231f20" stroke-width="0.2">(d)</text>
<rect x="21.2" y="521.4" width="142.6" height="229.3" fill="#c8c9cb"/>
<g fill="none" stroke="#1a1a1a" stroke-width="0.9"><circle cx="24.5" cy="593.0" r="2.7"/><circle cx="25.7" cy="590.8" r="2.7"/><circle cx="26.9" cy="590.7" r="2.7"/><circle cx="28.1" cy="590.6" r="2.7"/><circle cx="29.3" cy="589.2" r="2.7"/><circle cx="30.5" cy="589.4" r="2.7"/><circle cx="31.7" cy="589.0" r="2.7"/><circle cx="32.9" cy="587.1" r="2.7"/><circle cx="34.1" cy="588.9" r="2.7"/><circle cx="35.3" cy="588.2" r="2.7"/><circle cx="36.5" cy="586.8" r="2.7"/><circle cx="37.7" cy="586.8" r="2.7"/><circle cx="38.9" cy="587.0" r="2.7"/><circle cx="40.1" cy="586.0" r="2.7"/><circle cx="41.3" cy="585.6" r="2.7"/><circle cx="42.5" cy="584.3" r="2.7"/><circle cx="43.7" cy="585.6" r="2.7"/><circle cx="44.9" cy="584.9" r="2.7"/><circle cx="46.1" cy="584.7" r="2.7"/><circle cx="47.3" cy="582.9" r="2.7"/><circle cx="48.5" cy="585.1" r="2.7"/><circle cx="49.7" cy="583.6" r="2.7"/><circle cx="50.9" cy="582.8" r="2.7"/><circle cx="52.1" cy="584.4" r="2.7"/><circle cx="53.3" cy="582.4" r="2.7"/><circle cx="54.5" cy="580.8" r="2.7"/><circle cx="55.7" cy="581.3" r="2.7"/><circle cx="56.9" cy="579.4" r="2.7"/><circle cx="58.1" cy="581.6" r="2.7"/><circle cx="59.3" cy="580.0" r="2.7"/><circle cx="60.5" cy="579.3" r="2.7"/><circle cx="61.7" cy="580.2" r="2.7"/><circle cx="62.9" cy="577.6" r="2.7"/><circle cx="64.1" cy="578.8" r="2.7"/><circle cx="65.3" cy="576.1" r="2.7"/><circle cx="66.5" cy="576.6" r="2.7"/><circle cx="67.7" cy="575.4" r="2.7"/><circle cx="68.9" cy="576.8" r="2.7"/><circle cx="70.1" cy="576.2" r="2.7"/><circle cx="71.3" cy="573.7" r="2.7"/><circle cx="72.5" cy="573.9" r="2.7"/><circle cx="73.7" cy="572.2" r="2.7"/><circle cx="74.9" cy="571.9" r="2.7"/><circle cx="76.1" cy="570.0" r="2.7"/><circle cx="77.3" cy="568.3" r="2.7"/><circle cx="78.5" cy="567.3" r="2.7"/><circle cx="79.7" cy="568.1" r="2.7"/><circle cx="80.9" cy="568.6" r="2.7"/><circle cx="82.1" cy="566.0" r="2.7"/><circle cx="83.3" cy="564.3" r="2.7"/><circle cx="84.5" cy="565.2" r="2.7"/><circle cx="85.7" cy="562.8" r="2.7"/><circle cx="86.9" cy="561.5" r="2.7"/><circle cx="88.1" cy="560.4" r="2.7"/><circle cx="89.3" cy="558.7" r="2.7"/><circle cx="90.5" cy="557.2" r="2.7"/><circle cx="91.7" cy="554.8" r="2.7"/><circle cx="92.9" cy="554.7" r="2.7"/><circle cx="94.1" cy="552.4" r="2.7"/><circle cx="95.3" cy="551.3" r="2.7"/><circle cx="96.5" cy="547.5" r="2.7"/><circle cx="97.7" cy="542.7" r="2.7"/><circle cx="98.9" cy="540.1" r="2.7"/><circle cx="100.1" cy="538.1" r="2.7"/><circle cx="101.3" cy="533.4" r="2.7"/><circle cx="102.5" cy="530.2" r="2.7"/><circle cx="103.7" cy="527.9" r="2.7"/><circle cx="104.9" cy="526.7" r="2.7"/><circle cx="106.1" cy="526.2" r="2.7"/><circle cx="107.3" cy="524.8" r="2.7"/><circle cx="108.5" cy="526.9" r="2.7"/><circle cx="109.7" cy="526.1" r="2.7"/><circle cx="110.9" cy="527.5" r="2.7"/><circle cx="112.1" cy="530.5" r="2.7"/><circle cx="113.3" cy="533.7" r="2.7"/><circle cx="114.5" cy="536.1" r="2.7"/><circle cx="115.7" cy="541.5" r="2.7"/><circle cx="116.9" cy="547.6" r="2.7"/><circle cx="118.1" cy="553.9" r="2.7"/><circle cx="119.3" cy="560.9" r="2.7"/><circle cx="120.5" cy="570.9" r="2.7"/><circle cx="121.7" cy="577.5" r="2.7"/><circle cx="122.9" cy="582.4" r="2.7"/><circle cx="124.1" cy="585.9" r="2.7"/><circle cx="125.3" cy="591.0" r="2.7"/><circle cx="126.5" cy="594.9" r="2.7"/><circle cx="127.7" cy="598.8" r="2.7"/><circle cx="128.9" cy="603.1" r="2.7"/><circle cx="130.1" cy="606.0" r="2.7"/><circle cx="131.3" cy="607.6" r="2.7"/><circle cx="132.5" cy="609.5" r="2.7"/><circle cx="133.7" cy="611.5" r="2.7"/><circle cx="134.9" cy="612.5" r="2.7"/><circle cx="136.1" cy="613.9" r="2.7"/><circle cx="137.3" cy="614.6" r="2.7"/><circle cx="138.5" cy="616.2" r="2.7"/><circle cx="139.7" cy="619.1" r="2.7"/><circle cx="140.9" cy="618.8" r="2.7"/><circle cx="142.1" cy="618.7" r="2.7"/><circle cx="143.3" cy="619.3" r="2.7"/><circle cx="144.5" cy="619.6" r="2.7"/><circle cx="145.7" cy="621.0" r="2.7"/><circle cx="146.9" cy="621.4" r="2.7"/><circle cx="148.1" cy="620.2" r="2.7"/><circle cx="149.3" cy="622.0" r="2.7"/><circle cx="150.5" cy="621.1" r="2.7"/><circle cx="151.7" cy="622.7" r="2.7"/><circle cx="152.9" cy="621.7" r="2.7"/><circle cx="154.1" cy="623.0" r="2.7"/><circle cx="155.3" cy="621.2" r="2.7"/><circle cx="156.5" cy="621.3" r="2.7"/><circle cx="157.7" cy="621.8" r="2.7"/></g>
<path d="M24.50,591.91 L25.70,591.69 L26.90,591.45 L28.10,591.19 L29.30,590.91 L30.50,590.62 L31.70,590.31 L32.90,589.98 L34.10,589.64 L35.30,589.29 L36.50,588.92 L37.70,588.54 L38.90,588.15 L40.10,587.74 L41.30,587.32 L42.50,586.90 L43.70,586.46 L44.90,586.01 L46.10,585.55 L47.30,585.08 L48.50,584.60 L49.70,584.12 L50.90,583.63 L52.10,583.13 L53.30,582.63 L54.50,582.12 L55.70,581.59 L56.90,581.06 L58.10,580.51 L59.30,579.95 L60.50,579.37 L61.70,578.78 L62.90,578.17 L64.10,577.55 L65.30,576.90 L66.50,576.24 L67.70,575.56 L68.90,574.86 L70.10,574.14 L71.30,573.40 L72.50,572.63 L73.70,571.84 L74.90,571.03 L76.10,570.19 L77.30,569.32 L78.50,568.43 L79.70,567.51 L80.90,566.56 L82.10,565.59 L83.30,564.58 L84.50,563.54 L85.70,562.48 L86.90,561.37 L88.10,560.23 L89.30,558.97 L90.50,557.59 L91.70,556.06 L92.90,554.36 L94.10,552.46 L95.30,550.34 L96.50,547.86 L97.70,544.22 L98.90,540.18 L100.10,536.76 L101.30,533.86 L102.50,531.25 L103.70,529.32 L104.90,528.16 L106.10,527.21 L107.30,526.61 L108.50,526.58 L109.70,527.27 L110.90,528.40 L112.10,530.19 L113.30,533.04 L114.50,536.61 L115.70,541.60 L116.90,547.49 L118.10,554.46 L119.30,562.63 L120.50,570.56 L121.70,576.91 L122.90,582.07 L124.10,586.69 L125.30,591.10 L126.50,595.40 L127.70,599.05 L128.90,602.09 L130.10,604.75 L131.30,607.05 L132.50,609.12 L133.70,610.98 L134.90,612.55 L136.10,613.85 L137.30,615.12 L138.50,616.34 L139.70,617.47 L140.90,618.48 L142.10,619.33 L143.30,619.98 L144.50,620.40 L145.70,620.60 L146.90,620.76 L148.10,620.91 L149.30,621.04 L150.50,621.15 L151.70,621.25 L152.90,621.34 L154.10,621.40 L155.30,621.45 L156.50,621.49 L157.70,621.50" fill="none" stroke="#111" stroke-width="1.1"/>
<path d="M24.50,634.68 L25.70,634.39 L26.90,634.10 L28.10,633.80 L29.30,633.49 L30.50,633.18 L31.70,632.86 L32.90,632.53 L34.10,632.20 L35.30,631.86 L36.50,631.52 L37.70,631.18 L38.90,630.83 L40.10,630.47 L41.30,630.12 L42.50,629.77 L43.70,629.41 L44.90,629.06 L46.10,628.69 L47.30,628.32 L48.50,627.92 L49.70,627.51 L50.90,627.08 L52.10,626.62 L53.30,626.13 L54.50,625.60 L55.70,625.01 L56.90,624.38 L58.10,623.71 L59.30,622.99 L60.50,622.24 L61.70,621.46 L62.90,620.66 L64.10,619.83 L65.30,618.99 L66.50,618.14 L67.70,617.26 L68.90,616.35 L70.10,615.40 L71.30,614.41 L72.50,613.40 L73.70,612.35 L74.90,611.26 L76.10,610.14 L77.30,608.99 L78.50,607.80 L79.70,606.56 L80.90,605.27 L82.10,603.92 L83.30,602.52 L84.50,601.06 L85.70,599.55 L86.90,597.98 L88.10,596.36 L89.30,594.66 L90.50,592.85 L91.70,590.97 L92.90,589.01 L94.10,587.00 L95.30,584.95 L96.50,582.86 L97.70,580.48 L98.90,577.99 L100.10,575.76 L101.30,574.16 L102.50,572.78 L103.70,571.51 L104.90,570.50 L106.10,569.90 L107.30,569.88 L108.50,570.63 L109.70,571.95 L110.90,573.66 L112.10,576.79 L113.30,581.15 L114.50,586.07 L115.70,591.67 L116.90,598.57 L118.10,605.91 L119.30,612.77 L120.50,618.63 L121.70,624.06 L122.90,629.24 L124.10,634.36 L125.30,639.75 L126.50,644.87 L127.70,649.04 L128.90,651.92 L130.10,654.26 L131.30,656.23 L132.50,657.88 L133.70,659.32 L134.90,660.64 L136.10,661.83 L137.30,662.86 L138.50,663.73 L139.70,664.41 L140.90,665.03 L142.10,665.60 L143.30,666.11 L144.50,666.56 L145.70,666.94 L146.90,667.22 L148.10,667.41 L149.30,667.55 L150.50,667.68 L151.70,667.79 L152.90,667.89 L154.10,667.97 L155.30,668.04 L156.50,668.08 L157.70,668.10" fill="none" stroke="#111" stroke-width="1.1"/>
<g fill="none" stroke="#3a3aa6" stroke-width="0.9"><circle cx="24.5" cy="634.6" r="2.7"/><circle cx="25.7" cy="633.9" r="2.7"/><circle cx="26.9" cy="632.0" r="2.7"/><circle cx="28.1" cy="633.0" r="2.7"/><circle cx="29.3" cy="632.5" r="2.7"/><circle cx="30.5" cy="631.8" r="2.7"/><circle cx="31.7" cy="631.3" r="2.7"/><circle cx="32.9" cy="633.1" r="2.7"/><circle cx="34.1" cy="630.8" r="2.7"/><circle cx="35.3" cy="630.1" r="2.7"/><circle cx="36.5" cy="631.1" r="2.7"/><circle cx="37.7" cy="630.3" r="2.7"/><circle cx="38.9" cy="629.8" r="2.7"/><circle cx="40.1" cy="630.2" r="2.7"/><circle cx="41.3" cy="629.6" r="2.7"/><circle cx="42.5" cy="629.1" r="2.7"/><circle cx="43.7" cy="629.3" r="2.7"/><circle cx="44.9" cy="628.3" r="2.7"/><circle cx="46.1" cy="627.1" r="2.7"/><circle cx="47.3" cy="627.0" r="2.7"/><circle cx="48.5" cy="626.5" r="2.7"/><circle cx="49.7" cy="626.7" r="2.7"/><circle cx="50.9" cy="625.1" r="2.7"/><circle cx="52.1" cy="624.0" r="2.7"/><circle cx="53.3" cy="625.2" r="2.7"/><circle cx="54.5" cy="623.4" r="2.7"/><circle cx="55.7" cy="622.3" r="2.7"/><circle cx="56.9" cy="623.7" r="2.7"/><circle cx="58.1" cy="622.1" r="2.7"/><circle cx="59.3" cy="622.4" r="2.7"/><circle cx="60.5" cy="620.8" r="2.7"/><circle cx="61.7" cy="619.5" r="2.7"/><circle cx="62.9" cy="618.5" r="2.7"/><circle cx="64.1" cy="618.4" r="2.7"/><circle cx="65.3" cy="617.7" r="2.7"/><circle cx="66.5" cy="616.4" r="2.7"/><circle cx="67.7" cy="616.0" r="2.7"/><circle cx="68.9" cy="614.0" r="2.7"/><circle cx="70.1" cy="614.4" r="2.7"/><circle cx="71.3" cy="611.8" r="2.7"/><circle cx="72.5" cy="612.2" r="2.7"/><circle cx="73.7" cy="612.0" r="2.7"/><circle cx="74.9" cy="611.2" r="2.7"/><circle cx="76.1" cy="610.7" r="2.7"/><circle cx="77.3" cy="606.6" r="2.7"/><circle cx="78.5" cy="607.5" r="2.7"/><circle cx="79.7" cy="606.6" r="2.7"/><circle cx="80.9" cy="605.2" r="2.7"/><circle cx="82.1" cy="602.1" r="2.7"/><circle cx="83.3" cy="601.9" r="2.7"/><circle cx="84.5" cy="601.7" r="2.7"/><circle cx="85.7" cy="597.2" r="2.7"/><circle cx="86.9" cy="597.4" r="2.7"/><circle cx="88.1" cy="596.4" r="2.7"/><circle cx="89.3" cy="593.0" r="2.7"/><circle cx="90.5" cy="592.4" r="2.7"/><circle cx="91.7" cy="589.0" r="2.7"/><circle cx="92.9" cy="587.3" r="2.7"/><circle cx="94.1" cy="585.3" r="2.7"/><circle cx="95.3" cy="584.1" r="2.7"/><circle cx="96.5" cy="581.8" r="2.7"/><circle cx="97.7" cy="580.3" r="2.7"/><circle cx="98.9" cy="576.1" r="2.7"/><circle cx="100.1" cy="574.6" r="2.7"/><circle cx="101.3" cy="574.0" r="2.7"/><circle cx="102.5" cy="572.3" r="2.7"/><circle cx="103.7" cy="569.3" r="2.7"/><circle cx="104.9" cy="570.1" r="2.7"/><circle cx="106.1" cy="568.5" r="2.7"/><circle cx="107.3" cy="569.2" r="2.7"/><circle cx="108.5" cy="569.9" r="2.7"/><circle cx="109.7" cy="572.0" r="2.7"/><circle cx="110.9" cy="572.8" r="2.7"/><circle cx="112.1" cy="574.1" r="2.7"/><circle cx="113.3" cy="578.9" r="2.7"/><circle cx="114.5" cy="585.7" r="2.7"/><circle cx="115.7" cy="590.4" r="2.7"/><circle cx="116.9" cy="598.6" r="2.7"/><circle cx="118.1" cy="605.2" r="2.7"/><circle cx="119.3" cy="611.1" r="2.7"/><circle cx="120.5" cy="618.6" r="2.7"/><circle cx="121.7" cy="622.3" r="2.7"/><circle cx="122.9" cy="626.4" r="2.7"/><circle cx="124.1" cy="635.2" r="2.7"/><circle cx="125.3" cy="637.0" r="2.7"/><circle cx="126.5" cy="644.4" r="2.7"/><circle cx="127.7" cy="648.9" r="2.7"/><circle cx="128.9" cy="651.0" r="2.7"/><circle cx="130.1" cy="651.7" r="2.7"/><circle cx="131.3" cy="656.1" r="2.7"/><circle cx="132.5" cy="655.6" r="2.7"/><circle cx="133.7" cy="657.1" r="2.7"/><circle cx="134.9" cy="659.3" r="2.7"/><circle cx="136.1" cy="661.5" r="2.7"/><circle cx="137.3" cy="662.1" r="2.7"/><circle cx="138.5" cy="663.5" r="2.7"/><circle cx="139.7" cy="663.0" r="2.7"/><circle cx="140.9" cy="663.9" r="2.7"/><circle cx="142.1" cy="663.6" r="2.7"/><circle cx="143.3" cy="664.8" r="2.7"/><circle cx="144.5" cy="666.1" r="2.7"/><circle cx="145.7" cy="665.7" r="2.7"/><circle cx="146.9" cy="666.7" r="2.7"/><circle cx="148.1" cy="665.9" r="2.7"/><circle cx="149.3" cy="666.0" r="2.7"/><circle cx="150.5" cy="666.7" r="2.7"/><circle cx="151.7" cy="666.6" r="2.7"/><circle cx="152.9" cy="667.4" r="2.7"/><circle cx="154.1" cy="667.1" r="2.7"/><circle cx="155.3" cy="668.6" r="2.7"/><circle cx="156.5" cy="666.9" r="2.7"/><circle cx="157.7" cy="666.9" r="2.7"/></g>
<path d="M24.50,669.98 L25.70,670.72 L26.90,671.09 L28.10,669.57 L29.30,669.96 L30.50,670.40 L31.70,669.39 L32.90,668.78 L34.10,669.85 L35.30,668.79 L36.50,668.78 L37.70,669.20 L38.90,668.89 L40.10,667.25 L41.30,666.79 L42.50,667.21 L43.70,666.53 L44.90,664.62 L46.10,667.16 L47.30,665.71 L48.50,666.03 L49.70,663.98 L50.90,665.88 L52.10,663.87 L53.30,663.98 L54.50,662.48 L55.70,663.26 L56.90,662.86 L58.10,662.55 L59.30,662.74 L60.50,662.02 L61.70,662.45 L62.90,660.73 L64.10,659.82 L65.30,660.24 L66.50,660.34 L67.70,660.38 L68.90,659.45 L70.10,656.56 L71.30,657.87 L72.50,658.14 L73.70,656.10 L74.90,654.73 L76.10,654.55 L77.30,652.82 L78.50,652.79 L79.70,651.09 L80.90,651.18 L82.10,649.15 L83.30,646.78 L84.50,646.66 L85.70,645.59 L86.90,642.84 L88.10,641.49 L89.30,638.13 L90.50,639.17 L91.70,635.81 L92.90,632.28 L94.10,630.21 L95.30,628.90 L96.50,626.88 L97.70,623.10 L98.90,620.60 L100.10,617.26 L101.30,614.08 L102.50,610.88 L103.70,608.41 L104.90,606.93 L106.10,605.81 L107.30,605.55 L108.50,606.53 L109.70,608.44 L110.90,612.11 L112.10,619.13 L113.30,627.00 L114.50,636.46 L115.70,645.97 L116.90,653.59 L118.10,660.32 L119.30,665.83 L120.50,670.41 L121.70,674.43 L122.90,678.02 L124.10,681.26 L125.30,684.35 L126.50,687.17 L127.70,689.42 L128.90,691.02 L130.10,692.40 L131.30,693.60 L132.50,694.62 L133.70,695.43 L134.90,696.04 L136.10,696.52 L137.30,696.94 L138.50,697.31 L139.70,697.64 L140.90,697.93 L142.10,698.20 L143.30,698.45 L144.50,698.70 L145.70,698.94 L146.90,699.18 L148.10,699.42 L149.30,699.65 L150.50,699.87 L151.70,700.09 L152.90,700.29 L154.10,700.48 L155.30,700.65 L156.50,700.82 L157.70,700.97" fill="none" stroke="#111" stroke-width="1.2"/>
<g fill="none" stroke="#3f8f5f" stroke-width="0.9"><circle cx="24.5" cy="664.7" r="2.7"/><circle cx="25.7" cy="662.8" r="2.7"/><circle cx="26.9" cy="663.7" r="2.7"/><circle cx="28.1" cy="663.3" r="2.7"/><circle cx="29.3" cy="664.7" r="2.7"/><circle cx="30.5" cy="661.8" r="2.7"/><circle cx="31.7" cy="661.2" r="2.7"/><circle cx="32.9" cy="661.5" r="2.7"/><circle cx="34.1" cy="660.7" r="2.7"/><circle cx="35.3" cy="660.9" r="2.7"/><circle cx="36.5" cy="661.4" r="2.7"/><circle cx="37.7" cy="661.4" r="2.7"/><circle cx="38.9" cy="661.8" r="2.7"/><circle cx="40.1" cy="659.3" r="2.7"/><circle cx="41.3" cy="662.0" r="2.7"/><circle cx="42.5" cy="661.0" r="2.7"/><circle cx="43.7" cy="658.7" r="2.7"/><circle cx="44.9" cy="656.4" r="2.7"/><circle cx="46.1" cy="658.0" r="2.7"/><circle cx="47.3" cy="657.7" r="2.7"/><circle cx="48.5" cy="655.2" r="2.7"/><circle cx="49.7" cy="656.9" r="2.7"/><circle cx="50.9" cy="656.2" r="2.7"/><circle cx="52.1" cy="655.3" r="2.7"/><circle cx="53.3" cy="656.2" r="2.7"/><circle cx="54.5" cy="656.1" r="2.7"/><circle cx="55.7" cy="654.4" r="2.7"/><circle cx="56.9" cy="654.7" r="2.7"/><circle cx="58.1" cy="653.5" r="2.7"/><circle cx="59.3" cy="653.0" r="2.7"/><circle cx="60.5" cy="653.5" r="2.7"/><circle cx="61.7" cy="653.5" r="2.7"/><circle cx="62.9" cy="652.2" r="2.7"/><circle cx="64.1" cy="650.3" r="2.7"/><circle cx="65.3" cy="652.4" r="2.7"/><circle cx="66.5" cy="649.9" r="2.7"/><circle cx="67.7" cy="651.0" r="2.7"/><circle cx="68.9" cy="651.9" r="2.7"/><circle cx="70.1" cy="649.7" r="2.7"/><circle cx="71.3" cy="648.0" r="2.7"/><circle cx="72.5" cy="646.8" r="2.7"/><circle cx="73.7" cy="648.1" r="2.7"/><circle cx="74.9" cy="645.9" r="2.7"/><circle cx="76.1" cy="645.4" r="2.7"/><circle cx="77.3" cy="644.9" r="2.7"/><circle cx="78.5" cy="643.2" r="2.7"/><circle cx="79.7" cy="642.3" r="2.7"/><circle cx="80.9" cy="641.0" r="2.7"/><circle cx="82.1" cy="638.4" r="2.7"/><circle cx="83.3" cy="639.0" r="2.7"/><circle cx="84.5" cy="639.4" r="2.7"/><circle cx="85.7" cy="638.3" r="2.7"/><circle cx="86.9" cy="637.7" r="2.7"/><circle cx="88.1" cy="635.7" r="2.7"/><circle cx="89.3" cy="634.0" r="2.7"/><circle cx="90.5" cy="632.3" r="2.7"/><circle cx="91.7" cy="628.2" r="2.7"/><circle cx="92.9" cy="626.1" r="2.7"/><circle cx="94.1" cy="622.3" r="2.7"/><circle cx="95.3" cy="621.9" r="2.7"/><circle cx="96.5" cy="618.1" r="2.7"/><circle cx="97.7" cy="615.6" r="2.7"/><circle cx="98.9" cy="613.8" r="2.7"/><circle cx="100.1" cy="611.3" r="2.7"/><circle cx="101.3" cy="608.4" r="2.7"/><circle cx="102.5" cy="607.4" r="2.7"/><circle cx="103.7" cy="603.8" r="2.7"/><circle cx="104.9" cy="604.5" r="2.7"/><circle cx="106.1" cy="603.9" r="2.7"/><circle cx="107.3" cy="602.9" r="2.7"/><circle cx="108.5" cy="606.6" r="2.7"/><circle cx="109.7" cy="607.2" r="2.7"/><circle cx="110.9" cy="614.9" r="2.7"/><circle cx="112.1" cy="621.8" r="2.7"/><circle cx="113.3" cy="630.6" r="2.7"/><circle cx="114.5" cy="639.3" r="2.7"/><circle cx="115.7" cy="645.4" r="2.7"/><circle cx="116.9" cy="652.0" r="2.7"/><circle cx="118.1" cy="659.9" r="2.7"/><circle cx="119.3" cy="666.4" r="2.7"/><circle cx="120.5" cy="669.9" r="2.7"/><circle cx="121.7" cy="673.8" r="2.7"/><circle cx="122.9" cy="678.5" r="2.7"/><circle cx="124.1" cy="678.8" r="2.7"/><circle cx="125.3" cy="683.6" r="2.7"/><circle cx="126.5" cy="685.6" r="2.7"/><circle cx="127.7" cy="689.2" r="2.7"/><circle cx="128.9" cy="689.8" r="2.7"/><circle cx="130.1" cy="690.8" r="2.7"/><circle cx="131.3" cy="692.6" r="2.7"/><circle cx="132.5" cy="692.5" r="2.7"/><circle cx="133.7" cy="694.6" r="2.7"/><circle cx="134.9" cy="694.6" r="2.7"/><circle cx="136.1" cy="695.4" r="2.7"/><circle cx="137.3" cy="695.6" r="2.7"/><circle cx="138.5" cy="697.5" r="2.7"/><circle cx="139.7" cy="696.9" r="2.7"/><circle cx="140.9" cy="697.8" r="2.7"/><circle cx="142.1" cy="698.1" r="2.7"/><circle cx="143.3" cy="697.3" r="2.7"/><circle cx="144.5" cy="698.8" r="2.7"/><circle cx="145.7" cy="698.8" r="2.7"/><circle cx="146.9" cy="699.1" r="2.7"/><circle cx="148.1" cy="698.7" r="2.7"/><circle cx="149.3" cy="698.9" r="2.7"/><circle cx="150.5" cy="700.3" r="2.7"/><circle cx="151.7" cy="701.8" r="2.7"/><circle cx="152.9" cy="699.3" r="2.7"/><circle cx="154.1" cy="700.7" r="2.7"/><circle cx="155.3" cy="700.1" r="2.7"/><circle cx="156.5" cy="701.3" r="2.7"/><circle cx="157.7" cy="701.2" r="2.7"/></g>
<path d="M24.50,709.56 L25.70,706.09 L26.90,708.03 L28.10,707.62 L29.30,708.31 L30.50,707.63 L31.70,707.55 L32.90,708.56 L34.10,709.45 L35.30,704.97 L36.50,706.98 L37.70,707.28 L38.90,706.72 L40.10,706.10 L41.30,704.88 L42.50,704.93 L43.70,706.10 L44.90,706.07 L46.10,704.84 L47.30,703.65 L48.50,704.13 L49.70,703.42 L50.90,703.67 L52.10,702.78 L53.30,701.55 L54.50,701.68 L55.70,699.81 L56.90,700.94 L58.10,700.57 L59.30,697.72 L60.50,698.41 L61.70,696.38 L62.90,697.46 L64.10,696.52 L65.30,694.71 L66.50,695.02 L67.70,692.95 L68.90,691.98 L70.10,691.28 L71.30,690.91 L72.50,690.01 L73.70,689.70 L74.90,688.28 L76.10,688.79 L77.30,688.28 L78.50,686.16 L79.70,684.55 L80.90,685.69 L82.10,685.23 L83.30,683.19 L84.50,681.28 L85.70,681.72 L86.90,681.85 L88.10,677.73 L89.30,678.72 L90.50,676.81 L91.70,675.01 L92.90,674.80 L94.10,671.63 L95.30,671.38 L96.50,670.48 L97.70,667.50 L98.90,664.45 L100.10,661.39 L101.30,659.44 L102.50,655.74 L103.70,654.89 L104.90,649.19 L106.10,645.97 L107.30,643.59 L108.50,642.68 L109.70,644.10 L110.90,646.26 L112.10,649.27 L113.30,653.27 L114.50,658.62 L115.70,666.38 L116.90,674.40 L118.10,681.79 L119.30,689.27 L120.50,695.98 L121.70,701.11 L122.90,704.91 L124.10,708.14 L125.30,711.39 L126.50,714.86 L127.70,718.39 L128.90,721.78 L130.10,724.84 L131.30,727.38 L132.50,729.19 L133.70,730.45 L134.90,731.59 L136.10,732.62 L137.30,733.54 L138.50,734.37 L139.70,735.11 L140.90,735.76 L142.10,736.35 L143.30,736.86 L144.50,737.32 L145.70,737.74 L146.90,738.15 L148.10,738.54 L149.30,738.92 L150.50,739.27 L151.70,739.59 L152.90,739.88 L154.10,740.11 L155.30,740.30 L156.50,740.43 L157.70,740.49" fill="none" stroke="#111" stroke-width="1.3"/>
<g fill="none" stroke="#e8189a" stroke-width="0.9"><circle cx="25.5" cy="707.7" r="3.0"/><circle cx="27.2" cy="701.8" r="3.0"/><circle cx="28.9" cy="702.9" r="3.0"/><circle cx="30.6" cy="698.5" r="3.0"/><circle cx="32.3" cy="710.6" r="3.0"/><circle cx="34.0" cy="703.5" r="3.0"/><circle cx="35.7" cy="704.2" r="3.0"/><circle cx="37.4" cy="702.8" r="3.0"/><circle cx="39.1" cy="703.0" r="3.0"/><circle cx="40.8" cy="701.2" r="3.0"/><circle cx="42.5" cy="697.5" r="3.0"/><circle cx="44.2" cy="700.1" r="3.0"/><circle cx="45.9" cy="697.1" r="3.0"/><circle cx="47.6" cy="700.0" r="3.0"/><circle cx="49.3" cy="692.5" r="3.0"/><circle cx="51.0" cy="692.0" r="3.0"/><circle cx="52.7" cy="694.7" r="3.0"/><circle cx="54.4" cy="695.6" r="3.0"/><circle cx="56.1" cy="690.9" r="3.0"/><circle cx="57.8" cy="687.0" r="3.0"/><circle cx="59.5" cy="687.9" r="3.0"/><circle cx="61.2" cy="685.6" r="3.0"/><circle cx="62.9" cy="692.2" r="3.0"/><circle cx="64.6" cy="687.8" r="3.0"/><circle cx="66.3" cy="687.8" r="3.0"/><circle cx="68.0" cy="683.4" r="3.0"/><circle cx="69.7" cy="679.2" r="3.0"/><circle cx="71.4" cy="683.2" r="3.0"/><circle cx="73.1" cy="682.9" r="3.0"/><circle cx="74.8" cy="677.4" r="3.0"/><circle cx="76.5" cy="673.3" r="3.0"/><circle cx="78.2" cy="674.6" r="3.0"/><circle cx="79.9" cy="667.6" r="3.0"/><circle cx="81.6" cy="668.8" r="3.0"/><circle cx="83.3" cy="661.7" r="3.0"/><circle cx="85.0" cy="658.3" r="3.0"/><circle cx="86.7" cy="660.5" r="3.0"/><circle cx="88.4" cy="657.2" r="3.0"/><circle cx="90.1" cy="659.8" r="3.0"/><circle cx="91.8" cy="650.3" r="3.0"/><circle cx="93.5" cy="648.7" r="3.0"/><circle cx="95.2" cy="642.6" r="3.0"/><circle cx="96.9" cy="638.3" r="3.0"/><circle cx="98.6" cy="637.2" r="3.0"/><circle cx="100.3" cy="643.3" r="3.0"/><circle cx="102.0" cy="637.2" r="3.0"/><circle cx="103.7" cy="644.1" r="3.0"/><circle cx="105.4" cy="645.6" r="3.0"/><circle cx="107.1" cy="641.9" r="3.0"/><circle cx="108.8" cy="650.8" r="3.0"/><circle cx="110.5" cy="651.4" r="3.0"/><circle cx="112.2" cy="660.8" r="3.0"/><circle cx="113.9" cy="664.0" r="3.0"/><circle cx="115.6" cy="677.8" r="3.0"/><circle cx="117.3" cy="685.5" r="3.0"/><circle cx="119.0" cy="702.6" r="3.0"/><circle cx="120.7" cy="707.1" r="3.0"/><circle cx="122.4" cy="712.8" r="3.0"/><circle cx="124.1" cy="719.0" r="3.0"/><circle cx="125.8" cy="720.6" r="3.0"/><circle cx="127.5" cy="722.5" r="3.0"/><circle cx="129.2" cy="727.6" r="3.0"/><circle cx="130.9" cy="730.6" r="3.0"/><circle cx="132.6" cy="726.1" r="3.0"/><circle cx="134.3" cy="734.2" r="3.0"/><circle cx="136.0" cy="735.6" r="3.0"/><circle cx="137.7" cy="731.9" r="3.0"/><circle cx="139.4" cy="736.1" r="3.0"/><circle cx="141.1" cy="731.2" r="3.0"/><circle cx="142.8" cy="740.5" r="3.0"/><circle cx="144.5" cy="735.6" r="3.0"/><circle cx="146.2" cy="736.6" r="3.0"/><circle cx="147.9" cy="741.1" r="3.0"/><circle cx="149.6" cy="737.3" r="3.0"/><circle cx="151.3" cy="740.0" r="3.0"/><circle cx="153.0" cy="735.1" r="3.0"/><circle cx="154.7" cy="737.0" r="3.0"/><circle cx="156.4" cy="734.7" r="3.0"/><circle cx="158.1" cy="738.7" r="3.0"/></g>
<rect x="21.20" y="521.40" width="142.60" height="229.30" fill="none" stroke="#111" stroke-width="1.5" stroke-linejoin="round"/>
<text x="23.9" y="537.2" font-size="15.4" fill="#231f20" text-anchor="start" textLength="32.6" lengthAdjust="spacingAndGlyphs" stroke="#231f20" stroke-width="0.2">Fe 2p</text>
<text x="56.8" y="541.6" font-size="9" fill="#231f20" text-anchor="start" textLength="11.2" lengthAdjust="spacingAndGlyphs" stroke="#231f20" stroke-width="0.2">3/2</text>
<line x1="26.70" y1="750.70" x2="26.70" y2="761.10" stroke="#111" stroke-width="1.4"/>
<line x1="59.50" y1="750.70" x2="59.50" y2="761.10" stroke="#111" stroke-width="1.4"/>
<line x1="92.40" y1="750.70" x2="92.40" y2="761.10" stroke="#111" stroke-width="1.4"/>
<line x1="125.00" y1="750.70" x2="125.00" y2="761.10" stroke="#111" stroke-width="1.4"/>
<line x1="157.80" y1="750.70" x2="157.80" y2="761.10" stroke="#111" stroke-width="1.4"/>
<text x="57.0" y="782.0" font-size="14.85" fill="#231f20" text-anchor="middle" textLength="23.5" lengthAdjust="spacingAndGlyphs" stroke="#231f20" stroke-width="0.2">710</text>
<text x="122.4" y="782.0" font-size="14.85" fill="#231f20" text-anchor="middle" textLength="22.5" lengthAdjust="spacingAndGlyphs" stroke="#231f20" stroke-width="0.2">706</text>
<text x="93.3" y="797.4" font-size="14.85" fill="#231f20" text-anchor="middle" textLength="124.4" lengthAdjust="spacingAndGlyphs" stroke="#231f20" stroke-width="0.2">Binding Energy [eV]</text>
<text x="176.2" y="527.4" font-size="14.85" fill="#231f20" text-anchor="start" textLength="16.2" lengthAdjust="spacingAndGlyphs" stroke="#231f20" stroke-width="0.2">(e)</text>
<rect x="202.3" y="522.8" width="131.4" height="229.4" fill="#c8c9cb"/>
<rect x="202.30" y="522.80" width="131.40" height="229.40" fill="none" stroke="#111" stroke-width="1.5" stroke-linejoin="round"/>
<path d="M203.00,575.70 L203.80,575.44 L204.60,575.16 L205.40,574.85 L206.20,574.52 L207.00,574.17 L207.80,573.80 L208.60,573.41 L209.40,573.01 L210.20,572.59 L211.00,572.15 L211.80,571.68 L212.60,571.18 L213.40,570.65 L214.20,570.10 L215.00,569.53 L215.80,568.93 L216.60,568.32 L217.40,567.68 L218.20,567.04 L219.00,566.35 L219.80,565.64 L220.60,564.88 L221.40,564.10 L222.20,563.29 L223.00,562.46 L223.80,561.61 L224.60,560.74 L225.40,559.86 L226.20,558.98 L227.00,558.08 L227.80,557.15 L228.60,556.21 L229.40,555.25 L230.20,554.26 L231.00,553.25 L231.80,552.21 L232.60,551.14 L233.40,550.05 L234.20,548.91 L235.00,547.70 L235.80,546.41 L236.60,545.07 L237.40,543.69 L238.20,542.31 L239.00,540.93 L239.80,539.60 L240.60,538.31 L241.40,537.09 L242.20,535.83 L243.00,534.56 L243.80,533.35 L244.60,532.23 L245.40,531.28 L246.20,530.53 L247.00,529.83 L247.80,529.17 L248.60,528.63 L249.40,528.29 L250.20,528.20 L251.00,528.29 L251.80,528.48 L252.60,528.74 L253.40,529.06 L254.20,529.42 L255.00,529.80 L255.80,530.26 L256.60,530.88 L257.40,531.62 L258.20,532.47 L259.00,533.40 L259.80,534.39 L260.60,535.42 L261.40,536.46 L262.20,537.49 L263.00,538.51 L263.80,539.57 L264.60,540.68 L265.40,541.84 L266.20,543.03 L267.00,544.26 L267.80,545.51 L268.60,546.78 L269.40,548.05 L270.20,549.33 L271.00,550.60 L271.80,551.86 L272.60,553.15 L273.40,554.48 L274.20,555.85 L275.00,557.23 L275.80,558.60 L276.60,559.95 L277.40,561.25 L278.20,562.49 L279.00,563.65 L279.80,564.73 L280.60,565.75 L281.40,566.72 L282.20,567.67 L283.00,568.58 L283.80,569.46 L284.60,570.32 L285.40,571.16 L286.20,571.98 L287.00,572.80 L287.80,573.60 L288.60,574.41 L289.40,575.20 L290.20,575.99 L291.00,576.78 L291.80,577.55 L292.60,578.30 L293.40,579.04 L294.20,579.77 L295.00,580.48 L295.80,581.17 L296.60,581.84 L297.40,582.48 L298.20,583.11 L299.00,583.70 L299.80,584.27 L300.60,584.81 L301.40,585.33 L302.20,585.82 L303.00,586.31 L303.80,586.78 L304.60,587.24 L305.40,587.70 L306.20,588.16 L307.00,588.62 L307.80,589.07 L308.60,589.52 L309.40,589.97 L310.20,590.40 L311.00,590.82 L311.80,591.23 L312.60,591.63 L313.40,592.01 L314.20,592.36 L315.00,592.70 L315.80,593.02 L316.60,593.33 L317.40,593.62 L318.20,593.91 L319.00,594.19 L319.80,594.46 L320.60,594.72 L321.40,594.97 L322.20,595.21 L323.00,595.45 L323.80,595.67 L324.60,595.89 L325.40,596.11 L326.20,596.31 L327.00,596.51 L327.80,596.71 L328.60,596.90 L329.40,597.09 L330.20,597.27 L331.00,597.44 L331.80,597.61 L332.60,597.77 L333.40,597.92" fill="none" stroke="#111" stroke-width="1.5"/>
<g fill="none" stroke="#1a1a1a" stroke-width="1.0"><circle cx="204.0" cy="575.4" r="2.8"/><circle cx="208.2" cy="573.6" r="2.8"/><circle cx="212.4" cy="571.3" r="2.8"/><circle cx="216.6" cy="568.3" r="2.8"/><circle cx="220.8" cy="564.7" r="2.8"/><circle cx="225.0" cy="560.3" r="2.8"/><circle cx="229.2" cy="555.5" r="2.8"/><circle cx="233.4" cy="550.0" r="2.8"/><circle cx="237.6" cy="543.3" r="2.8"/><circle cx="241.8" cy="536.5" r="2.8"/><circle cx="246.0" cy="530.7" r="2.8"/><circle cx="250.2" cy="528.2" r="2.8"/><circle cx="254.4" cy="529.5" r="2.8"/><circle cx="258.6" cy="532.9" r="2.8"/><circle cx="262.8" cy="538.3" r="2.8"/><circle cx="267.0" cy="544.3" r="2.8"/><circle cx="271.2" cy="550.9" r="2.8"/><circle cx="275.4" cy="557.9" r="2.8"/><circle cx="279.6" cy="564.5" r="2.8"/><circle cx="283.8" cy="569.5" r="2.8"/><circle cx="288.0" cy="573.8" r="2.8"/><circle cx="292.2" cy="577.9" r="2.8"/><circle cx="296.4" cy="581.7" r="2.8"/><circle cx="300.6" cy="584.8" r="2.8"/><circle cx="304.8" cy="587.4" r="2.8"/><circle cx="309.0" cy="589.7" r="2.8"/><circle cx="313.2" cy="591.9" r="2.8"/><circle cx="317.4" cy="593.6" r="2.8"/><circle cx="321.6" cy="595.0" r="2.8"/><circle cx="325.8" cy="596.2" r="2.8"/><circle cx="330.0" cy="597.2" r="2.8"/><circle cx="334.2" cy="598.1" r="2.8"/></g>
<path d="M203.00,612.10 L203.80,612.10 L204.60,611.91 L205.40,611.63 L206.20,611.33 L207.00,611.00 L207.80,610.66 L208.60,610.29 L209.40,609.91 L210.20,609.51 L211.00,609.10 L211.80,608.66 L212.60,608.20 L213.40,607.70 L214.20,607.18 L215.00,606.64 L215.80,606.07 L216.60,605.48 L217.40,604.87 L218.20,604.24 L219.00,603.60 L219.80,602.93 L220.60,602.22 L221.40,601.47 L222.20,600.70 L223.00,599.90 L223.80,599.07 L224.60,598.22 L225.40,597.36 L226.20,596.49 L227.00,595.60 L227.80,594.70 L228.60,593.79 L229.40,592.85 L230.20,591.89 L231.00,590.91 L231.80,589.91 L232.60,588.87 L233.40,587.81 L234.20,586.72 L235.00,585.60 L235.80,584.41 L236.60,583.14 L237.40,581.81 L238.20,580.44 L239.00,579.05 L239.80,577.68 L240.60,576.33 L241.40,575.03 L242.20,573.80 L243.00,572.55 L243.80,571.28 L244.60,570.04 L245.40,568.90 L246.20,567.90 L247.00,567.10 L247.80,566.40 L248.60,565.73 L249.40,565.15 L250.20,564.75 L251.00,564.60 L251.80,564.66 L252.60,564.82 L253.40,565.07 L254.20,565.38 L255.00,565.73 L255.80,566.10 L256.60,566.53 L257.40,567.11 L258.20,567.83 L259.00,568.65 L259.80,569.56 L260.60,570.54 L261.40,571.56 L262.20,572.60 L263.00,573.64 L263.80,574.65 L264.60,575.70 L265.40,576.80 L266.20,577.95 L267.00,579.13 L267.80,580.35 L268.60,581.60 L269.40,582.86 L270.20,584.13 L271.00,585.41 L271.80,586.68 L272.60,587.94 L273.40,589.22 L274.20,590.55 L275.00,591.91 L275.80,593.28 L276.60,594.66 L277.40,596.01 L278.20,597.33 L279.00,598.59 L279.80,599.77 L280.60,600.86 L281.40,601.89 L282.20,602.88 L283.00,603.83 L283.80,604.75 L284.60,605.64 L285.40,606.50 L286.20,607.35 L287.00,608.18 L287.80,608.99 L288.60,609.80 L289.40,610.61 L290.20,611.41 L291.00,612.20 L291.80,612.98 L292.60,613.75 L293.40,614.51 L294.20,615.26 L295.00,615.99 L295.80,616.71 L296.60,617.40 L297.40,618.07 L298.20,618.72 L299.00,619.35 L299.80,619.95 L300.60,620.53 L301.40,621.07 L302.20,621.60 L303.00,622.10 L303.80,622.59 L304.60,623.06 L305.40,623.53 L306.20,623.99 L307.00,624.44 L307.80,624.90 L308.60,625.36 L309.40,625.81 L310.20,626.26 L311.00,626.69 L311.80,627.12 L312.60,627.53 L313.40,627.93 L314.20,628.31 L315.00,628.68 L315.80,629.02 L316.60,629.34 L317.40,629.65 L318.20,629.95 L319.00,630.24 L319.80,630.52 L320.60,630.79 L321.40,631.06 L322.20,631.31 L323.00,631.55 L323.80,631.79 L324.60,632.02 L325.40,632.24 L326.20,632.45 L327.00,632.66 L327.80,632.86 L328.60,633.06 L329.40,633.26 L330.20,633.44 L331.00,633.62 L331.80,633.80 L332.60,633.97 L333.40,634.13" fill="none" stroke="#111" stroke-width="1.5"/>
<g fill="none" stroke="#3a3aa6" stroke-width="1.0"><circle cx="204.0" cy="612.1" r="2.8"/><circle cx="208.2" cy="611.0" r="2.8"/><circle cx="212.4" cy="609.0" r="2.8"/><circle cx="216.6" cy="606.4" r="2.8"/><circle cx="220.8" cy="603.1" r="2.8"/><circle cx="225.0" cy="599.1" r="2.8"/><circle cx="229.2" cy="594.5" r="2.8"/><circle cx="233.4" cy="589.4" r="2.8"/><circle cx="237.6" cy="583.5" r="2.8"/><circle cx="241.8" cy="576.3" r="2.8"/><circle cx="246.0" cy="569.7" r="2.8"/><circle cx="250.2" cy="565.4" r="2.8"/><circle cx="254.4" cy="564.9" r="2.8"/><circle cx="258.6" cy="566.9" r="2.8"/><circle cx="262.8" cy="571.4" r="2.8"/><circle cx="267.0" cy="576.8" r="2.8"/><circle cx="271.2" cy="583.1" r="2.8"/><circle cx="275.4" cy="589.7" r="2.8"/><circle cx="279.6" cy="596.7" r="2.8"/><circle cx="283.8" cy="602.3" r="2.8"/><circle cx="288.0" cy="606.7" r="2.8"/><circle cx="292.2" cy="610.8" r="2.8"/><circle cx="296.4" cy="614.7" r="2.8"/><circle cx="300.6" cy="618.0" r="2.8"/><circle cx="304.8" cy="620.7" r="2.8"/><circle cx="309.0" cy="623.0" r="2.8"/><circle cx="313.2" cy="625.2" r="2.8"/><circle cx="317.4" cy="627.2" r="2.8"/><circle cx="321.6" cy="628.7" r="2.8"/><circle cx="325.8" cy="630.0" r="2.8"/><circle cx="330.0" cy="631.1" r="2.8"/><circle cx="334.2" cy="632.0" r="2.8"/></g>
<path d="M203.00,648.47 L203.80,648.18 L204.60,647.87 L205.40,647.53 L206.20,647.18 L207.00,646.81 L207.80,646.41 L208.60,646.01 L209.40,645.59 L210.20,645.14 L211.00,644.66 L211.80,644.15 L212.60,643.62 L213.40,643.06 L214.20,642.48 L215.00,641.88 L215.80,641.26 L216.60,640.62 L217.40,639.97 L218.20,639.28 L219.00,638.55 L219.80,637.79 L220.60,637.00 L221.40,636.19 L222.20,635.35 L223.00,634.49 L223.80,633.62 L224.60,632.74 L225.40,631.85 L226.20,630.95 L227.00,630.02 L227.80,629.08 L228.60,628.11 L229.40,627.11 L230.20,626.09 L231.00,625.05 L231.80,623.97 L232.60,622.87 L233.40,621.72 L234.20,620.49 L235.00,619.18 L235.80,617.83 L236.60,616.45 L237.40,615.06 L238.20,613.70 L239.00,612.37 L239.80,611.10 L240.60,609.88 L241.40,608.61 L242.20,607.35 L243.00,606.16 L243.80,605.08 L244.60,604.17 L245.40,603.45 L246.20,602.76 L247.00,602.12 L247.80,601.63 L248.60,601.34 L249.40,601.32 L250.20,601.43 L251.00,601.63 L251.80,601.92 L252.60,602.25 L253.40,602.62 L254.20,603.00 L255.00,603.50 L255.80,604.15 L256.60,604.93 L257.40,605.80 L258.20,606.75 L259.00,607.75 L259.80,608.78 L260.60,609.82 L261.40,610.85 L262.20,611.87 L263.00,612.94 L263.80,614.07 L264.60,615.23 L265.40,616.44 L266.20,617.67 L267.00,618.93 L267.80,620.20 L268.60,621.47 L269.40,622.75 L270.20,624.01 L271.00,625.27 L271.80,626.58 L272.60,627.92 L273.40,629.30 L274.20,630.67 L275.00,632.04 L275.80,633.38 L276.60,634.67 L277.40,635.89 L278.20,637.03 L279.00,638.09 L279.80,639.09 L280.60,640.06 L281.40,641.00 L282.20,641.90 L283.00,642.78 L283.80,643.63 L284.60,644.46 L285.40,645.29 L286.20,646.10 L287.00,646.90 L287.80,647.71 L288.60,648.50 L289.40,649.29 L290.20,650.07 L291.00,650.84 L291.80,651.59 L292.60,652.33 L293.40,653.05 L294.20,653.75 L295.00,654.44 L295.80,655.10 L296.60,655.74 L297.40,656.36 L298.20,656.94 L299.00,657.50 L299.80,658.04 L300.60,658.55 L301.40,659.05 L302.20,659.53 L303.00,659.99 L303.80,660.46 L304.60,660.91 L305.40,661.37 L306.20,661.83 L307.00,662.28 L307.80,662.73 L308.60,663.18 L309.40,663.61 L310.20,664.03 L311.00,664.44 L311.80,664.83 L312.60,665.20 L313.40,665.55 L314.20,665.88 L315.00,666.20 L315.80,666.50 L316.60,666.80 L317.40,667.08 L318.20,667.36 L319.00,667.63 L319.80,667.88 L320.60,668.13 L321.40,668.37 L322.20,668.61 L323.00,668.83 L323.80,669.05 L324.60,669.26 L325.40,669.46 L326.20,669.66 L327.00,669.86 L327.80,670.05 L328.60,670.23 L329.40,670.41 L330.20,670.58 L331.00,670.75 L331.80,670.91 L332.60,671.06 L333.40,671.20" fill="none" stroke="#111" stroke-width="1.5"/>
<g fill="none" stroke="#3f8f5f" stroke-width="1.0"><circle cx="204.0" cy="648.8" r="2.8"/><circle cx="208.2" cy="648.2" r="2.8"/><circle cx="212.4" cy="646.4" r="2.8"/><circle cx="216.6" cy="644.0" r="2.8"/><circle cx="220.8" cy="640.9" r="2.8"/><circle cx="225.0" cy="637.1" r="2.8"/><circle cx="229.2" cy="632.6" r="2.8"/><circle cx="233.4" cy="627.7" r="2.8"/><circle cx="237.6" cy="622.2" r="2.8"/><circle cx="241.8" cy="615.2" r="2.8"/><circle cx="246.0" cy="608.5" r="2.8"/><circle cx="250.2" cy="603.2" r="2.8"/><circle cx="254.4" cy="601.4" r="2.8"/><circle cx="258.6" cy="602.9" r="2.8"/><circle cx="262.8" cy="606.9" r="2.8"/><circle cx="267.0" cy="612.3" r="2.8"/><circle cx="271.2" cy="618.5" r="2.8"/><circle cx="275.4" cy="625.1" r="2.8"/><circle cx="279.6" cy="632.2" r="2.8"/><circle cx="283.8" cy="638.5" r="2.8"/><circle cx="288.0" cy="643.3" r="2.8"/><circle cx="292.2" cy="647.6" r="2.8"/><circle cx="296.4" cy="651.7" r="2.8"/><circle cx="300.6" cy="655.3" r="2.8"/><circle cx="304.8" cy="658.4" r="2.8"/><circle cx="309.0" cy="660.9" r="2.8"/><circle cx="313.2" cy="663.2" r="2.8"/><circle cx="317.4" cy="665.3" r="2.8"/><circle cx="321.6" cy="667.0" r="2.8"/><circle cx="325.8" cy="668.3" r="2.8"/><circle cx="330.0" cy="669.5" r="2.8"/><circle cx="334.2" cy="670.5" r="2.8"/></g>
<path d="M203.00,684.70 L203.80,684.44 L204.60,684.16 L205.40,683.85 L206.20,683.52 L207.00,683.17 L207.80,682.80 L208.60,682.41 L209.40,682.01 L210.20,681.59 L211.00,681.15 L211.80,680.68 L212.60,680.18 L213.40,679.65 L214.20,679.10 L215.00,678.53 L215.80,677.93 L216.60,677.32 L217.40,676.68 L218.20,676.04 L219.00,675.35 L219.80,674.64 L220.60,673.88 L221.40,673.10 L222.20,672.29 L223.00,671.46 L223.80,670.61 L224.60,669.74 L225.40,668.86 L226.20,667.98 L227.00,667.08 L227.80,666.15 L228.60,665.21 L229.40,664.25 L230.20,663.26 L231.00,662.25 L231.80,661.21 L232.60,660.14 L233.40,659.05 L234.20,657.91 L235.00,656.70 L235.80,655.41 L236.60,654.07 L237.40,652.69 L238.20,651.31 L239.00,649.93 L239.80,648.60 L240.60,647.31 L241.40,646.09 L242.20,644.83 L243.00,643.56 L243.80,642.35 L244.60,641.23 L245.40,640.28 L246.20,639.53 L247.00,638.83 L247.80,638.17 L248.60,637.63 L249.40,637.29 L250.20,637.20 L251.00,637.29 L251.80,637.48 L252.60,637.74 L253.40,638.06 L254.20,638.42 L255.00,638.80 L255.80,639.26 L256.60,639.88 L257.40,640.62 L258.20,641.47 L259.00,642.40 L259.80,643.39 L260.60,644.42 L261.40,645.46 L262.20,646.49 L263.00,647.51 L263.80,648.57 L264.60,649.68 L265.40,650.84 L266.20,652.03 L267.00,653.26 L267.80,654.51 L268.60,655.78 L269.40,657.05 L270.20,658.33 L271.00,659.60 L271.80,660.86 L272.60,662.15 L273.40,663.48 L274.20,664.85 L275.00,666.23 L275.80,667.60 L276.60,668.95 L277.40,670.25 L278.20,671.49 L279.00,672.65 L279.80,673.73 L280.60,674.75 L281.40,675.72 L282.20,676.67 L283.00,677.58 L283.80,678.46 L284.60,679.32 L285.40,680.16 L286.20,680.98 L287.00,681.80 L287.80,682.60 L288.60,683.41 L289.40,684.20 L290.20,684.99 L291.00,685.78 L291.80,686.55 L292.60,687.30 L293.40,688.04 L294.20,688.77 L295.00,689.48 L295.80,690.17 L296.60,690.84 L297.40,691.48 L298.20,692.11 L299.00,692.70 L299.80,693.27 L300.60,693.81 L301.40,694.33 L302.20,694.82 L303.00,695.31 L303.80,695.78 L304.60,696.24 L305.40,696.70 L306.20,697.16 L307.00,697.62 L307.80,698.07 L308.60,698.52 L309.40,698.97 L310.20,699.40 L311.00,699.82 L311.80,700.23 L312.60,700.63 L313.40,701.01 L314.20,701.36 L315.00,701.70 L315.80,702.02 L316.60,702.33 L317.40,702.62 L318.20,702.91 L319.00,703.19 L319.80,703.46 L320.60,703.72 L321.40,703.97 L322.20,704.21 L323.00,704.45 L323.80,704.67 L324.60,704.89 L325.40,705.11 L326.20,705.31 L327.00,705.51 L327.80,705.71 L328.60,705.90 L329.40,706.09 L330.20,706.27 L331.00,706.44 L331.80,706.61 L332.60,706.77 L333.40,706.92" fill="none" stroke="#111" stroke-width="1.5"/>
<g fill="none" stroke="#e8189a" stroke-width="1.0"><circle cx="204.0" cy="684.7" r="2.8"/><circle cx="208.2" cy="684.1" r="2.8"/><circle cx="212.4" cy="682.3" r="2.8"/><circle cx="216.6" cy="679.9" r="2.8"/><circle cx="220.8" cy="676.8" r="2.8"/><circle cx="225.0" cy="673.0" r="2.8"/><circle cx="229.2" cy="668.5" r="2.8"/><circle cx="233.4" cy="663.6" r="2.8"/><circle cx="237.6" cy="658.1" r="2.8"/><circle cx="241.8" cy="651.1" r="2.8"/><circle cx="246.0" cy="644.4" r="2.8"/><circle cx="250.2" cy="639.1" r="2.8"/><circle cx="254.4" cy="637.3" r="2.8"/><circle cx="258.6" cy="638.8" r="2.8"/><circle cx="262.8" cy="642.8" r="2.8"/><circle cx="267.0" cy="648.2" r="2.8"/><circle cx="271.2" cy="654.4" r="2.8"/><circle cx="275.4" cy="661.0" r="2.8"/><circle cx="279.6" cy="668.1" r="2.8"/><circle cx="283.8" cy="674.4" r="2.8"/><circle cx="288.0" cy="679.2" r="2.8"/><circle cx="292.2" cy="683.5" r="2.8"/><circle cx="296.4" cy="687.6" r="2.8"/><circle cx="300.6" cy="691.2" r="2.8"/><circle cx="304.8" cy="694.3" r="2.8"/><circle cx="309.0" cy="696.8" r="2.8"/><circle cx="313.2" cy="699.1" r="2.8"/><circle cx="317.4" cy="701.2" r="2.8"/><circle cx="321.6" cy="702.9" r="2.8"/><circle cx="325.8" cy="704.2" r="2.8"/><circle cx="330.0" cy="705.4" r="2.8"/><circle cx="334.2" cy="706.4" r="2.8"/></g>
<path d="M203.00,721.80 L203.80,721.51 L204.60,721.19 L205.40,720.85 L206.20,720.49 L207.00,720.11 L207.80,719.71 L208.60,719.30 L209.40,718.88 L210.20,718.42 L211.00,717.93 L211.80,717.42 L212.60,716.88 L213.40,716.32 L214.20,715.73 L215.00,715.13 L215.80,714.50 L216.60,713.86 L217.40,713.20 L218.20,712.50 L219.00,711.76 L219.80,711.00 L220.60,710.20 L221.40,709.38 L222.20,708.54 L223.00,707.68 L223.80,706.81 L224.60,705.92 L225.40,705.03 L226.20,704.12 L227.00,703.19 L227.80,702.24 L228.60,701.26 L229.40,700.26 L230.20,699.24 L231.00,698.18 L231.80,697.10 L232.60,695.98 L233.40,694.82 L234.20,693.57 L235.00,692.25 L235.80,690.88 L236.60,689.50 L237.40,688.12 L238.20,686.76 L239.00,685.45 L239.80,684.20 L240.60,682.96 L241.40,681.69 L242.20,680.44 L243.00,679.27 L243.80,678.23 L244.60,677.38 L245.40,676.68 L246.20,675.99 L247.00,675.38 L247.80,674.93 L248.60,674.71 L249.40,674.73 L250.20,674.87 L251.00,675.10 L251.80,675.39 L252.60,675.74 L253.40,676.11 L254.20,676.51 L255.00,677.05 L255.80,677.74 L256.60,678.54 L257.40,679.43 L258.20,680.39 L259.00,681.40 L259.80,682.44 L260.60,683.48 L261.40,684.50 L262.20,685.53 L263.00,686.62 L263.80,687.75 L264.60,688.93 L265.40,690.14 L266.20,691.38 L267.00,692.64 L267.80,693.91 L268.60,695.19 L269.40,696.46 L270.20,697.73 L271.00,698.99 L271.80,700.31 L272.60,701.66 L273.40,703.04 L274.20,704.42 L275.00,705.78 L275.80,707.11 L276.60,708.38 L277.40,709.58 L278.20,710.70 L279.00,711.74 L279.80,712.74 L280.60,713.70 L281.40,714.63 L282.20,715.52 L283.00,716.39 L283.80,717.24 L284.60,718.07 L285.40,718.89 L286.20,719.70 L287.00,720.51 L287.80,721.31 L288.60,722.10 L289.40,722.89 L290.20,723.66 L291.00,724.43 L291.80,725.18 L292.60,725.91 L293.40,726.63 L294.20,727.33 L295.00,728.01 L295.80,728.66 L296.60,729.30 L297.40,729.91 L298.20,730.49 L299.00,731.04 L299.80,731.57 L300.60,732.08 L301.40,732.57 L302.20,733.04 L303.00,733.51 L303.80,733.97 L304.60,734.43 L305.40,734.89 L306.20,735.34 L307.00,735.80 L307.80,736.24 L308.60,736.68 L309.40,737.11 L310.20,737.53 L311.00,737.93 L311.80,738.32 L312.60,738.69 L313.40,739.04 L314.20,739.36 L315.00,739.67 L315.80,739.98 L316.60,740.27 L317.40,740.55 L318.20,740.83 L319.00,741.09 L319.80,741.35 L320.60,741.59 L321.40,741.83 L322.20,742.06 L323.00,742.29 L323.80,742.50 L324.60,742.71 L325.40,742.91 L326.20,743.11 L327.00,743.31 L327.80,743.50 L328.60,743.68 L329.40,743.86 L330.20,744.03 L331.00,744.19 L331.80,744.34 L332.60,744.49 L333.40,744.63" fill="none" stroke="#111" stroke-width="1.5" stroke-dasharray="3.2 2.2"/>
<g fill="none" stroke="#f0e000" stroke-width="1.0"><circle cx="204.0" cy="722.2" r="2.8"/><circle cx="208.2" cy="721.3" r="2.8"/><circle cx="212.4" cy="719.3" r="2.8"/><circle cx="216.6" cy="716.7" r="2.8"/><circle cx="220.8" cy="713.5" r="2.8"/><circle cx="225.0" cy="709.6" r="2.8"/><circle cx="229.2" cy="705.0" r="2.8"/><circle cx="233.4" cy="700.0" r="2.8"/><circle cx="237.6" cy="694.2" r="2.8"/><circle cx="241.8" cy="687.1" r="2.8"/><circle cx="246.0" cy="680.4" r="2.8"/><circle cx="250.2" cy="675.8" r="2.8"/><circle cx="254.4" cy="675.0" r="2.8"/><circle cx="258.6" cy="676.9" r="2.8"/><circle cx="262.8" cy="681.4" r="2.8"/><circle cx="267.0" cy="686.9" r="2.8"/><circle cx="271.2" cy="693.3" r="2.8"/><circle cx="275.4" cy="700.0" r="2.8"/><circle cx="279.6" cy="707.1" r="2.8"/><circle cx="283.8" cy="713.0" r="2.8"/><circle cx="288.0" cy="717.7" r="2.8"/><circle cx="292.2" cy="721.9" r="2.8"/><circle cx="296.4" cy="725.9" r="2.8"/><circle cx="300.6" cy="729.5" r="2.8"/><circle cx="304.8" cy="732.3" r="2.8"/><circle cx="309.0" cy="734.8" r="2.8"/><circle cx="313.2" cy="737.1" r="2.8"/><circle cx="317.4" cy="739.1" r="2.8"/><circle cx="321.6" cy="740.7" r="2.8"/><circle cx="325.8" cy="742.0" r="2.8"/><circle cx="330.0" cy="743.1" r="2.8"/><circle cx="334.2" cy="744.1" r="2.8"/></g>
<text x="293.4" y="539.4" font-size="15.4" fill="#231f20" text-anchor="start" textLength="23.8" lengthAdjust="spacingAndGlyphs" stroke="#231f20" stroke-width="0.2">Ir 4f</text>
<text x="317.4" y="544.4" font-size="9" fill="#231f20" text-anchor="start" textLength="11.6" lengthAdjust="spacingAndGlyphs" stroke="#231f20" stroke-width="0.2">7/2</text>
<line x1="202.30" y1="752.20" x2="202.30" y2="763.30" stroke="#111" stroke-width="1.4"/>
<line x1="245.90" y1="752.20" x2="245.90" y2="763.30" stroke="#111" stroke-width="1.4"/>
<line x1="289.50" y1="752.20" x2="289.50" y2="763.30" stroke="#111" stroke-width="1.4"/>
<line x1="333.70" y1="752.20" x2="333.70" y2="763.30" stroke="#111" stroke-width="1.4"/>
<text x="246.0" y="781.6" font-size="14.85" fill="#231f20" text-anchor="middle" textLength="14.1" lengthAdjust="spacingAndGlyphs" stroke="#231f20" stroke-width="0.2">61</text>
<text x="288.7" y="781.6" font-size="14.85" fill="#231f20" text-anchor="middle" textLength="15.3" lengthAdjust="spacingAndGlyphs" stroke="#231f20" stroke-width="0.2">60</text>
<text x="267.9" y="797.6" font-size="14.85" fill="#231f20" text-anchor="middle" textLength="123.8" lengthAdjust="spacingAndGlyphs" stroke="#231f20" stroke-width="0.2">Binding Energy [eV]</text>
<text x="352.6" y="641.5" font-size="14.85" fill="#231f20" text-anchor="middle" textLength="131.7" lengthAdjust="spacingAndGlyphs" transform="rotate(-90 352.6 641.5)" stroke="#231f20" stroke-width="0.2">Normalized Intenisty</text>
</svg></body></html>
